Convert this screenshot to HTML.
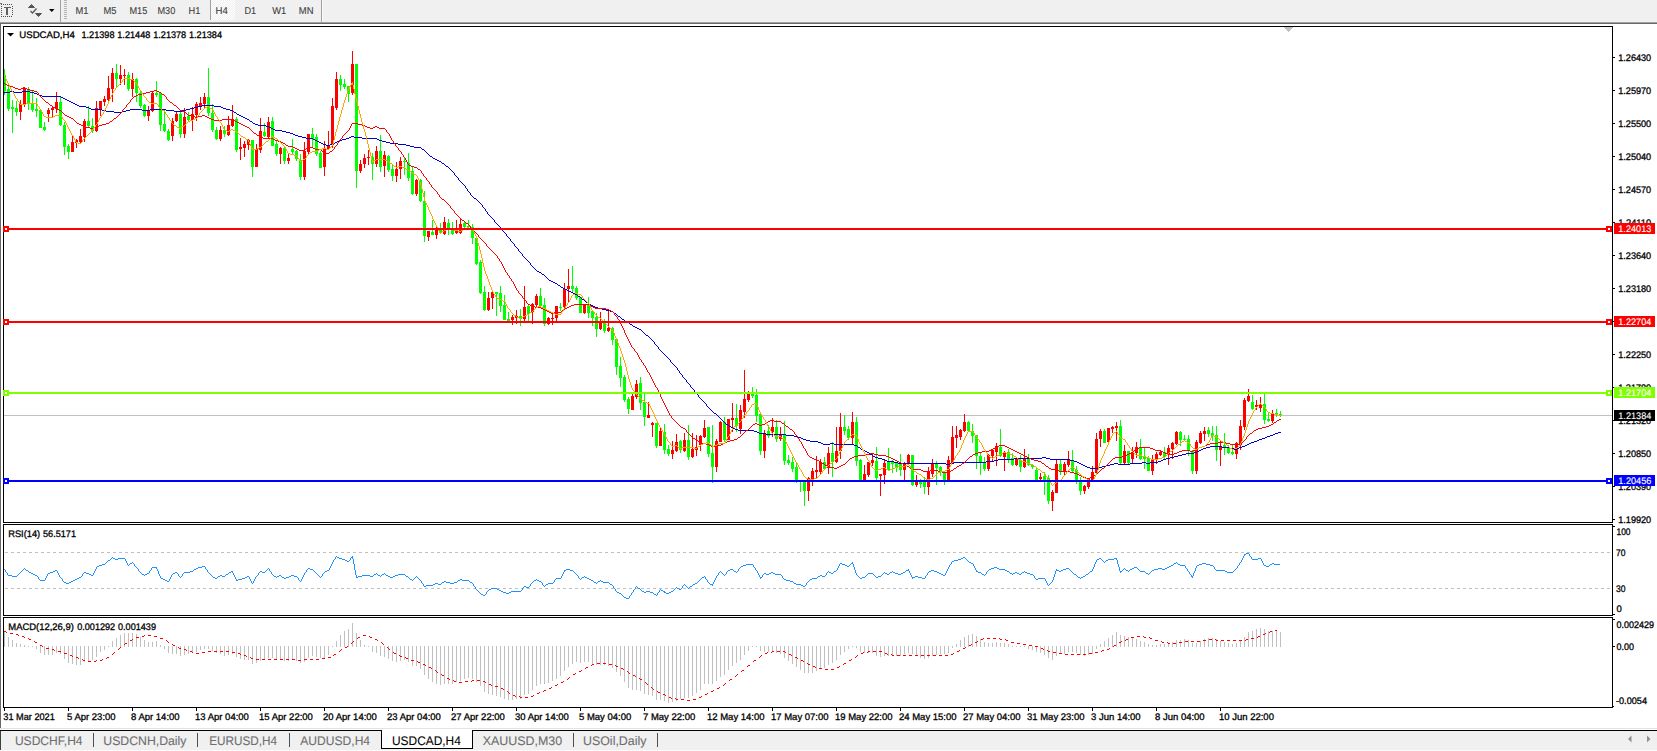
<!DOCTYPE html>
<html><head><meta charset="utf-8"><title>USDCAD,H4</title>
<style>
html,body{margin:0;padding:0;background:#fff;overflow:hidden}
svg{display:block;font-family:"Liberation Sans",sans-serif}
text{text-rendering:geometricPrecision}
</style></head><body>
<svg width="1657" height="751" viewBox="0 0 1657 751">
<rect x="0" y="0" width="1657" height="751" fill="#ffffff"/>
<rect x="0" y="0" width="1657" height="22" fill="#f0f0f0"/>
<rect x="0" y="22" width="1657" height="1" fill="#a0a0a0"/>
<rect x="0" y="23" width="1657" height="1" fill="#696969"/>
<rect x="0" y="24" width="1" height="704" fill="#696969"/>
<rect x="1" y="4" width="1" height="1" fill="#505050"/>
<rect x="1" y="16" width="1" height="1" fill="#505050"/>
<rect x="3" y="4" width="1" height="1" fill="#505050"/>
<rect x="3" y="16" width="1" height="1" fill="#505050"/>
<rect x="5" y="4" width="1" height="1" fill="#505050"/>
<rect x="5" y="16" width="1" height="1" fill="#505050"/>
<rect x="7" y="4" width="1" height="1" fill="#505050"/>
<rect x="7" y="16" width="1" height="1" fill="#505050"/>
<rect x="9" y="4" width="1" height="1" fill="#505050"/>
<rect x="9" y="16" width="1" height="1" fill="#505050"/>
<rect x="11" y="4" width="1" height="1" fill="#505050"/>
<rect x="11" y="16" width="1" height="1" fill="#505050"/>
<rect x="1" y="6" width="1" height="1" fill="#505050"/>
<rect x="12" y="6" width="1" height="1" fill="#505050"/>
<rect x="1" y="8" width="1" height="1" fill="#505050"/>
<rect x="12" y="8" width="1" height="1" fill="#505050"/>
<rect x="1" y="10" width="1" height="1" fill="#505050"/>
<rect x="12" y="10" width="1" height="1" fill="#505050"/>
<rect x="1" y="12" width="1" height="1" fill="#505050"/>
<rect x="12" y="12" width="1" height="1" fill="#505050"/>
<rect x="1" y="14" width="1" height="1" fill="#505050"/>
<rect x="12" y="14" width="1" height="1" fill="#505050"/>
<rect x="0" y="3" width="2" height="1" fill="#707070"/>
<rect x="4" y="7" width="7" height="1" fill="#606060"/>
<rect x="6" y="7" width="2" height="8" fill="#606060"/>
<path d="M28.5 7.5 L31.5 4.5 L34.5 7.5 Z M35.5 13.5 L38.5 16.5 L41.5 13.5 Z" fill="#555" stroke="#555" stroke-width="1" shape-rendering="auto"/>
<path d="M30.5 11 L32.5 13 L36.5 8.5" fill="none" stroke="#555" stroke-width="1.3" shape-rendering="auto"/>
<path d="M49 9 L54.5 9 L51.75 12 Z" fill="#000" shape-rendering="auto"/>
<rect x="60" y="0" width="1" height="22" fill="#a0a0a0"/>
<rect x="64" y="0" width="3" height="1" fill="#b4b4b4"/>
<rect x="64" y="2" width="3" height="1" fill="#b4b4b4"/>
<rect x="64" y="4" width="3" height="1" fill="#b4b4b4"/>
<rect x="64" y="6" width="3" height="1" fill="#b4b4b4"/>
<rect x="64" y="8" width="3" height="1" fill="#b4b4b4"/>
<rect x="64" y="10" width="3" height="1" fill="#b4b4b4"/>
<rect x="64" y="12" width="3" height="1" fill="#b4b4b4"/>
<rect x="64" y="14" width="3" height="1" fill="#b4b4b4"/>
<rect x="64" y="16" width="3" height="1" fill="#b4b4b4"/>
<rect x="64" y="18" width="3" height="1" fill="#b4b4b4"/>
<rect x="210" y="0" width="1" height="20" fill="#a0a0a0"/>
<defs><pattern id="dith" width="2" height="2" patternUnits="userSpaceOnUse"><rect width="2" height="2" fill="#f0f0f0"/><rect width="1" height="1" fill="#fff"/><rect x="1" y="1" width="1" height="1" fill="#fff"/></pattern></defs>
<rect x="211" y="0" width="24" height="20" fill="url(#dith)" shape-rendering="crispEdges"/>
<rect x="321" y="0" width="1" height="22" fill="#a0a0a0"/>
<rect x="322" y="0" width="1" height="22" fill="#fafafa"/>
<text x="75.5" y="14" font-size="10" fill="#3c3c3c" stroke="#3c3c3c" stroke-width="0.1" textLength="13" lengthAdjust="spacingAndGlyphs">M1</text>
<text x="103.5" y="14" font-size="10" fill="#3c3c3c" stroke="#3c3c3c" stroke-width="0.1" textLength="13" lengthAdjust="spacingAndGlyphs">M5</text>
<text x="129.5" y="14" font-size="10" fill="#3c3c3c" stroke="#3c3c3c" stroke-width="0.1" textLength="17.8" lengthAdjust="spacingAndGlyphs">M15</text>
<text x="157.5" y="14" font-size="10" fill="#3c3c3c" stroke="#3c3c3c" stroke-width="0.1" textLength="17.8" lengthAdjust="spacingAndGlyphs">M30</text>
<text x="188.5" y="14" font-size="10" fill="#3c3c3c" stroke="#3c3c3c" stroke-width="0.1" textLength="11.8" lengthAdjust="spacingAndGlyphs">H1</text>
<text x="215.5" y="14" font-size="10" fill="#3c3c3c" stroke="#3c3c3c" stroke-width="0.1" textLength="12.3" lengthAdjust="spacingAndGlyphs">H4</text>
<text x="244.5" y="14" font-size="10" fill="#3c3c3c" stroke="#3c3c3c" stroke-width="0.1" textLength="11.7" lengthAdjust="spacingAndGlyphs">D1</text>
<text x="272.2" y="14" font-size="10" fill="#3c3c3c" stroke="#3c3c3c" stroke-width="0.1" textLength="14" lengthAdjust="spacingAndGlyphs">W1</text>
<text x="298.8" y="14" font-size="10" fill="#3c3c3c" stroke="#3c3c3c" stroke-width="0.1" textLength="14.7" lengthAdjust="spacingAndGlyphs">MN</text>
<g shape-rendering="crispEdges">
<rect x="4" y="415" width="1608" height="1" fill="#c0c0c0"/>
<rect x="4" y="69" width="1" height="26" fill="#00ff00"/>
<rect x="3" y="75" width="3" height="16" fill="#00ff00"/>
<rect x="8" y="86" width="1" height="25" fill="#00ff00"/>
<rect x="7" y="89" width="3" height="20" fill="#00ff00"/>
<rect x="12" y="100" width="1" height="33" fill="#00ff00"/>
<rect x="11" y="107" width="3" height="2" fill="#00ff00"/>
<rect x="16" y="101" width="1" height="15" fill="#00ff00"/>
<rect x="15" y="108" width="3" height="4" fill="#00ff00"/>
<rect x="20" y="100" width="1" height="20" fill="#ff0000"/>
<rect x="19" y="104" width="3" height="8" fill="#ff0000"/>
<rect x="24" y="87" width="1" height="20" fill="#ff0000"/>
<rect x="23" y="88" width="3" height="16" fill="#ff0000"/>
<rect x="28" y="87" width="1" height="23" fill="#00ff00"/>
<rect x="27" y="89" width="3" height="15" fill="#00ff00"/>
<rect x="32" y="91" width="1" height="21" fill="#00ff00"/>
<rect x="31" y="103" width="3" height="7" fill="#00ff00"/>
<rect x="36" y="98" width="1" height="19" fill="#00ff00"/>
<rect x="35" y="109" width="3" height="2" fill="#00ff00"/>
<rect x="40" y="110" width="1" height="18" fill="#00ff00"/>
<rect x="39" y="110" width="3" height="18" fill="#00ff00"/>
<rect x="44" y="122" width="1" height="9" fill="#00ff00"/>
<rect x="43" y="127" width="3" height="3" fill="#00ff00"/>
<rect x="48" y="108" width="1" height="14" fill="#ff0000"/>
<rect x="47" y="110" width="3" height="4" fill="#ff0000"/>
<rect x="52" y="106" width="1" height="11" fill="#ff0000"/>
<rect x="51" y="108" width="3" height="2" fill="#ff0000"/>
<rect x="56" y="92" width="1" height="21" fill="#ff0000"/>
<rect x="55" y="102" width="3" height="7" fill="#ff0000"/>
<rect x="60" y="97" width="1" height="29" fill="#00ff00"/>
<rect x="59" y="102" width="3" height="23" fill="#00ff00"/>
<rect x="64" y="122" width="1" height="33" fill="#00ff00"/>
<rect x="63" y="125" width="3" height="22" fill="#00ff00"/>
<rect x="68" y="144" width="1" height="15" fill="#00ff00"/>
<rect x="67" y="146" width="3" height="6" fill="#00ff00"/>
<rect x="72" y="135" width="1" height="17" fill="#ff0000"/>
<rect x="71" y="142" width="3" height="10" fill="#ff0000"/>
<rect x="76" y="139" width="1" height="9" fill="#ff0000"/>
<rect x="75" y="140" width="3" height="3" fill="#ff0000"/>
<rect x="80" y="129" width="1" height="14" fill="#ff0000"/>
<rect x="79" y="136" width="3" height="6" fill="#ff0000"/>
<rect x="84" y="119" width="1" height="23" fill="#ff0000"/>
<rect x="83" y="121" width="3" height="16" fill="#ff0000"/>
<rect x="88" y="106" width="1" height="21" fill="#00ff00"/>
<rect x="87" y="121" width="3" height="5" fill="#00ff00"/>
<rect x="92" y="118" width="1" height="15" fill="#00ff00"/>
<rect x="91" y="126" width="3" height="5" fill="#00ff00"/>
<rect x="96" y="101" width="1" height="31" fill="#ff0000"/>
<rect x="95" y="108" width="3" height="23" fill="#ff0000"/>
<rect x="100" y="101" width="1" height="15" fill="#ff0000"/>
<rect x="99" y="101" width="3" height="8" fill="#ff0000"/>
<rect x="104" y="96" width="1" height="10" fill="#ff0000"/>
<rect x="103" y="99" width="3" height="3" fill="#ff0000"/>
<rect x="108" y="76" width="1" height="26" fill="#ff0000"/>
<rect x="107" y="88" width="3" height="12" fill="#ff0000"/>
<rect x="112" y="68" width="1" height="34" fill="#ff0000"/>
<rect x="111" y="73" width="3" height="16" fill="#ff0000"/>
<rect x="116" y="64" width="1" height="24" fill="#00ff00"/>
<rect x="115" y="73" width="3" height="6" fill="#00ff00"/>
<rect x="120" y="65" width="1" height="20" fill="#ff0000"/>
<rect x="119" y="75" width="3" height="4" fill="#ff0000"/>
<rect x="124" y="69" width="1" height="16" fill="#ff0000"/>
<rect x="123" y="75" width="3" height="1" fill="#ff0000"/>
<rect x="128" y="72" width="1" height="19" fill="#00ff00"/>
<rect x="127" y="75" width="3" height="14" fill="#00ff00"/>
<rect x="132" y="73" width="1" height="24" fill="#ff0000"/>
<rect x="131" y="79" width="3" height="10" fill="#ff0000"/>
<rect x="136" y="78" width="1" height="24" fill="#00ff00"/>
<rect x="135" y="79" width="3" height="14" fill="#00ff00"/>
<rect x="140" y="90" width="1" height="18" fill="#00ff00"/>
<rect x="139" y="93" width="3" height="13" fill="#00ff00"/>
<rect x="144" y="104" width="1" height="13" fill="#00ff00"/>
<rect x="143" y="105" width="3" height="11" fill="#00ff00"/>
<rect x="148" y="106" width="1" height="15" fill="#ff0000"/>
<rect x="147" y="110" width="3" height="6" fill="#ff0000"/>
<rect x="152" y="91" width="1" height="21" fill="#ff0000"/>
<rect x="151" y="93" width="3" height="18" fill="#ff0000"/>
<rect x="156" y="81" width="1" height="16" fill="#00ff00"/>
<rect x="155" y="93" width="3" height="2" fill="#00ff00"/>
<rect x="160" y="93" width="1" height="38" fill="#00ff00"/>
<rect x="159" y="93" width="3" height="32" fill="#00ff00"/>
<rect x="164" y="109" width="1" height="23" fill="#00ff00"/>
<rect x="163" y="124" width="3" height="7" fill="#00ff00"/>
<rect x="168" y="129" width="1" height="12" fill="#00ff00"/>
<rect x="167" y="131" width="3" height="9" fill="#00ff00"/>
<rect x="172" y="118" width="1" height="23" fill="#ff0000"/>
<rect x="171" y="121" width="3" height="15" fill="#ff0000"/>
<rect x="176" y="112" width="1" height="10" fill="#ff0000"/>
<rect x="175" y="114" width="3" height="7" fill="#ff0000"/>
<rect x="180" y="111" width="1" height="27" fill="#00ff00"/>
<rect x="179" y="114" width="3" height="20" fill="#00ff00"/>
<rect x="184" y="108" width="1" height="30" fill="#ff0000"/>
<rect x="183" y="117" width="3" height="17" fill="#ff0000"/>
<rect x="188" y="112" width="1" height="9" fill="#00ff00"/>
<rect x="187" y="116" width="3" height="4" fill="#00ff00"/>
<rect x="192" y="107" width="1" height="24" fill="#ff0000"/>
<rect x="191" y="114" width="3" height="6" fill="#ff0000"/>
<rect x="196" y="102" width="1" height="19" fill="#ff0000"/>
<rect x="195" y="104" width="3" height="11" fill="#ff0000"/>
<rect x="200" y="97" width="1" height="13" fill="#ff0000"/>
<rect x="199" y="103" width="3" height="4" fill="#ff0000"/>
<rect x="204" y="93" width="1" height="15" fill="#ff0000"/>
<rect x="203" y="97" width="3" height="7" fill="#ff0000"/>
<rect x="208" y="68" width="1" height="48" fill="#00ff00"/>
<rect x="207" y="97" width="3" height="16" fill="#00ff00"/>
<rect x="212" y="104" width="1" height="28" fill="#00ff00"/>
<rect x="211" y="113" width="3" height="17" fill="#00ff00"/>
<rect x="216" y="127" width="1" height="13" fill="#00ff00"/>
<rect x="215" y="130" width="3" height="9" fill="#00ff00"/>
<rect x="220" y="126" width="1" height="15" fill="#ff0000"/>
<rect x="219" y="130" width="3" height="9" fill="#ff0000"/>
<rect x="224" y="126" width="1" height="11" fill="#00ff00"/>
<rect x="223" y="130" width="3" height="4" fill="#00ff00"/>
<rect x="228" y="116" width="1" height="20" fill="#ff0000"/>
<rect x="227" y="125" width="3" height="10" fill="#ff0000"/>
<rect x="232" y="105" width="1" height="22" fill="#ff0000"/>
<rect x="231" y="119" width="3" height="7" fill="#ff0000"/>
<rect x="236" y="117" width="1" height="35" fill="#00ff00"/>
<rect x="235" y="119" width="3" height="31" fill="#00ff00"/>
<rect x="240" y="138" width="1" height="22" fill="#ff0000"/>
<rect x="239" y="147" width="3" height="2" fill="#ff0000"/>
<rect x="244" y="141" width="1" height="16" fill="#ff0000"/>
<rect x="243" y="144" width="3" height="4" fill="#ff0000"/>
<rect x="248" y="139" width="1" height="11" fill="#ff0000"/>
<rect x="247" y="140" width="3" height="5" fill="#ff0000"/>
<rect x="252" y="140" width="1" height="37" fill="#00ff00"/>
<rect x="251" y="140" width="3" height="27" fill="#00ff00"/>
<rect x="256" y="144" width="1" height="23" fill="#ff0000"/>
<rect x="255" y="149" width="3" height="18" fill="#ff0000"/>
<rect x="260" y="118" width="1" height="35" fill="#ff0000"/>
<rect x="259" y="131" width="3" height="19" fill="#ff0000"/>
<rect x="264" y="123" width="1" height="14" fill="#00ff00"/>
<rect x="263" y="132" width="3" height="4" fill="#00ff00"/>
<rect x="268" y="117" width="1" height="21" fill="#ff0000"/>
<rect x="267" y="122" width="3" height="15" fill="#ff0000"/>
<rect x="272" y="117" width="1" height="29" fill="#00ff00"/>
<rect x="271" y="121" width="3" height="25" fill="#00ff00"/>
<rect x="276" y="141" width="1" height="15" fill="#00ff00"/>
<rect x="275" y="144" width="3" height="10" fill="#00ff00"/>
<rect x="280" y="147" width="1" height="17" fill="#ff0000"/>
<rect x="279" y="148" width="3" height="6" fill="#ff0000"/>
<rect x="284" y="147" width="1" height="17" fill="#00ff00"/>
<rect x="283" y="148" width="3" height="13" fill="#00ff00"/>
<rect x="288" y="154" width="1" height="10" fill="#ff0000"/>
<rect x="287" y="158" width="3" height="3" fill="#ff0000"/>
<rect x="292" y="139" width="1" height="15" fill="#00ff00"/>
<rect x="291" y="149" width="3" height="3" fill="#00ff00"/>
<rect x="296" y="150" width="1" height="11" fill="#00ff00"/>
<rect x="295" y="151" width="3" height="8" fill="#00ff00"/>
<rect x="300" y="154" width="1" height="26" fill="#00ff00"/>
<rect x="299" y="160" width="3" height="17" fill="#00ff00"/>
<rect x="304" y="142" width="1" height="38" fill="#ff0000"/>
<rect x="303" y="151" width="3" height="26" fill="#ff0000"/>
<rect x="308" y="134" width="1" height="20" fill="#ff0000"/>
<rect x="307" y="134" width="3" height="18" fill="#ff0000"/>
<rect x="312" y="128" width="1" height="19" fill="#00ff00"/>
<rect x="311" y="134" width="3" height="5" fill="#00ff00"/>
<rect x="316" y="134" width="1" height="22" fill="#00ff00"/>
<rect x="315" y="137" width="3" height="17" fill="#00ff00"/>
<rect x="320" y="151" width="1" height="17" fill="#00ff00"/>
<rect x="319" y="153" width="3" height="15" fill="#00ff00"/>
<rect x="324" y="141" width="1" height="35" fill="#ff0000"/>
<rect x="323" y="148" width="3" height="19" fill="#ff0000"/>
<rect x="328" y="131" width="1" height="19" fill="#ff0000"/>
<rect x="327" y="146" width="3" height="3" fill="#ff0000"/>
<rect x="332" y="98" width="1" height="50" fill="#ff0000"/>
<rect x="331" y="106" width="3" height="39" fill="#ff0000"/>
<rect x="336" y="72" width="1" height="38" fill="#ff0000"/>
<rect x="335" y="79" width="3" height="29" fill="#ff0000"/>
<rect x="340" y="75" width="1" height="16" fill="#00ff00"/>
<rect x="339" y="79" width="3" height="6" fill="#00ff00"/>
<rect x="344" y="79" width="1" height="10" fill="#00ff00"/>
<rect x="343" y="84" width="3" height="3" fill="#00ff00"/>
<rect x="348" y="86" width="1" height="16" fill="#00ff00"/>
<rect x="347" y="86" width="3" height="8" fill="#00ff00"/>
<rect x="352" y="51" width="1" height="44" fill="#ff0000"/>
<rect x="351" y="64" width="3" height="29" fill="#ff0000"/>
<rect x="356" y="64" width="1" height="124" fill="#00ff00"/>
<rect x="355" y="64" width="3" height="107" fill="#00ff00"/>
<rect x="360" y="160" width="1" height="13" fill="#ff0000"/>
<rect x="359" y="164" width="3" height="7" fill="#ff0000"/>
<rect x="364" y="154" width="1" height="14" fill="#ff0000"/>
<rect x="363" y="158" width="3" height="6" fill="#ff0000"/>
<rect x="368" y="150" width="1" height="15" fill="#ff0000"/>
<rect x="367" y="157" width="3" height="1" fill="#ff0000"/>
<rect x="372" y="153" width="1" height="27" fill="#00ff00"/>
<rect x="371" y="157" width="3" height="7" fill="#00ff00"/>
<rect x="376" y="146" width="1" height="21" fill="#ff0000"/>
<rect x="375" y="151" width="3" height="13" fill="#ff0000"/>
<rect x="380" y="135" width="1" height="37" fill="#00ff00"/>
<rect x="379" y="151" width="3" height="16" fill="#00ff00"/>
<rect x="384" y="151" width="1" height="26" fill="#ff0000"/>
<rect x="383" y="155" width="3" height="11" fill="#ff0000"/>
<rect x="388" y="155" width="1" height="17" fill="#00ff00"/>
<rect x="387" y="156" width="3" height="14" fill="#00ff00"/>
<rect x="392" y="165" width="1" height="16" fill="#00ff00"/>
<rect x="391" y="169" width="3" height="7" fill="#00ff00"/>
<rect x="396" y="162" width="1" height="20" fill="#ff0000"/>
<rect x="395" y="169" width="3" height="7" fill="#ff0000"/>
<rect x="400" y="157" width="1" height="22" fill="#ff0000"/>
<rect x="399" y="161" width="3" height="8" fill="#ff0000"/>
<rect x="404" y="157" width="1" height="18" fill="#00ff00"/>
<rect x="403" y="161" width="3" height="1" fill="#00ff00"/>
<rect x="408" y="153" width="1" height="28" fill="#00ff00"/>
<rect x="407" y="163" width="3" height="15" fill="#00ff00"/>
<rect x="412" y="167" width="1" height="28" fill="#00ff00"/>
<rect x="411" y="171" width="3" height="23" fill="#00ff00"/>
<rect x="416" y="179" width="1" height="17" fill="#ff0000"/>
<rect x="415" y="180" width="3" height="14" fill="#ff0000"/>
<rect x="420" y="179" width="1" height="23" fill="#00ff00"/>
<rect x="419" y="180" width="3" height="21" fill="#00ff00"/>
<rect x="424" y="191" width="1" height="51" fill="#00ff00"/>
<rect x="423" y="201" width="3" height="35" fill="#00ff00"/>
<rect x="428" y="231" width="1" height="10" fill="#ff0000"/>
<rect x="427" y="231" width="3" height="6" fill="#ff0000"/>
<rect x="432" y="220" width="1" height="15" fill="#00ff00"/>
<rect x="431" y="232" width="3" height="3" fill="#00ff00"/>
<rect x="436" y="227" width="1" height="12" fill="#ff0000"/>
<rect x="435" y="228" width="3" height="7" fill="#ff0000"/>
<rect x="440" y="223" width="1" height="11" fill="#00ff00"/>
<rect x="439" y="229" width="3" height="4" fill="#00ff00"/>
<rect x="444" y="217" width="1" height="18" fill="#ff0000"/>
<rect x="443" y="222" width="3" height="12" fill="#ff0000"/>
<rect x="448" y="219" width="1" height="16" fill="#00ff00"/>
<rect x="447" y="223" width="3" height="5" fill="#00ff00"/>
<rect x="452" y="222" width="1" height="13" fill="#00ff00"/>
<rect x="451" y="230" width="3" height="4" fill="#00ff00"/>
<rect x="456" y="220" width="1" height="14" fill="#ff0000"/>
<rect x="455" y="231" width="3" height="2" fill="#ff0000"/>
<rect x="460" y="218" width="1" height="16" fill="#ff0000"/>
<rect x="459" y="224" width="3" height="9" fill="#ff0000"/>
<rect x="464" y="221" width="1" height="9" fill="#00ff00"/>
<rect x="463" y="223" width="3" height="4" fill="#00ff00"/>
<rect x="468" y="220" width="1" height="10" fill="#00ff00"/>
<rect x="467" y="226" width="3" height="1" fill="#00ff00"/>
<rect x="472" y="224" width="1" height="20" fill="#00ff00"/>
<rect x="471" y="227" width="3" height="11" fill="#00ff00"/>
<rect x="476" y="238" width="1" height="27" fill="#00ff00"/>
<rect x="475" y="238" width="3" height="26" fill="#00ff00"/>
<rect x="480" y="260" width="1" height="34" fill="#00ff00"/>
<rect x="479" y="262" width="3" height="31" fill="#00ff00"/>
<rect x="484" y="286" width="1" height="25" fill="#00ff00"/>
<rect x="483" y="292" width="3" height="18" fill="#00ff00"/>
<rect x="488" y="292" width="1" height="19" fill="#ff0000"/>
<rect x="487" y="298" width="3" height="12" fill="#ff0000"/>
<rect x="492" y="292" width="1" height="17" fill="#ff0000"/>
<rect x="491" y="292" width="3" height="6" fill="#ff0000"/>
<rect x="496" y="292" width="1" height="24" fill="#00ff00"/>
<rect x="495" y="292" width="3" height="2" fill="#00ff00"/>
<rect x="500" y="286" width="1" height="26" fill="#00ff00"/>
<rect x="499" y="293" width="3" height="13" fill="#00ff00"/>
<rect x="504" y="295" width="1" height="25" fill="#00ff00"/>
<rect x="503" y="305" width="3" height="15" fill="#00ff00"/>
<rect x="508" y="312" width="1" height="9" fill="#00ff00"/>
<rect x="507" y="319" width="3" height="2" fill="#00ff00"/>
<rect x="512" y="315" width="1" height="10" fill="#ff0000"/>
<rect x="511" y="317" width="3" height="3" fill="#ff0000"/>
<rect x="516" y="310" width="1" height="14" fill="#ff0000"/>
<rect x="515" y="316" width="3" height="2" fill="#ff0000"/>
<rect x="520" y="309" width="1" height="17" fill="#00ff00"/>
<rect x="519" y="316" width="3" height="3" fill="#00ff00"/>
<rect x="524" y="286" width="1" height="35" fill="#ff0000"/>
<rect x="523" y="307" width="3" height="12" fill="#ff0000"/>
<rect x="528" y="305" width="1" height="16" fill="#00ff00"/>
<rect x="527" y="306" width="3" height="8" fill="#00ff00"/>
<rect x="532" y="303" width="1" height="21" fill="#ff0000"/>
<rect x="531" y="304" width="3" height="8" fill="#ff0000"/>
<rect x="536" y="294" width="1" height="14" fill="#ff0000"/>
<rect x="535" y="296" width="3" height="9" fill="#ff0000"/>
<rect x="540" y="288" width="1" height="19" fill="#00ff00"/>
<rect x="539" y="296" width="3" height="10" fill="#00ff00"/>
<rect x="544" y="298" width="1" height="28" fill="#00ff00"/>
<rect x="543" y="305" width="3" height="19" fill="#00ff00"/>
<rect x="548" y="317" width="1" height="8" fill="#ff0000"/>
<rect x="547" y="318" width="3" height="6" fill="#ff0000"/>
<rect x="552" y="313" width="1" height="12" fill="#ff0000"/>
<rect x="551" y="318" width="3" height="1" fill="#ff0000"/>
<rect x="556" y="306" width="1" height="15" fill="#ff0000"/>
<rect x="555" y="306" width="3" height="12" fill="#ff0000"/>
<rect x="560" y="303" width="1" height="8" fill="#00ff00"/>
<rect x="559" y="307" width="3" height="1" fill="#00ff00"/>
<rect x="564" y="283" width="1" height="25" fill="#ff0000"/>
<rect x="563" y="289" width="3" height="18" fill="#ff0000"/>
<rect x="568" y="269" width="1" height="33" fill="#ff0000"/>
<rect x="567" y="286" width="3" height="3" fill="#ff0000"/>
<rect x="572" y="266" width="1" height="27" fill="#00ff00"/>
<rect x="571" y="286" width="3" height="3" fill="#00ff00"/>
<rect x="576" y="286" width="1" height="14" fill="#00ff00"/>
<rect x="575" y="288" width="3" height="10" fill="#00ff00"/>
<rect x="580" y="297" width="1" height="16" fill="#00ff00"/>
<rect x="579" y="297" width="3" height="16" fill="#00ff00"/>
<rect x="584" y="304" width="1" height="10" fill="#ff0000"/>
<rect x="583" y="304" width="3" height="9" fill="#ff0000"/>
<rect x="588" y="297" width="1" height="21" fill="#00ff00"/>
<rect x="587" y="304" width="3" height="9" fill="#00ff00"/>
<rect x="592" y="311" width="1" height="15" fill="#00ff00"/>
<rect x="591" y="311" width="3" height="7" fill="#00ff00"/>
<rect x="596" y="313" width="1" height="24" fill="#00ff00"/>
<rect x="595" y="317" width="3" height="12" fill="#00ff00"/>
<rect x="600" y="312" width="1" height="18" fill="#ff0000"/>
<rect x="599" y="322" width="3" height="7" fill="#ff0000"/>
<rect x="604" y="319" width="1" height="14" fill="#00ff00"/>
<rect x="603" y="323" width="3" height="8" fill="#00ff00"/>
<rect x="608" y="310" width="1" height="22" fill="#ff0000"/>
<rect x="607" y="328" width="3" height="3" fill="#ff0000"/>
<rect x="612" y="327" width="1" height="18" fill="#00ff00"/>
<rect x="611" y="328" width="3" height="12" fill="#00ff00"/>
<rect x="616" y="339" width="1" height="36" fill="#00ff00"/>
<rect x="615" y="339" width="3" height="28" fill="#00ff00"/>
<rect x="620" y="357" width="1" height="30" fill="#00ff00"/>
<rect x="619" y="366" width="3" height="12" fill="#00ff00"/>
<rect x="624" y="375" width="1" height="27" fill="#00ff00"/>
<rect x="623" y="377" width="3" height="23" fill="#00ff00"/>
<rect x="628" y="397" width="1" height="17" fill="#00ff00"/>
<rect x="627" y="399" width="3" height="10" fill="#00ff00"/>
<rect x="632" y="394" width="1" height="16" fill="#ff0000"/>
<rect x="631" y="396" width="3" height="14" fill="#ff0000"/>
<rect x="636" y="380" width="1" height="19" fill="#ff0000"/>
<rect x="635" y="384" width="3" height="13" fill="#ff0000"/>
<rect x="640" y="377" width="1" height="33" fill="#00ff00"/>
<rect x="639" y="383" width="3" height="20" fill="#00ff00"/>
<rect x="644" y="394" width="1" height="32" fill="#00ff00"/>
<rect x="643" y="402" width="3" height="15" fill="#00ff00"/>
<rect x="648" y="402" width="1" height="16" fill="#ff0000"/>
<rect x="647" y="415" width="3" height="3" fill="#ff0000"/>
<rect x="652" y="422" width="1" height="15" fill="#ff0000"/>
<rect x="651" y="423" width="3" height="2" fill="#ff0000"/>
<rect x="656" y="423" width="1" height="25" fill="#00ff00"/>
<rect x="655" y="423" width="3" height="23" fill="#00ff00"/>
<rect x="660" y="427" width="1" height="19" fill="#ff0000"/>
<rect x="659" y="431" width="3" height="15" fill="#ff0000"/>
<rect x="664" y="424" width="1" height="30" fill="#00ff00"/>
<rect x="663" y="432" width="3" height="18" fill="#00ff00"/>
<rect x="668" y="445" width="1" height="11" fill="#00ff00"/>
<rect x="667" y="449" width="3" height="5" fill="#00ff00"/>
<rect x="672" y="441" width="1" height="18" fill="#ff0000"/>
<rect x="671" y="450" width="3" height="4" fill="#ff0000"/>
<rect x="676" y="434" width="1" height="18" fill="#ff0000"/>
<rect x="675" y="442" width="3" height="9" fill="#ff0000"/>
<rect x="680" y="440" width="1" height="13" fill="#00ff00"/>
<rect x="679" y="441" width="3" height="9" fill="#00ff00"/>
<rect x="684" y="433" width="1" height="19" fill="#ff0000"/>
<rect x="683" y="440" width="3" height="11" fill="#ff0000"/>
<rect x="688" y="425" width="1" height="35" fill="#00ff00"/>
<rect x="687" y="440" width="3" height="17" fill="#00ff00"/>
<rect x="692" y="433" width="1" height="25" fill="#ff0000"/>
<rect x="691" y="449" width="3" height="8" fill="#ff0000"/>
<rect x="696" y="435" width="1" height="21" fill="#ff0000"/>
<rect x="695" y="447" width="3" height="3" fill="#ff0000"/>
<rect x="700" y="435" width="1" height="16" fill="#ff0000"/>
<rect x="699" y="436" width="3" height="9" fill="#ff0000"/>
<rect x="704" y="420" width="1" height="18" fill="#ff0000"/>
<rect x="703" y="428" width="3" height="9" fill="#ff0000"/>
<rect x="708" y="427" width="1" height="30" fill="#00ff00"/>
<rect x="707" y="427" width="3" height="27" fill="#00ff00"/>
<rect x="712" y="425" width="1" height="58" fill="#00ff00"/>
<rect x="711" y="453" width="3" height="14" fill="#00ff00"/>
<rect x="716" y="439" width="1" height="33" fill="#ff0000"/>
<rect x="715" y="441" width="3" height="26" fill="#ff0000"/>
<rect x="720" y="421" width="1" height="21" fill="#ff0000"/>
<rect x="719" y="422" width="3" height="20" fill="#ff0000"/>
<rect x="724" y="417" width="1" height="25" fill="#00ff00"/>
<rect x="723" y="422" width="3" height="18" fill="#00ff00"/>
<rect x="728" y="419" width="1" height="21" fill="#ff0000"/>
<rect x="727" y="419" width="3" height="21" fill="#ff0000"/>
<rect x="732" y="403" width="1" height="29" fill="#ff0000"/>
<rect x="731" y="418" width="3" height="2" fill="#ff0000"/>
<rect x="736" y="404" width="1" height="28" fill="#00ff00"/>
<rect x="735" y="418" width="3" height="8" fill="#00ff00"/>
<rect x="740" y="405" width="1" height="29" fill="#ff0000"/>
<rect x="739" y="410" width="3" height="19" fill="#ff0000"/>
<rect x="744" y="370" width="1" height="48" fill="#ff0000"/>
<rect x="743" y="399" width="3" height="13" fill="#ff0000"/>
<rect x="748" y="391" width="1" height="11" fill="#ff0000"/>
<rect x="747" y="394" width="3" height="6" fill="#ff0000"/>
<rect x="752" y="387" width="1" height="11" fill="#00ff00"/>
<rect x="751" y="394" width="3" height="2" fill="#00ff00"/>
<rect x="756" y="389" width="1" height="33" fill="#00ff00"/>
<rect x="755" y="395" width="3" height="21" fill="#00ff00"/>
<rect x="760" y="414" width="1" height="41" fill="#00ff00"/>
<rect x="759" y="414" width="3" height="37" fill="#00ff00"/>
<rect x="764" y="430" width="1" height="28" fill="#ff0000"/>
<rect x="763" y="433" width="3" height="18" fill="#ff0000"/>
<rect x="768" y="425" width="1" height="13" fill="#00ff00"/>
<rect x="767" y="431" width="3" height="5" fill="#00ff00"/>
<rect x="772" y="418" width="1" height="19" fill="#ff0000"/>
<rect x="771" y="427" width="3" height="5" fill="#ff0000"/>
<rect x="776" y="420" width="1" height="22" fill="#00ff00"/>
<rect x="775" y="427" width="3" height="12" fill="#00ff00"/>
<rect x="780" y="427" width="1" height="14" fill="#ff0000"/>
<rect x="779" y="435" width="3" height="4" fill="#ff0000"/>
<rect x="784" y="421" width="1" height="44" fill="#00ff00"/>
<rect x="783" y="435" width="3" height="26" fill="#00ff00"/>
<rect x="788" y="455" width="1" height="10" fill="#00ff00"/>
<rect x="787" y="460" width="3" height="3" fill="#00ff00"/>
<rect x="792" y="457" width="1" height="15" fill="#00ff00"/>
<rect x="791" y="462" width="3" height="7" fill="#00ff00"/>
<rect x="796" y="462" width="1" height="21" fill="#00ff00"/>
<rect x="795" y="467" width="3" height="14" fill="#00ff00"/>
<rect x="800" y="480" width="1" height="12" fill="#00ff00"/>
<rect x="799" y="480" width="3" height="2" fill="#00ff00"/>
<rect x="804" y="480" width="1" height="26" fill="#00ff00"/>
<rect x="803" y="481" width="3" height="10" fill="#00ff00"/>
<rect x="808" y="477" width="1" height="24" fill="#ff0000"/>
<rect x="807" y="478" width="3" height="13" fill="#ff0000"/>
<rect x="812" y="468" width="1" height="18" fill="#ff0000"/>
<rect x="811" y="471" width="3" height="8" fill="#ff0000"/>
<rect x="816" y="456" width="1" height="23" fill="#ff0000"/>
<rect x="815" y="470" width="3" height="2" fill="#ff0000"/>
<rect x="820" y="459" width="1" height="15" fill="#ff0000"/>
<rect x="819" y="462" width="3" height="10" fill="#ff0000"/>
<rect x="824" y="457" width="1" height="12" fill="#00ff00"/>
<rect x="823" y="462" width="3" height="7" fill="#00ff00"/>
<rect x="828" y="447" width="1" height="27" fill="#ff0000"/>
<rect x="827" y="453" width="3" height="15" fill="#ff0000"/>
<rect x="832" y="442" width="1" height="35" fill="#00ff00"/>
<rect x="831" y="453" width="3" height="9" fill="#00ff00"/>
<rect x="836" y="427" width="1" height="36" fill="#ff0000"/>
<rect x="835" y="451" width="3" height="11" fill="#ff0000"/>
<rect x="840" y="413" width="1" height="46" fill="#ff0000"/>
<rect x="839" y="427" width="3" height="24" fill="#ff0000"/>
<rect x="844" y="415" width="1" height="20" fill="#00ff00"/>
<rect x="843" y="427" width="3" height="4" fill="#00ff00"/>
<rect x="848" y="426" width="1" height="14" fill="#00ff00"/>
<rect x="847" y="429" width="3" height="9" fill="#00ff00"/>
<rect x="852" y="412" width="1" height="32" fill="#ff0000"/>
<rect x="851" y="422" width="3" height="16" fill="#ff0000"/>
<rect x="856" y="417" width="1" height="49" fill="#00ff00"/>
<rect x="855" y="422" width="3" height="39" fill="#00ff00"/>
<rect x="860" y="459" width="1" height="21" fill="#00ff00"/>
<rect x="859" y="460" width="3" height="20" fill="#00ff00"/>
<rect x="864" y="465" width="1" height="15" fill="#ff0000"/>
<rect x="863" y="474" width="3" height="6" fill="#ff0000"/>
<rect x="868" y="462" width="1" height="15" fill="#ff0000"/>
<rect x="867" y="462" width="3" height="13" fill="#ff0000"/>
<rect x="872" y="453" width="1" height="13" fill="#ff0000"/>
<rect x="871" y="460" width="3" height="3" fill="#ff0000"/>
<rect x="876" y="447" width="1" height="33" fill="#00ff00"/>
<rect x="875" y="461" width="3" height="17" fill="#00ff00"/>
<rect x="880" y="474" width="1" height="22" fill="#ff0000"/>
<rect x="879" y="474" width="3" height="2" fill="#ff0000"/>
<rect x="884" y="460" width="1" height="24" fill="#ff0000"/>
<rect x="883" y="463" width="3" height="12" fill="#ff0000"/>
<rect x="888" y="448" width="1" height="23" fill="#00ff00"/>
<rect x="887" y="461" width="3" height="9" fill="#00ff00"/>
<rect x="892" y="460" width="1" height="13" fill="#00ff00"/>
<rect x="891" y="462" width="3" height="2" fill="#00ff00"/>
<rect x="896" y="463" width="1" height="9" fill="#00ff00"/>
<rect x="895" y="463" width="3" height="4" fill="#00ff00"/>
<rect x="900" y="454" width="1" height="22" fill="#00ff00"/>
<rect x="899" y="464" width="3" height="6" fill="#00ff00"/>
<rect x="904" y="462" width="1" height="18" fill="#ff0000"/>
<rect x="903" y="463" width="3" height="7" fill="#ff0000"/>
<rect x="908" y="454" width="1" height="10" fill="#ff0000"/>
<rect x="907" y="455" width="3" height="9" fill="#ff0000"/>
<rect x="912" y="455" width="1" height="31" fill="#00ff00"/>
<rect x="911" y="455" width="3" height="30" fill="#00ff00"/>
<rect x="916" y="475" width="1" height="12" fill="#ff0000"/>
<rect x="915" y="481" width="3" height="4" fill="#ff0000"/>
<rect x="920" y="479" width="1" height="9" fill="#00ff00"/>
<rect x="919" y="481" width="3" height="3" fill="#00ff00"/>
<rect x="924" y="477" width="1" height="17" fill="#00ff00"/>
<rect x="923" y="481" width="3" height="6" fill="#00ff00"/>
<rect x="928" y="467" width="1" height="28" fill="#ff0000"/>
<rect x="927" y="472" width="3" height="15" fill="#ff0000"/>
<rect x="932" y="459" width="1" height="18" fill="#ff0000"/>
<rect x="931" y="463" width="3" height="11" fill="#ff0000"/>
<rect x="936" y="461" width="1" height="24" fill="#00ff00"/>
<rect x="935" y="464" width="3" height="4" fill="#00ff00"/>
<rect x="940" y="466" width="1" height="10" fill="#00ff00"/>
<rect x="939" y="467" width="3" height="5" fill="#00ff00"/>
<rect x="944" y="472" width="1" height="13" fill="#00ff00"/>
<rect x="943" y="472" width="3" height="8" fill="#00ff00"/>
<rect x="948" y="456" width="1" height="24" fill="#ff0000"/>
<rect x="947" y="460" width="3" height="20" fill="#ff0000"/>
<rect x="952" y="426" width="1" height="38" fill="#ff0000"/>
<rect x="951" y="437" width="3" height="26" fill="#ff0000"/>
<rect x="956" y="426" width="1" height="22" fill="#ff0000"/>
<rect x="955" y="435" width="3" height="3" fill="#ff0000"/>
<rect x="960" y="429" width="1" height="11" fill="#ff0000"/>
<rect x="959" y="430" width="3" height="7" fill="#ff0000"/>
<rect x="964" y="414" width="1" height="18" fill="#ff0000"/>
<rect x="963" y="422" width="3" height="9" fill="#ff0000"/>
<rect x="968" y="421" width="1" height="11" fill="#00ff00"/>
<rect x="967" y="422" width="3" height="9" fill="#00ff00"/>
<rect x="972" y="424" width="1" height="19" fill="#00ff00"/>
<rect x="971" y="431" width="3" height="5" fill="#00ff00"/>
<rect x="976" y="435" width="1" height="34" fill="#00ff00"/>
<rect x="975" y="435" width="3" height="21" fill="#00ff00"/>
<rect x="980" y="453" width="1" height="22" fill="#00ff00"/>
<rect x="979" y="456" width="3" height="7" fill="#00ff00"/>
<rect x="984" y="457" width="1" height="14" fill="#00ff00"/>
<rect x="983" y="462" width="3" height="7" fill="#00ff00"/>
<rect x="988" y="454" width="1" height="17" fill="#ff0000"/>
<rect x="987" y="455" width="3" height="14" fill="#ff0000"/>
<rect x="992" y="450" width="1" height="11" fill="#ff0000"/>
<rect x="991" y="450" width="3" height="6" fill="#ff0000"/>
<rect x="996" y="443" width="1" height="23" fill="#ff0000"/>
<rect x="995" y="446" width="3" height="6" fill="#ff0000"/>
<rect x="1000" y="429" width="1" height="28" fill="#00ff00"/>
<rect x="999" y="447" width="3" height="9" fill="#00ff00"/>
<rect x="1004" y="451" width="1" height="20" fill="#ff0000"/>
<rect x="1003" y="453" width="3" height="4" fill="#ff0000"/>
<rect x="1008" y="449" width="1" height="14" fill="#00ff00"/>
<rect x="1007" y="452" width="3" height="8" fill="#00ff00"/>
<rect x="1012" y="453" width="1" height="13" fill="#00ff00"/>
<rect x="1011" y="458" width="3" height="7" fill="#00ff00"/>
<rect x="1016" y="457" width="1" height="9" fill="#ff0000"/>
<rect x="1015" y="458" width="3" height="7" fill="#ff0000"/>
<rect x="1020" y="455" width="1" height="17" fill="#00ff00"/>
<rect x="1019" y="460" width="3" height="7" fill="#00ff00"/>
<rect x="1024" y="449" width="1" height="19" fill="#ff0000"/>
<rect x="1023" y="458" width="3" height="9" fill="#ff0000"/>
<rect x="1028" y="454" width="1" height="12" fill="#00ff00"/>
<rect x="1027" y="458" width="3" height="7" fill="#00ff00"/>
<rect x="1032" y="464" width="1" height="5" fill="#00ff00"/>
<rect x="1031" y="465" width="3" height="2" fill="#00ff00"/>
<rect x="1036" y="468" width="1" height="12" fill="#00ff00"/>
<rect x="1035" y="470" width="3" height="10" fill="#00ff00"/>
<rect x="1040" y="473" width="1" height="7" fill="#ff0000"/>
<rect x="1039" y="477" width="3" height="2" fill="#ff0000"/>
<rect x="1044" y="472" width="1" height="23" fill="#00ff00"/>
<rect x="1043" y="476" width="3" height="4" fill="#00ff00"/>
<rect x="1048" y="475" width="1" height="29" fill="#00ff00"/>
<rect x="1047" y="478" width="3" height="23" fill="#00ff00"/>
<rect x="1052" y="490" width="1" height="21" fill="#ff0000"/>
<rect x="1051" y="492" width="3" height="9" fill="#ff0000"/>
<rect x="1056" y="460" width="1" height="33" fill="#ff0000"/>
<rect x="1055" y="464" width="3" height="29" fill="#ff0000"/>
<rect x="1060" y="460" width="1" height="15" fill="#00ff00"/>
<rect x="1059" y="464" width="3" height="7" fill="#00ff00"/>
<rect x="1064" y="462" width="1" height="13" fill="#ff0000"/>
<rect x="1063" y="464" width="3" height="8" fill="#ff0000"/>
<rect x="1068" y="451" width="1" height="16" fill="#ff0000"/>
<rect x="1067" y="459" width="3" height="6" fill="#ff0000"/>
<rect x="1072" y="450" width="1" height="22" fill="#00ff00"/>
<rect x="1071" y="461" width="3" height="10" fill="#00ff00"/>
<rect x="1076" y="466" width="1" height="18" fill="#00ff00"/>
<rect x="1075" y="470" width="3" height="10" fill="#00ff00"/>
<rect x="1080" y="477" width="1" height="18" fill="#00ff00"/>
<rect x="1079" y="481" width="3" height="10" fill="#00ff00"/>
<rect x="1084" y="485" width="1" height="9" fill="#ff0000"/>
<rect x="1083" y="486" width="3" height="5" fill="#ff0000"/>
<rect x="1088" y="478" width="1" height="11" fill="#ff0000"/>
<rect x="1087" y="478" width="3" height="9" fill="#ff0000"/>
<rect x="1092" y="466" width="1" height="14" fill="#ff0000"/>
<rect x="1091" y="472" width="3" height="8" fill="#ff0000"/>
<rect x="1096" y="433" width="1" height="42" fill="#ff0000"/>
<rect x="1095" y="439" width="3" height="34" fill="#ff0000"/>
<rect x="1100" y="429" width="1" height="18" fill="#ff0000"/>
<rect x="1099" y="431" width="3" height="8" fill="#ff0000"/>
<rect x="1104" y="429" width="1" height="14" fill="#00ff00"/>
<rect x="1103" y="431" width="3" height="12" fill="#00ff00"/>
<rect x="1108" y="428" width="1" height="14" fill="#ff0000"/>
<rect x="1107" y="428" width="3" height="14" fill="#ff0000"/>
<rect x="1112" y="426" width="1" height="7" fill="#ff0000"/>
<rect x="1111" y="427" width="3" height="2" fill="#ff0000"/>
<rect x="1116" y="422" width="1" height="19" fill="#ff0000"/>
<rect x="1115" y="426" width="3" height="2" fill="#ff0000"/>
<rect x="1120" y="420" width="1" height="44" fill="#00ff00"/>
<rect x="1119" y="426" width="3" height="37" fill="#00ff00"/>
<rect x="1124" y="445" width="1" height="19" fill="#ff0000"/>
<rect x="1123" y="451" width="3" height="12" fill="#ff0000"/>
<rect x="1128" y="451" width="1" height="13" fill="#00ff00"/>
<rect x="1127" y="451" width="3" height="12" fill="#00ff00"/>
<rect x="1132" y="447" width="1" height="16" fill="#ff0000"/>
<rect x="1131" y="452" width="3" height="7" fill="#ff0000"/>
<rect x="1136" y="442" width="1" height="16" fill="#ff0000"/>
<rect x="1135" y="447" width="3" height="6" fill="#ff0000"/>
<rect x="1140" y="439" width="1" height="21" fill="#00ff00"/>
<rect x="1139" y="447" width="3" height="12" fill="#00ff00"/>
<rect x="1144" y="448" width="1" height="21" fill="#00ff00"/>
<rect x="1143" y="457" width="3" height="2" fill="#00ff00"/>
<rect x="1148" y="456" width="1" height="15" fill="#00ff00"/>
<rect x="1147" y="458" width="3" height="13" fill="#00ff00"/>
<rect x="1152" y="455" width="1" height="20" fill="#ff0000"/>
<rect x="1151" y="459" width="3" height="12" fill="#ff0000"/>
<rect x="1156" y="452" width="1" height="12" fill="#ff0000"/>
<rect x="1155" y="454" width="3" height="5" fill="#ff0000"/>
<rect x="1160" y="450" width="1" height="6" fill="#ff0000"/>
<rect x="1159" y="452" width="3" height="3" fill="#ff0000"/>
<rect x="1164" y="447" width="1" height="13" fill="#00ff00"/>
<rect x="1163" y="452" width="3" height="5" fill="#00ff00"/>
<rect x="1168" y="445" width="1" height="20" fill="#ff0000"/>
<rect x="1167" y="448" width="3" height="7" fill="#ff0000"/>
<rect x="1172" y="442" width="1" height="17" fill="#ff0000"/>
<rect x="1171" y="443" width="3" height="6" fill="#ff0000"/>
<rect x="1176" y="431" width="1" height="14" fill="#ff0000"/>
<rect x="1175" y="432" width="3" height="12" fill="#ff0000"/>
<rect x="1180" y="431" width="1" height="15" fill="#00ff00"/>
<rect x="1179" y="432" width="3" height="8" fill="#00ff00"/>
<rect x="1184" y="435" width="1" height="6" fill="#00ff00"/>
<rect x="1183" y="439" width="3" height="1" fill="#00ff00"/>
<rect x="1188" y="435" width="1" height="21" fill="#00ff00"/>
<rect x="1187" y="439" width="3" height="12" fill="#00ff00"/>
<rect x="1192" y="450" width="1" height="24" fill="#00ff00"/>
<rect x="1191" y="451" width="3" height="20" fill="#00ff00"/>
<rect x="1196" y="440" width="1" height="34" fill="#ff0000"/>
<rect x="1195" y="442" width="3" height="29" fill="#ff0000"/>
<rect x="1200" y="431" width="1" height="13" fill="#ff0000"/>
<rect x="1199" y="433" width="3" height="10" fill="#ff0000"/>
<rect x="1204" y="427" width="1" height="14" fill="#ff0000"/>
<rect x="1203" y="431" width="3" height="3" fill="#ff0000"/>
<rect x="1208" y="427" width="1" height="10" fill="#00ff00"/>
<rect x="1207" y="430" width="3" height="4" fill="#00ff00"/>
<rect x="1212" y="426" width="1" height="15" fill="#00ff00"/>
<rect x="1211" y="433" width="3" height="3" fill="#00ff00"/>
<rect x="1216" y="426" width="1" height="35" fill="#00ff00"/>
<rect x="1215" y="435" width="3" height="15" fill="#00ff00"/>
<rect x="1220" y="440" width="1" height="26" fill="#ff0000"/>
<rect x="1219" y="447" width="3" height="3" fill="#ff0000"/>
<rect x="1224" y="433" width="1" height="22" fill="#00ff00"/>
<rect x="1223" y="445" width="3" height="2" fill="#00ff00"/>
<rect x="1228" y="445" width="1" height="9" fill="#00ff00"/>
<rect x="1227" y="447" width="3" height="6" fill="#00ff00"/>
<rect x="1232" y="445" width="1" height="10" fill="#00ff00"/>
<rect x="1231" y="452" width="3" height="2" fill="#00ff00"/>
<rect x="1236" y="442" width="1" height="17" fill="#ff0000"/>
<rect x="1235" y="443" width="3" height="11" fill="#ff0000"/>
<rect x="1240" y="420" width="1" height="30" fill="#ff0000"/>
<rect x="1239" y="426" width="3" height="19" fill="#ff0000"/>
<rect x="1244" y="398" width="1" height="32" fill="#ff0000"/>
<rect x="1243" y="400" width="3" height="27" fill="#ff0000"/>
<rect x="1248" y="389" width="1" height="13" fill="#ff0000"/>
<rect x="1247" y="396" width="3" height="5" fill="#ff0000"/>
<rect x="1252" y="395" width="1" height="15" fill="#00ff00"/>
<rect x="1251" y="402" width="3" height="7" fill="#00ff00"/>
<rect x="1256" y="400" width="1" height="10" fill="#ff0000"/>
<rect x="1255" y="405" width="3" height="2" fill="#ff0000"/>
<rect x="1260" y="397" width="1" height="15" fill="#ff0000"/>
<rect x="1259" y="404" width="3" height="4" fill="#ff0000"/>
<rect x="1264" y="394" width="1" height="30" fill="#00ff00"/>
<rect x="1263" y="404" width="3" height="16" fill="#00ff00"/>
<rect x="1268" y="413" width="1" height="9" fill="#00ff00"/>
<rect x="1267" y="419" width="3" height="2" fill="#00ff00"/>
<rect x="1272" y="410" width="1" height="13" fill="#ff0000"/>
<rect x="1271" y="414" width="3" height="7" fill="#ff0000"/>
<rect x="1276" y="409" width="1" height="8" fill="#00ff00"/>
<rect x="1275" y="413" width="3" height="2" fill="#00ff00"/>
<rect x="1280" y="411" width="1" height="6" fill="#00ff00"/>
<rect x="1279" y="414" width="3" height="1" fill="#00ff00"/>
<path d="M639 329h2v1h-2zM614 313h2v1h-2zM633 326h2v1h-2zM894 462h4v1h-4zM954 462h32v1h-32zM1077 462h2v1h-2zM1142 462h4v1h-4zM1150 462h8v1h-8zM326 145h4v1h-4zM406 145h4v1h-4zM863 450h2v1h-2zM1199 450h2v1h-2zM306 138h7v1h-7zM346 138h3v1h-3zM362 138h15v1h-15zM91 109h11v1h-11zM130 109h12v1h-12zM150 109h16v1h-16zM186 109h4v1h-4zM226 109h4v1h-4zM714 413h2v1h-2zM79 106h7v1h-7zM198 106h4v1h-4zM214 106h7v1h-7zM86 107h3v1h-3zM194 107h4v1h-4zM221 107h2v1h-2zM885 460h2v1h-2zM994 460h4v1h-4zM1070 460h4v1h-4zM1161 460h2v1h-2zM1083 465h2v1h-2zM1106 465h4v1h-4zM887 461h7v1h-7zM986 461h8v1h-8zM1074 461h3v1h-3zM1158 461h3v1h-3zM317 141h2v1h-2zM337 141h2v1h-2zM382 141h4v1h-4zM106 111h8v1h-8zM122 111h4v1h-4zM174 111h8v1h-8zM757 432h2v1h-2zM1278 432h3v1h-3zM766 434h20v1h-20zM1273 434h2v1h-2zM627 322h2v1h-2zM873 456h2v1h-2zM1174 456h4v1h-4zM882 459h3v1h-3zM998 459h16v1h-16zM1050 459h20v1h-20zM1163 459h3v1h-3zM803 439h3v1h-3zM1259 439h3v1h-3zM875 457h3v1h-3zM1042 457h4v1h-4zM1170 457h4v1h-4zM794 436h4v1h-4zM1267 436h3v1h-3zM410 146h4v1h-4zM313 139h2v1h-2zM342 139h4v1h-4zM377 139h2v1h-2zM898 463h48v1h-48zM950 463h4v1h-4zM1079 463h2v1h-2zM1114 463h4v1h-4zM1130 463h12v1h-12zM1146 463h4v1h-4zM1186 453h8v1h-8zM102 110h4v1h-4zM126 110h4v1h-4zM142 110h8v1h-8zM166 110h8v1h-8zM182 110h4v1h-4zM230 110h3v1h-3zM946 464h4v1h-4zM1081 464h2v1h-2zM1110 464h4v1h-4zM1118 464h12v1h-12zM298 136h4v1h-4zM351 136h3v1h-3zM4 92h6v1h-6zM14 92h8v1h-8zM30 92h4v1h-4zM553 282h2v1h-2zM290 133h3v1h-3zM821 443h2v1h-2zM830 443h4v1h-4zM1249 443h2v1h-2zM806 440h4v1h-4zM1257 440h2v1h-2zM266 126h3v1h-3zM823 444h7v1h-7zM834 444h20v1h-20zM1247 444h2v1h-2zM598 308h4v1h-4zM302 137h4v1h-4zM349 137h2v1h-2zM354 137h8v1h-8zM323 144h3v1h-3zM330 144h3v1h-3zM398 144h8v1h-8zM733 428h2v1h-2zM798 437h3v1h-3zM1265 437h2v1h-2zM735 429h3v1h-3zM858 447h2v1h-2zM1206 447h4v1h-4zM1222 447h8v1h-8zM1239 447h3v1h-3zM319 142h2v1h-2zM335 142h2v1h-2zM386 142h4v1h-4zM315 140h2v1h-2zM339 140h3v1h-3zM379 140h3v1h-3zM610 311h3v1h-3zM474 198h2v1h-2zM602 309h4v1h-4zM258 125h8v1h-8zM42 96h19v1h-19zM34 93h3v1h-3zM878 458h4v1h-4zM1014 458h28v1h-28zM1046 458h4v1h-4zM1166 458h4v1h-4zM1210 446h12v1h-12zM1242 446h3v1h-3zM754 431h3v1h-3zM286 132h4v1h-4zM861 449h2v1h-2zM1201 449h2v1h-2zM1234 449h3v1h-3zM854 445h3v1h-3zM1245 445h2v1h-2zM786 435h8v1h-8zM1270 435h3v1h-3zM818 442h3v1h-3zM1251 442h3v1h-3zM870 454h2v1h-2zM1182 454h4v1h-4zM1085 466h2v1h-2zM1102 466h4v1h-4zM273 129h2v1h-2zM759 433h7v1h-7zM1275 433h3v1h-3zM77 105h2v1h-2zM202 105h12v1h-12zM1090 468h8v1h-8zM321 143h2v1h-2zM333 143h2v1h-2zM390 143h8v1h-8zM865 451h2v1h-2zM1197 451h2v1h-2zM89 108h2v1h-2zM190 108h4v1h-4zM223 108h3v1h-3zM731 427h2v1h-2zM10 91h4v1h-4zM22 91h8v1h-8zM738 430h16v1h-16zM726 424h2v1h-2zM250 121h2v1h-2zM801 438h2v1h-2zM1262 438h3v1h-3zM810 441h8v1h-8zM1254 441h3v1h-3zM867 452h2v1h-2zM1194 452h3v1h-3zM595 307h3v1h-3zM729 426h2v1h-2zM1203 448h3v1h-3zM1230 448h4v1h-4zM1237 448h2v1h-2zM69 101h2v1h-2zM606 310h4v1h-4zM255 124h3v1h-3zM39 95h3v1h-3zM1178 455h4v1h-4zM275 130h7v1h-7zM635 327h2v1h-2zM282 131h4v1h-4zM1087 467h3v1h-3zM1098 467h4v1h-4zM75 104h2v1h-2zM114 112h8v1h-8zM234 112h2v1h-2zM253 123h2v1h-2zM247 119h2v1h-2zM241 116h2v1h-2zM569 291h2v1h-2zM591 305h2v1h-2zM73 103h2v1h-2zM575 294h2v1h-2zM589 304h2v1h-2zM65 99h2v1h-2zM243 117h2v1h-2zM573 293h2v1h-2zM565 289h2v1h-2zM245 118h2v1h-2zM593 306h2v1h-2zM567 290h2v1h-2zM442 163h2v1h-2zM422 149h2v1h-2zM435 159h2v1h-2zM582 299h2v1h-2zM555 283h2v1h-2zM71 102h2v1h-2zM63 98h2v1h-2zM271 128h2v1h-2zM437 160h2v1h-2zM430 156h2v1h-2zM414 147h7v1h-7zM578 296h2v1h-2zM37 94h2v1h-2zM237 114h2v1h-2zM539 272h2v1h-2zM558 285h2v1h-2zM446 166h2v1h-2zM622 319h2v1h-2zM586 302h2v1h-2zM67 100h2v1h-2zM61 97h2v1h-2zM571 292h2v1h-2zM563 288h2v1h-2zM537 271h2v1h-2zM646 335h2v1h-2zM551 281h2v1h-2zM439 161h2v1h-2zM433 158h2v1h-2zM637 328h2v1h-2zM239 115h2v1h-2zM542 274h2v1h-2zM561 287h2v1h-2zM625 321h2v1h-2zM295 135h3v1h-3zM549 280h2v1h-2zM630 324h2v1h-2zM293 134h2v1h-2zM269 127h2v1h-2zM618 316h2v1h-2zM632 325h1v1h-1zM652 340h1v1h-1zM451 170h1v1h-1zM677 368h1v2h-1zM476 199h1v1h-1zM688 383h1v1h-1zM713 412h1v1h-1zM233 111h1v1h-1zM669 359h1v1h-1zM472 196h1v1h-1zM698 395h1v2h-1zM719 417h1v1h-1zM720 418h1v1h-1zM869 453h1v1h-1zM498 225h1v1h-1zM653 341h1v1h-1zM654 342h1v2h-1zM453 172h1v1h-1zM679 371h1v2h-1zM478 201h1v1h-1zM479 202h1v1h-1zM690 385h1v2h-1zM694 390h1v2h-1zM519 251h1v1h-1zM671 362h1v1h-1zM857 446h1v1h-1zM656 345h1v1h-1zM455 175h1v1h-1zM692 388h1v1h-1zM481 204h1v1h-1zM517 248h1v1h-1zM621 318h1v1h-1zM673 364h1v1h-1zM502 229h1v2h-1zM643 332h1v1h-1zM658 347h1v2h-1zM457 177h1v1h-1zM617 315h1v1h-1zM458 178h1v2h-1zM483 207h1v1h-1zM716 414h1v1h-1zM523 256h1v1h-1zM650 338h1v1h-1zM500 227h1v1h-1zM723 421h1v1h-1zM501 228h1v1h-1zM530 263h1v2h-1zM645 334h1v1h-1zM660 350h1v1h-1zM459 180h1v1h-1zM460 181h1v1h-1zM485 209h1v2h-1zM696 393h1v1h-1zM697 394h1v1h-1zM860 448h1v1h-1zM521 253h1v1h-1zM522 254h1v2h-1zM678 370h1v1h-1zM477 200h1v1h-1zM725 423h1v1h-1zM506 234h1v2h-1zM872 455h1v1h-1zM461 182h1v1h-1zM462 183h1v1h-1zM487 212h1v2h-1zM624 320h1v1h-1zM676 367h1v1h-1zM655 344h1v1h-1zM680 373h1v1h-1zM505 233h1v1h-1zM701 399h1v1h-1zM526 259h1v1h-1zM456 176h1v1h-1zM682 375h1v2h-1zM482 205h1v2h-1zM466 188h1v1h-1zM721 419h1v1h-1zM492 218h1v1h-1zM703 401h1v1h-1zM528 261h1v1h-1zM659 349h1v1h-1zM421 148h1v1h-1zM684 378h1v1h-1zM695 392h1v1h-1zM509 238h1v1h-1zM728 425h1v1h-1zM510 239h1v2h-1zM464 185h1v1h-1zM468 191h1v1h-1zM531 265h1v1h-1zM661 351h1v1h-1zM686 380h1v2h-1zM486 211h1v1h-1zM667 357h1v1h-1zM584 300h1v1h-1zM585 301h1v1h-1zM503 231h1v1h-1zM532 266h1v1h-1zM484 208h1v1h-1zM488 214h1v1h-1zM580 297h1v1h-1zM699 397h1v1h-1zM581 298h1v1h-1zM513 243h1v1h-1zM700 398h1v1h-1zM514 244h1v2h-1zM524 257h1v1h-1zM705 403h1v1h-1zM706 404h1v2h-1zM424 150h1v1h-1zM465 186h1v2h-1zM490 216h1v1h-1zM527 260h1v1h-1zM683 377h1v1h-1zM577 295h1v1h-1zM507 236h1v1h-1zM508 237h1v1h-1zM544 275h1v1h-1zM663 353h1v1h-1zM664 354h1v1h-1zM463 184h1v1h-1zM467 189h1v2h-1zM236 113h1v1h-1zM518 249h1v2h-1zM681 374h1v1h-1zM710 409h1v1h-1zM588 303h1v1h-1zM535 269h1v1h-1zM665 355h1v1h-1zM666 356h1v1h-1zM469 192h1v1h-1zM702 400h1v1h-1zM494 220h1v2h-1zM717 415h1v1h-1zM449 168h1v1h-1zM657 346h1v1h-1zM450 169h1v1h-1zM613 312h1v1h-1zM249 120h1v1h-1zM687 382h1v1h-1zM712 411h1v1h-1zM511 241h1v1h-1zM512 242h1v1h-1zM426 152h1v1h-1zM445 165h1v1h-1zM471 195h1v1h-1zM493 219h1v1h-1zM704 402h1v1h-1zM529 262h1v1h-1zM560 286h1v1h-1zM441 162h1v1h-1zM452 171h1v1h-1zM685 379h1v1h-1zM547 278h1v1h-1zM428 154h1v1h-1zM670 360h1v2h-1zM429 155h1v1h-1zM473 197h1v1h-1zM454 173h1v2h-1zM662 352h1v1h-1zM691 387h1v1h-1zM516 247h1v1h-1zM557 284h1v1h-1zM668 358h1v1h-1zM620 317h1v1h-1zM497 224h1v1h-1zM708 407h1v1h-1zM709 408h1v1h-1zM533 267h1v1h-1zM534 268h1v1h-1zM641 330h1v1h-1zM642 331h1v1h-1zM616 314h1v1h-1zM689 384h1v1h-1zM489 215h1v1h-1zM252 122h1v1h-1zM629 323h1v1h-1zM648 336h1v1h-1zM649 337h1v1h-1zM448 167h1v1h-1zM499 226h1v1h-1zM722 420h1v1h-1zM711 410h1v1h-1zM536 270h1v1h-1zM644 333h1v1h-1zM425 151h1v1h-1zM444 164h1v1h-1zM480 203h1v1h-1zM491 217h1v1h-1zM470 193h1v2h-1zM520 252h1v1h-1zM672 363h1v1h-1zM432 157h1v1h-1zM724 422h1v1h-1zM545 276h1v1h-1zM546 277h1v1h-1zM427 153h1v1h-1zM693 389h1v1h-1zM541 273h1v1h-1zM674 365h1v1h-1zM675 366h1v1h-1zM504 232h1v1h-1zM515 246h1v1h-1zM548 279h1v1h-1zM495 222h1v1h-1zM718 416h1v1h-1zM496 223h1v1h-1zM707 406h1v1h-1zM525 258h1v1h-1zM651 339h1v1h-1z" fill="#0000cd"/>
<path d="M551 313h3v1h-3zM543 309h2v1h-2zM606 309h3v1h-3zM5 84h2v1h-2zM90 128h4v1h-4zM370 128h3v1h-3zM379 128h6v1h-6zM136 95h2v1h-2zM67 116h2v1h-2zM193 116h2v1h-2zM198 116h4v1h-4zM205 116h2v1h-2zM830 467h4v1h-4zM837 467h2v1h-2zM822 463h2v1h-2zM901 463h2v1h-2zM962 463h2v1h-2zM1042 463h2v1h-2zM814 459h3v1h-3zM893 459h2v1h-2zM1031 459h3v1h-3zM533 306h2v1h-2zM569 306h2v1h-2zM591 306h2v1h-2zM834 468h3v1h-3zM910 468h2v1h-2zM954 468h2v1h-2zM1049 468h2v1h-2zM1102 468h2v1h-2zM69 117h2v1h-2zM195 117h3v1h-3zM207 117h2v1h-2zM768 421h2v1h-2zM774 421h7v1h-7zM746 430h2v1h-2zM1254 430h2v1h-2zM30 90h4v1h-4zM154 90h3v1h-3zM535 307h6v1h-6zM567 307h2v1h-2zM593 307h2v1h-2zM13 87h2v1h-2zM23 87h2v1h-2zM81 125h2v1h-2zM99 125h3v1h-3zM243 125h2v1h-2zM362 125h3v1h-3zM295 148h2v1h-2zM306 148h2v1h-2zM313 148h2v1h-2zM827 466h3v1h-3zM839 466h2v1h-2zM907 466h2v1h-2zM957 466h2v1h-2zM1046 466h2v1h-2zM870 453h4v1h-4zM975 453h3v1h-3zM1019 453h2v1h-2zM1129 453h2v1h-2zM1165 453h2v1h-2zM1174 453h3v1h-3zM858 455h8v1h-8zM878 455h8v1h-8zM1023 455h2v1h-2zM1125 455h2v1h-2zM817 460h2v1h-2zM895 460h2v1h-2zM1034 460h4v1h-4zM812 458h2v1h-2zM850 458h2v1h-2zM891 458h2v1h-2zM1029 458h2v1h-2zM1113 458h2v1h-2zM34 91h3v1h-3zM150 91h4v1h-4zM157 91h2v1h-2zM706 444h3v1h-3zM721 444h2v1h-2zM1207 444h3v1h-3zM1230 444h11v1h-11zM819 461h2v1h-2zM897 461h2v1h-2zM1038 461h3v1h-3zM810 457h2v1h-2zM852 457h2v1h-2zM889 457h2v1h-2zM1027 457h2v1h-2zM1115 457h7v1h-7zM528 304h2v1h-2zM574 304h15v1h-15zM923 471h7v1h-7zM938 471h4v1h-4zM949 471h2v1h-2zM1059 471h11v1h-11zM83 126h3v1h-3zM97 126h2v1h-2zM245 126h2v1h-2zM365 126h2v1h-2zM375 126h2v1h-2zM547 311h2v1h-2zM611 311h2v1h-2zM995 447h2v1h-2zM1007 447h2v1h-2zM1139 447h11v1h-11zM1199 447h3v1h-3zM681 427h2v1h-2zM1262 427h4v1h-4zM695 439h2v1h-2zM734 439h3v1h-3zM541 308h2v1h-2zM565 308h2v1h-2zM595 308h11v1h-11zM110 121h2v1h-2zM235 121h2v1h-2zM79 124h2v1h-2zM102 124h4v1h-4zM241 124h2v1h-2zM358 124h4v1h-4zM921 470h2v1h-2zM930 470h8v1h-8zM951 470h2v1h-2zM1057 470h2v1h-2zM866 454h4v1h-4zM874 454h4v1h-4zM973 454h2v1h-2zM1021 454h2v1h-2zM1127 454h2v1h-2zM1167 454h7v1h-7zM211 119h3v1h-3zM222 119h11v1h-11zM709 445h2v1h-2zM718 445h3v1h-3zM999 445h6v1h-6zM1205 445h2v1h-2zM297 149h2v1h-2zM315 149h6v1h-6zM288 146h5v1h-5zM770 420h4v1h-4zM1277 420h2v1h-2zM86 127h4v1h-4zM94 127h3v1h-3zM247 127h2v1h-2zM367 127h3v1h-3zM373 127h2v1h-2zM377 127h2v1h-2zM59 110h2v1h-2zM180 110h2v1h-2zM77 123h2v1h-2zM106 123h3v1h-3zM239 123h2v1h-2zM352 123h6v1h-6zM549 312h2v1h-2zM554 312h7v1h-7zM854 456h4v1h-4zM886 456h3v1h-3zM970 456h2v1h-2zM1025 456h2v1h-2zM1122 456h3v1h-3zM978 452h4v1h-4zM1017 452h2v1h-2zM1131 452h2v1h-2zM1163 452h2v1h-2zM1177 452h2v1h-2zM1083 477h3v1h-3zM1090 477h3v1h-3zM693 438h2v1h-2zM991 449h2v1h-2zM1011 449h2v1h-2zM1153 449h2v1h-2zM1195 449h2v1h-2zM982 451h7v1h-7zM1015 451h2v1h-2zM1161 451h2v1h-2zM1179 451h3v1h-3zM1190 451h3v1h-3zM322 151h2v1h-2zM330 151h2v1h-2zM275 140h3v1h-3zM753 424h2v1h-2zM757 424h2v1h-2zM762 424h3v1h-3zM1271 424h2v1h-2zM299 150h6v1h-6zM10 86h3v1h-3zM55 108h2v1h-2zM700 442h2v1h-2zM725 442h2v1h-2zM1218 442h8v1h-8zM1250 433h2v1h-2zM912 469h9v1h-9zM1051 469h6v1h-6zM214 120h8v1h-8zM233 120h2v1h-2zM899 462h2v1h-2zM46 102h2v1h-2zM170 102h2v1h-2zM759 425h3v1h-3zM1269 425h2v1h-2zM993 448h2v1h-2zM1009 448h2v1h-2zM1137 448h2v1h-2zM1150 448h3v1h-3zM1197 448h2v1h-2zM702 443h4v1h-4zM723 443h2v1h-2zM1210 443h8v1h-8zM1226 443h4v1h-4zM790 429h2v1h-2zM1256 429h2v1h-2zM65 115h2v1h-2zM188 115h5v1h-5zM202 115h3v1h-3zM825 465h2v1h-2zM841 465h2v1h-2zM905 465h2v1h-2zM959 465h2v1h-2zM698 441h2v1h-2zM727 441h3v1h-3zM263 138h10v1h-10zM57 109h2v1h-2zM237 122h2v1h-2zM257 135h2v1h-2zM730 440h4v1h-4zM989 450h2v1h-2zM1013 450h2v1h-2zM1134 450h2v1h-2zM1155 450h6v1h-6zM1182 450h8v1h-8zM1193 450h2v1h-2zM683 428h2v1h-2zM1258 428h4v1h-4zM138 94h4v1h-4zM162 94h2v1h-2zM259 136h2v1h-2zM15 88h3v1h-3zM21 88h2v1h-2zM25 88h2v1h-2zM530 305h3v1h-3zM571 305h3v1h-3zM589 305h2v1h-2zM1086 478h4v1h-4zM18 89h3v1h-3zM27 89h3v1h-3zM786 426h2v1h-2zM1266 426h3v1h-3zM142 93h4v1h-4zM711 446h7v1h-7zM997 446h2v1h-2zM1005 446h2v1h-2zM1202 446h3v1h-3zM1279 419h2v1h-2zM293 147h2v1h-2zM308 147h5v1h-5zM71 118h2v1h-2zM114 118h2v1h-2zM209 118h2v1h-2zM134 96h2v1h-2zM254 133h2v1h-2zM942 472h7v1h-7zM1070 472h4v1h-4zM755 423h2v1h-2zM782 423h2v1h-2zM1077 474h2v1h-2zM50 105h2v1h-2zM174 105h2v1h-2zM146 92h4v1h-4zM159 92h2v1h-2zM261 137h2v1h-2zM326 153h3v1h-3zM766 422h2v1h-2zM1274 422h2v1h-2zM843 464h2v1h-2zM903 464h2v1h-2zM738 437h2v1h-2zM281 142h2v1h-2zM283 143h2v1h-2zM53 107h2v1h-2zM324 152h2v1h-2zM1079 475h2v1h-2zM1094 475h2v1h-2zM414 167h3v1h-3zM1081 476h2v1h-2zM273 139h2v1h-2zM286 145h2v1h-2zM1074 473h3v1h-3zM545 310h2v1h-2zM562 310h2v1h-2zM609 310h2v1h-2zM182 111h3v1h-3zM278 141h3v1h-3zM466 223h2v1h-2zM7 85h3v1h-3zM418 169h2v1h-2zM409 165h2v1h-2zM462 220h2v1h-2zM442 199h2v1h-2zM411 166h3v1h-3zM439 195h1v2h-1zM614 313h1v2h-1zM564 309h1v1h-1zM472 229h1v1h-1zM249 128h1v1h-1zM349 128h1v2h-1zM39 95h1v1h-1zM164 95h1v1h-1zM618 319h1v1h-1zM117 116h1v1h-1zM909 467h1v1h-1zM956 467h1v1h-1zM1048 467h1v1h-1zM1104 467h1v1h-1zM845 463h1v1h-1zM1108 463h1v1h-1zM849 459h1v1h-1zM967 459h1v1h-1zM1112 459h1v1h-1zM498 258h1v1h-1zM250 129h1v1h-1zM385 129h1v1h-1zM116 117h1v1h-1zM675 421h1v1h-1zM1276 421h1v1h-1zM686 430h1v2h-1zM792 430h1v1h-1zM63 113h1v1h-1zM120 113h1v1h-1zM186 113h1v1h-1zM251 130h1v1h-1zM348 130h1v1h-1zM386 130h1v2h-1zM351 124h1v2h-1zM334 147h1v2h-1zM398 148h1v2h-1zM1105 466h1v1h-1zM807 453h1v2h-1zM445 201h1v1h-1zM446 202h1v1h-1zM808 455h1v1h-1zM972 455h1v1h-1zM663 401h1v2h-1zM848 460h1v1h-1zM966 460h1v1h-1zM1111 460h1v1h-1zM968 458h1v1h-1zM802 444h1v2h-1zM507 273h1v2h-1zM847 461h1v1h-1zM965 461h1v1h-1zM1110 461h1v1h-1zM631 345h1v2h-1zM969 457h1v1h-1zM1099 471h1v1h-1zM508 275h1v1h-1zM350 126h1v2h-1zM561 311h1v1h-1zM803 446h1v2h-1zM511 279h1v2h-1zM750 427h1v1h-1zM788 427h1v1h-1zM799 439h1v2h-1zM1245 439h1v1h-1zM426 178h1v2h-1zM525 300h1v1h-1zM75 121h1v1h-1zM526 301h1v2h-1zM430 184h1v1h-1zM1100 470h1v1h-1zM73 119h1v1h-1zM113 119h1v1h-1zM441 198h1v1h-1zM305 149h1v1h-1zM333 149h1v1h-1zM474 231h1v1h-1zM335 146h1v1h-1zM396 146h1v1h-1zM496 255h1v1h-1zM499 259h1v2h-1zM674 420h1v1h-1zM122 110h1v2h-1zM500 261h1v1h-1zM613 312h1v1h-1zM809 456h1v1h-1zM806 451h1v2h-1zM627 337h1v2h-1zM737 438h1v1h-1zM798 438h1v1h-1zM1246 437h1v2h-1zM41 97h1v1h-1zM133 97h1v1h-1zM166 97h1v2h-1zM805 449h1v2h-1zM1136 449h1v1h-1zM52 106h1v1h-1zM126 105h1v2h-1zM176 106h1v1h-1zM252 131h1v1h-1zM347 131h1v1h-1zM1133 451h1v1h-1zM256 134h1v1h-1zM344 134h1v1h-1zM389 134h1v2h-1zM400 151h1v1h-1zM339 140h1v2h-1zM392 140h1v1h-1zM678 424h1v1h-1zM784 424h1v1h-1zM321 150h1v1h-1zM332 150h1v1h-1zM399 150h1v1h-1zM124 108h1v1h-1zM178 108h1v1h-1zM801 442h1v2h-1zM1242 442h1v1h-1zM688 433h1v1h-1zM743 433h1v1h-1zM794 432h1v2h-1zM448 204h1v1h-1zM953 469h1v1h-1zM1101 469h1v1h-1zM74 120h1v1h-1zM112 120h1v1h-1zM821 462h1v1h-1zM846 462h1v1h-1zM964 462h1v1h-1zM1041 462h1v1h-1zM1109 462h1v1h-1zM129 102h1v1h-1zM510 278h1v1h-1zM669 413h1v2h-1zM513 282h1v2h-1zM633 348h1v1h-1zM48 103h1v1h-1zM128 103h1v1h-1zM172 103h1v1h-1zM679 425h1v1h-1zM752 425h1v1h-1zM785 425h1v1h-1zM637 353h1v2h-1zM804 448h1v1h-1zM406 160h1v2h-1zM1241 443h1v1h-1zM654 383h1v2h-1zM655 385h1v2h-1zM658 390h1v2h-1zM685 429h1v1h-1zM748 429h1v1h-1zM477 234h1v1h-1zM118 115h1v1h-1zM625 333h1v2h-1zM665 405h1v2h-1zM626 335h1v2h-1zM43 99h1v1h-1zM131 99h1v1h-1zM167 99h1v1h-1zM647 370h1v2h-1zM1045 465h1v1h-1zM1106 465h1v1h-1zM450 206h1v2h-1zM690 435h1v1h-1zM741 435h1v1h-1zM796 435h1v1h-1zM1248 435h1v1h-1zM691 436h1v1h-1zM740 436h1v1h-1zM797 436h1v2h-1zM1247 436h1v1h-1zM800 441h1v1h-1zM1243 441h1v1h-1zM341 138h1v1h-1zM391 138h1v2h-1zM123 109h1v1h-1zM179 109h1v1h-1zM76 122h1v1h-1zM109 122h1v1h-1zM671 416h1v2h-1zM635 351h1v1h-1zM343 135h1v1h-1zM639 357h1v2h-1zM697 440h1v1h-1zM1244 440h1v1h-1zM656 387h1v1h-1zM478 235h1v2h-1zM479 237h1v1h-1zM749 428h1v1h-1zM789 428h1v1h-1zM664 403h1v2h-1zM624 330h1v3h-1zM667 409h1v2h-1zM38 93h1v2h-1zM342 136h1v2h-1zM390 136h1v2h-1zM522 296h1v2h-1zM645 366h1v2h-1zM648 372h1v1h-1zM649 373h1v2h-1zM427 180h1v1h-1zM680 426h1v1h-1zM751 426h1v1h-1zM161 93h1v1h-1zM452 209h1v1h-1zM485 243h1v1h-1zM689 434h1v1h-1zM742 434h1v1h-1zM795 434h1v1h-1zM1249 434h1v1h-1zM673 419h1v1h-1zM444 200h1v1h-1zM397 147h1v1h-1zM481 239h1v1h-1zM662 399h1v2h-1zM62 112h1v1h-1zM121 112h1v1h-1zM185 112h1v1h-1zM40 96h1v1h-1zM165 96h1v1h-1zM345 133h1v1h-1zM388 133h1v1h-1zM1098 472h1v1h-1zM425 177h1v1h-1zM524 299h1v1h-1zM677 423h1v1h-1zM765 423h1v1h-1zM1273 423h1v1h-1zM429 182h1v2h-1zM454 211h1v2h-1zM622 326h1v2h-1zM1096 474h1v1h-1zM502 264h1v2h-1zM745 431h1v1h-1zM793 431h1v1h-1zM1253 431h1v1h-1zM37 92h1v1h-1zM687 432h1v1h-1zM744 432h1v1h-1zM1252 432h1v1h-1zM64 114h1v1h-1zM119 114h1v1h-1zM187 114h1v1h-1zM431 185h1v2h-1zM617 317h1v2h-1zM660 394h1v3h-1zM620 322h1v2h-1zM657 388h1v2h-1zM501 262h1v2h-1zM504 268h1v2h-1zM401 152h1v2h-1zM42 98h1v1h-1zM132 98h1v1h-1zM514 284h1v2h-1zM49 104h1v1h-1zM127 104h1v1h-1zM173 104h1v1h-1zM641 360h1v2h-1zM433 188h1v1h-1zM659 392h1v2h-1zM629 341h1v2h-1zM676 422h1v1h-1zM781 422h1v1h-1zM824 464h1v1h-1zM961 464h1v1h-1zM1044 464h1v1h-1zM1107 464h1v1h-1zM666 407h1v2h-1zM402 154h1v1h-1zM403 155h1v2h-1zM651 377h1v2h-1zM483 241h1v1h-1zM692 437h1v1h-1zM484 242h1v1h-1zM338 142h1v1h-1zM393 141h1v2h-1zM512 281h1v1h-1zM636 352h1v1h-1zM435 190h1v1h-1zM468 224h1v1h-1zM337 143h1v2h-1zM394 143h1v1h-1zM668 411h1v2h-1zM125 107h1v1h-1zM177 107h1v1h-1zM253 132h1v1h-1zM346 132h1v1h-1zM387 132h1v1h-1zM329 152h1v1h-1zM404 157h1v1h-1zM405 158h1v2h-1zM285 144h1v1h-1zM395 144h1v2h-1zM650 375h1v2h-1zM464 221h1v1h-1zM486 244h1v2h-1zM1093 476h1v1h-1zM638 355h1v2h-1zM340 139h1v1h-1zM459 217h1v1h-1zM336 145h1v1h-1zM1097 473h1v1h-1zM61 111h1v1h-1zM451 208h1v1h-1zM487 246h1v1h-1zM488 247h1v1h-1zM619 320h1v2h-1zM503 266h1v2h-1zM506 272h1v1h-1zM461 219h1v1h-1zM516 288h1v2h-1zM44 100h1v1h-1zM130 100h1v2h-1zM168 100h1v1h-1zM527 303h1v1h-1zM453 210h1v1h-1zM621 324h1v2h-1zM490 249h1v1h-1zM505 270h1v2h-1zM628 339h1v2h-1zM482 240h1v1h-1zM497 256h1v2h-1zM518 291h1v2h-1zM515 286h1v2h-1zM455 213h1v1h-1zM630 343h1v2h-1zM407 162h1v2h-1zM652 379h1v2h-1zM421 171h1v2h-1zM520 294h1v1h-1zM640 359h1v1h-1zM457 215h1v1h-1zM458 216h1v1h-1zM469 225h1v1h-1zM672 418h1v1h-1zM653 381h1v2h-1zM642 362h1v1h-1zM423 174h1v2h-1zM434 189h1v1h-1zM4 83h1v1h-1zM492 251h1v1h-1zM471 228h1v1h-1zM493 252h1v1h-1zM623 328h1v2h-1zM436 191h1v1h-1zM437 192h1v2h-1zM440 197h1v1h-1zM494 253h1v1h-1zM473 230h1v1h-1zM495 254h1v1h-1zM417 168h1v1h-1zM661 397h1v2h-1zM45 101h1v1h-1zM169 101h1v1h-1zM509 276h1v2h-1zM632 347h1v1h-1zM438 194h1v1h-1zM460 218h1v1h-1zM519 293h1v1h-1zM456 214h1v1h-1zM489 248h1v1h-1zM634 349h1v2h-1zM408 164h1v1h-1zM517 290h1v1h-1zM432 187h1v1h-1zM447 203h1v1h-1zM491 250h1v1h-1zM470 226h1v2h-1zM475 232h1v1h-1zM476 233h1v1h-1zM420 170h1v1h-1zM643 363h1v2h-1zM646 368h1v2h-1zM424 176h1v1h-1zM523 298h1v1h-1zM449 205h1v1h-1zM670 415h1v1h-1zM422 173h1v1h-1zM521 295h1v1h-1zM644 365h1v1h-1zM615 315h1v1h-1zM616 316h1v1h-1zM465 222h1v1h-1zM480 238h1v1h-1zM428 181h1v1h-1z" fill="#ff0000"/>
<path d="M1001 453h2v1h-2zM1006 453h4v1h-4zM1020 460h2v1h-2zM351 83h2v1h-2zM774 435h2v1h-2zM854 435h3v1h-3zM1212 435h2v1h-2zM130 79h3v1h-3zM446 229h8v1h-8zM463 229h2v1h-2zM471 229h2v1h-2zM182 126h2v1h-2zM678 447h2v1h-2zM682 447h12v1h-12zM1199 447h3v1h-3zM26 103h11v1h-11zM151 103h6v1h-6zM806 478h2v1h-2zM814 478h3v1h-3zM924 478h2v1h-2zM930 478h3v1h-3zM1085 478h2v1h-2zM674 445h3v1h-3zM714 445h3v1h-3zM20 104h6v1h-6zM205 107h2v1h-2zM290 154h4v1h-4zM188 121h2v1h-2zM517 317h2v1h-2zM521 317h2v1h-2zM598 317h2v1h-2zM1149 458h2v1h-2zM1158 458h4v1h-4zM752 404h2v1h-2zM536 307h2v1h-2zM541 307h2v1h-2zM1123 439h2v1h-2zM543 308h2v1h-2zM703 443h3v1h-3zM719 443h6v1h-6zM999 454h2v1h-2zM1010 454h3v1h-3zM898 466h7v1h-7zM1034 466h2v1h-2zM1278 415h3v1h-3zM883 467h2v1h-2zM895 467h3v1h-3zM647 403h2v1h-2zM754 403h3v1h-3zM852 434h2v1h-2zM1003 452h3v1h-3zM680 448h2v1h-2zM694 448h3v1h-3zM1193 448h2v1h-2zM1197 448h2v1h-2zM1230 448h2v1h-2zM1234 448h3v1h-3zM701 444h2v1h-2zM717 444h2v1h-2zM1178 444h2v1h-2zM351 84h2v1h-2zM1022 461h3v1h-3zM808 479h6v1h-6zM926 479h4v1h-4zM1087 479h2v1h-2zM874 469h2v1h-2zM878 469h3v1h-3zM886 469h2v1h-2zM890 469h3v1h-3zM947 469h2v1h-2zM1038 469h2v1h-2zM734 426h2v1h-2zM301 160h2v1h-2zM374 160h2v1h-2zM385 160h2v1h-2zM227 131h2v1h-2zM235 131h2v1h-2zM706 442h3v1h-3zM1187 442h2v1h-2zM1223 442h2v1h-2zM782 438h2v1h-2zM1121 438h2v1h-2zM317 150h2v1h-2zM179 128h2v1h-2zM1268 412h2v1h-2zM78 143h3v1h-3zM545 309h2v1h-2zM44 116h2v1h-2zM53 116h2v1h-2zM776 436h5v1h-5zM1214 436h3v1h-3zM1270 413h4v1h-4zM193 119h2v1h-2zM881 468h2v1h-2zM893 468h2v1h-2zM465 228h2v1h-2zM469 228h2v1h-2zM55 115h6v1h-6zM124 78h6v1h-6zM396 167h2v1h-2zM402 167h3v1h-3zM968 431h5v1h-5zM995 456h2v1h-2zM1014 456h2v1h-2zM1142 456h4v1h-4zM266 141h2v1h-2zM919 474h2v1h-2zM907 464h2v1h-2zM1030 464h3v1h-3zM549 311h2v1h-2zM444 230h2v1h-2zM454 230h4v1h-4zM461 230h2v1h-2zM1274 414h4v1h-4zM372 161h2v1h-2zM387 161h2v1h-2zM225 130h2v1h-2zM229 130h2v1h-2zM233 130h2v1h-2zM997 455h2v1h-2zM1136 455h6v1h-6zM1170 451h2v1h-2zM174 125h2v1h-2zM207 106h2v1h-2zM162 110h2v1h-2zM149 102h2v1h-2zM876 470h2v1h-2zM888 470h2v1h-2zM945 470h2v1h-2zM252 149h5v1h-5zM319 149h3v1h-3zM326 149h3v1h-3zM1195 449h2v1h-2zM1232 449h2v1h-2zM830 463h2v1h-2zM1027 463h3v1h-3zM914 471h2v1h-2zM940 471h5v1h-5zM210 108h2v1h-2zM523 316h2v1h-2zM442 231h2v1h-2zM458 231h3v1h-3zM294 155h3v1h-3zM195 118h2v1h-2zM76 142h2v1h-2zM938 472h2v1h-2zM1042 472h2v1h-2zM414 174h2v1h-2zM538 306h3v1h-3zM46 117h7v1h-7zM275 138h2v1h-2zM553 313h2v1h-2zM190 120h3v1h-3zM530 312h2v1h-2zM551 312h2v1h-2zM1057 481h2v1h-2zM1091 481h2v1h-2zM575 293h3v1h-3zM642 400h2v1h-2zM231 129h2v1h-2zM243 137h2v1h-2zM273 137h2v1h-2zM905 465h2v1h-2zM259 147h2v1h-2zM303 159h2v1h-2zM376 159h9v1h-9zM573 294h2v1h-2zM578 294h3v1h-3zM917 473h2v1h-2zM527 314h2v1h-2zM555 314h6v1h-6zM246 139h2v1h-2zM312 151h5v1h-5zM467 227h2v1h-2zM672 446h2v1h-2zM698 446h2v1h-2zM712 446h2v1h-2zM1202 446h3v1h-3zM310 152h2v1h-2zM257 148h2v1h-2zM322 148h4v1h-4zM514 315h2v1h-2zM525 315h2v1h-2zM1182 441h2v1h-2zM1185 441h2v1h-2zM1221 441h2v1h-2zM288 153h2v1h-2zM1018 459h2v1h-2zM1151 459h7v1h-7zM1114 432h2v1h-2zM499 299h2v1h-2zM177 127h2v1h-2zM406 169h2v1h-2zM1082 476h2v1h-2zM990 457h2v1h-2zM993 457h2v1h-2zM1146 457h3v1h-3zM1162 457h3v1h-3zM519 318h2v1h-2zM1025 462h2v1h-2zM503 301h2v1h-2zM645 402h2v1h-2zM411 172h2v1h-2zM241 136h2v1h-2zM1059 480h2v1h-2zM1089 480h2v1h-2zM610 328h2v1h-2zM409 171h2v1h-2zM497 298h2v1h-2zM547 310h2v1h-2zM501 300h2v1h-2zM394 166h2v1h-2zM398 166h4v1h-4zM1054 483h2v1h-2zM390 163h2v1h-2zM791 452h1v2h-1zM839 452h1v2h-1zM864 452h1v2h-1zM957 453h1v2h-1zM987 453h1v2h-1zM1104 451h1v3h-1zM1134 453h1v1h-1zM1168 453h1v1h-1zM795 460h1v2h-1zM834 460h1v1h-1zM868 460h1v1h-1zM953 460h1v2h-1zM1100 460h1v3h-1zM8 83h1v2h-1zM120 83h1v1h-1zM136 83h1v1h-1zM621 351h1v3h-1zM665 435h1v2h-1zM729 434h1v2h-1zM851 435h1v1h-1zM966 434h1v2h-1zM975 435h1v1h-1zM1112 434h1v2h-1zM1119 435h1v2h-1zM1244 433h1v3h-1zM420 182h1v3h-1zM6 79h1v2h-1zM123 79h1v1h-1zM438 229h1v2h-1zM67 125h1v2h-1zM95 125h1v2h-1zM176 126h1v1h-1zM222 125h1v2h-1zM337 125h1v4h-1zM363 125h1v4h-1zM475 234h1v2h-1zM697 447h1v1h-1zM788 446h1v2h-1zM842 446h1v2h-1zM861 446h1v2h-1zM961 445h1v3h-1zM983 447h1v2h-1zM1106 447h1v2h-1zM1129 446h1v2h-1zM1175 447h1v1h-1zM1192 447h1v1h-1zM1229 447h1v1h-1zM1237 447h1v1h-1zM42 112h1v2h-1zM103 112h1v2h-1zM165 112h1v2h-1zM199 113h1v2h-1zM214 112h1v2h-1zM341 110h1v4h-1zM359 110h1v4h-1zM19 102h1v2h-1zM108 101h1v3h-1zM343 103h1v4h-1zM357 102h1v4h-1zM1047 477h1v2h-1zM1062 477h1v2h-1zM1094 477h1v2h-1zM13 92h1v2h-1zM112 93h1v2h-1zM142 93h1v1h-1zM347 91h1v3h-1zM354 89h1v5h-1zM624 360h1v3h-1zM671 445h1v1h-1zM700 445h1v1h-1zM711 445h1v1h-1zM787 444h1v2h-1zM843 444h1v2h-1zM860 444h1v2h-1zM982 445h1v2h-1zM1107 445h1v2h-1zM1128 445h1v1h-1zM1177 445h1v1h-1zM1190 444h1v2h-1zM1205 445h1v1h-1zM1227 445h1v1h-1zM1239 445h1v1h-1zM37 104h1v2h-1zM107 104h1v2h-1zM157 104h1v1h-1zM39 107h1v2h-1zM106 106h1v2h-1zM159 107h1v1h-1zM209 107h1v1h-1zM342 107h1v3h-1zM358 106h1v4h-1zM667 439h1v2h-1zM726 439h1v2h-1zM785 440h1v2h-1zM846 440h1v1h-1zM858 439h1v3h-1zM963 440h1v3h-1zM979 440h1v2h-1zM1109 440h1v2h-1zM1125 440h1v2h-1zM1184 440h1v1h-1zM1209 440h1v2h-1zM1220 440h1v1h-1zM1242 438h1v3h-1zM308 154h1v1h-1zM370 152h1v4h-1zM65 121h1v2h-1zM98 120h1v2h-1zM171 121h1v2h-1zM219 120h1v2h-1zM338 121h1v4h-1zM361 118h1v4h-1zM794 458h1v2h-1zM836 458h1v1h-1zM867 458h1v2h-1zM954 458h1v2h-1zM992 458h1v1h-1zM1017 458h1v1h-1zM1101 458h1v2h-1zM649 404h1v2h-1zM756 404h1v1h-1zM1259 404h1v1h-1zM1261 404h1v1h-1zM507 306h1v2h-1zM565 306h1v2h-1zM590 306h1v2h-1zM784 439h1v1h-1zM847 439h1v1h-1zM964 438h1v2h-1zM978 439h1v1h-1zM1110 438h1v2h-1zM1210 438h1v2h-1zM1219 439h1v1h-1zM508 308h1v1h-1zM535 308h1v1h-1zM564 308h1v1h-1zM591 308h1v2h-1zM670 443h1v2h-1zM709 443h1v1h-1zM786 442h1v2h-1zM844 442h1v2h-1zM859 442h1v2h-1zM962 443h1v2h-1zM981 443h1v2h-1zM1108 442h1v3h-1zM1127 443h1v2h-1zM1180 443h1v1h-1zM1189 443h1v1h-1zM1207 443h1v1h-1zM1225 443h1v1h-1zM1240 443h1v2h-1zM792 454h1v2h-1zM838 454h1v2h-1zM865 454h1v2h-1zM1103 454h1v2h-1zM1135 454h1v1h-1zM1167 454h1v1h-1zM658 423h1v2h-1zM738 423h1v1h-1zM766 422h1v2h-1zM1248 421h1v3h-1zM43 114h1v2h-1zM102 114h1v1h-1zM166 114h1v1h-1zM215 114h1v2h-1zM340 114h1v3h-1zM360 114h1v4h-1zM798 465h1v2h-1zM827 466h1v1h-1zM871 465h1v2h-1zM910 466h1v2h-1zM950 465h1v2h-1zM1072 466h1v1h-1zM1098 466h1v4h-1zM654 414h1v3h-1zM744 415h1v1h-1zM761 414h1v2h-1zM1251 415h1v2h-1zM650 406h1v2h-1zM750 407h1v1h-1zM758 407h1v3h-1zM1256 407h1v1h-1zM1264 407h1v1h-1zM799 467h1v2h-1zM826 467h1v1h-1zM872 467h1v1h-1zM949 467h1v2h-1zM1036 467h1v1h-1zM1071 467h1v1h-1zM1073 467h1v1h-1zM661 428h1v2h-1zM732 428h1v2h-1zM770 429h1v2h-1zM1246 427h1v3h-1zM1260 403h1v1h-1zM662 430h1v2h-1zM731 430h1v2h-1zM1245 430h1v3h-1zM651 408h1v2h-1zM749 408h1v2h-1zM1255 408h1v2h-1zM1265 408h1v1h-1zM666 437h1v2h-1zM727 437h1v2h-1zM781 437h1v1h-1zM849 437h1v1h-1zM857 437h1v2h-1zM965 436h1v2h-1zM977 437h1v2h-1zM1111 436h1v2h-1zM1120 437h1v1h-1zM1211 436h1v2h-1zM1217 437h1v1h-1zM1243 436h1v2h-1zM664 434h1v1h-1zM773 434h1v1h-1zM974 433h1v2h-1zM1118 434h1v1h-1zM958 452h1v1h-1zM986 452h1v1h-1zM1133 452h1v1h-1zM1169 452h1v1h-1zM789 448h1v2h-1zM841 448h1v2h-1zM862 448h1v2h-1zM960 448h1v2h-1zM1130 448h1v1h-1zM1174 448h1v1h-1zM710 444h1v1h-1zM1206 444h1v1h-1zM1226 444h1v1h-1zM119 84h1v1h-1zM137 84h1v2h-1zM40 109h1v1h-1zM105 108h1v2h-1zM161 109h1v1h-1zM203 109h1v1h-1zM212 109h1v1h-1zM75 140h1v2h-1zM82 140h1v2h-1zM248 140h1v2h-1zM268 140h1v1h-1zM278 140h1v1h-1zM333 140h1v4h-1zM367 140h1v4h-1zM11 89h1v2h-1zM115 88h1v2h-1zM139 88h1v2h-1zM348 89h1v2h-1zM9 85h1v2h-1zM118 85h1v1h-1zM350 85h1v2h-1zM353 85h1v4h-1zM833 461h1v1h-1zM869 461h1v2h-1zM1048 479h1v1h-1zM1061 479h1v1h-1zM1093 479h1v2h-1zM652 410h1v2h-1zM747 411h1v1h-1zM759 410h1v2h-1zM1253 411h1v2h-1zM1267 411h1v1h-1zM117 86h1v1h-1zM138 86h1v2h-1zM800 469h1v1h-1zM824 469h1v1h-1zM912 469h1v1h-1zM1069 469h1v1h-1zM1075 469h1v1h-1zM805 477h1v1h-1zM817 477h1v1h-1zM923 477h1v1h-1zM933 477h1v1h-1zM1084 477h1v1h-1zM659 425h1v2h-1zM768 426h1v1h-1zM1247 424h1v3h-1zM492 290h1v2h-1zM1266 409h1v2h-1zM627 371h1v4h-1zM299 159h1v2h-1zM372 160h1v1h-1zM372 162h1v1h-1zM70 131h1v2h-1zM91 131h1v1h-1zM336 129h1v3h-1zM364 129h1v3h-1zM748 410h1v1h-1zM1254 410h1v1h-1zM669 442h1v1h-1zM725 441h1v2h-1zM980 442h1v1h-1zM1126 442h1v1h-1zM1181 442h1v1h-1zM1208 442h1v1h-1zM1241 441h1v2h-1zM751 405h1v2h-1zM757 405h1v2h-1zM1257 406h1v1h-1zM1263 406h1v1h-1zM629 379h1v3h-1zM848 438h1v1h-1zM1218 438h1v1h-1zM286 149h1v2h-1zM369 148h1v4h-1zM68 127h1v2h-1zM93 128h1v2h-1zM223 127h1v2h-1zM429 210h1v2h-1zM653 412h1v2h-1zM746 412h1v2h-1zM760 412h1v2h-1zM249 142h1v2h-1zM264 143h1v1h-1zM281 143h1v1h-1zM509 309h1v1h-1zM534 309h1v1h-1zM563 309h1v2h-1zM61 116h1v1h-1zM101 115h1v2h-1zM167 115h1v2h-1zM197 116h1v2h-1zM216 116h1v1h-1zM728 436h1v1h-1zM850 436h1v1h-1zM856 436h1v1h-1zM976 436h1v1h-1zM615 336h1v2h-1zM1252 413h1v2h-1zM481 254h1v4h-1zM63 119h1v1h-1zM99 118h1v2h-1zM169 118h1v2h-1zM218 119h1v1h-1zM339 117h1v4h-1zM616 338h1v3h-1zM482 258h1v5h-1zM4 75h1v2h-1zM825 468h1v1h-1zM873 468h1v1h-1zM885 468h1v1h-1zM911 468h1v1h-1zM1037 468h1v1h-1zM1070 468h1v1h-1zM1074 468h1v1h-1zM251 146h1v2h-1zM261 146h1v1h-1zM284 146h1v1h-1zM331 146h1v1h-1zM368 144h1v4h-1zM622 354h1v3h-1zM66 123h1v2h-1zM97 122h1v2h-1zM172 123h1v1h-1zM186 123h1v1h-1zM221 123h1v2h-1zM362 122h1v3h-1zM437 227h1v2h-1zM198 115h1v1h-1zM41 110h1v2h-1zM104 110h1v2h-1zM164 111h1v1h-1zM201 111h1v1h-1zM213 110h1v2h-1zM440 233h1v1h-1zM474 232h1v2h-1zM5 77h1v2h-1zM16 98h1v1h-1zM110 97h1v2h-1zM146 98h1v2h-1zM345 97h1v3h-1zM356 98h1v4h-1zM771 431h1v2h-1zM1116 431h1v1h-1zM793 456h1v2h-1zM837 456h1v2h-1zM866 456h1v2h-1zM955 456h1v2h-1zM989 456h1v1h-1zM1102 456h1v2h-1zM1165 456h1v1h-1zM657 421h1v2h-1zM739 422h1v1h-1zM279 141h1v1h-1zM803 474h1v2h-1zM820 474h1v1h-1zM936 474h1v1h-1zM1045 474h1v2h-1zM1065 474h1v1h-1zM1080 474h1v1h-1zM1096 473h1v2h-1zM797 463h1v2h-1zM829 464h1v1h-1zM870 463h1v2h-1zM951 463h1v2h-1zM1099 463h1v3h-1zM510 310h1v2h-1zM532 311h1v1h-1zM562 311h1v1h-1zM593 311h1v1h-1zM737 424h1v1h-1zM767 424h1v2h-1zM473 230h1v2h-1zM745 414h1v1h-1zM300 161h1v1h-1zM69 129h1v2h-1zM92 130h1v1h-1zM956 455h1v1h-1zM988 455h1v1h-1zM1013 455h1v1h-1zM1166 455h1v1h-1zM790 450h1v2h-1zM840 450h1v2h-1zM863 450h1v2h-1zM959 450h1v2h-1zM985 450h1v2h-1zM1132 451h1v1h-1zM96 124h1v1h-1zM173 124h1v1h-1zM185 124h1v1h-1zM90 132h1v1h-1zM237 132h1v1h-1zM335 132h1v4h-1zM365 132h1v4h-1zM184 125h1v1h-1zM38 106h1v1h-1zM158 105h1v2h-1zM202 110h1v1h-1zM487 276h1v3h-1zM655 417h1v2h-1zM742 418h1v1h-1zM763 417h1v2h-1zM1250 417h1v2h-1zM344 100h1v3h-1zM421 185h1v4h-1zM801 470h1v2h-1zM823 470h1v1h-1zM913 470h1v1h-1zM1040 470h1v1h-1zM1068 470h1v1h-1zM1076 470h1v1h-1zM1097 470h1v3h-1zM490 285h1v2h-1zM297 156h1v2h-1zM306 156h1v2h-1zM371 156h1v4h-1zM984 449h1v1h-1zM1105 449h1v2h-1zM1131 449h1v2h-1zM1173 449h1v1h-1zM491 287h1v3h-1zM822 471h1v2h-1zM1041 471h1v1h-1zM1067 471h1v1h-1zM1077 471h1v1h-1zM160 108h1v1h-1zM204 108h1v1h-1zM516 316h1v1h-1zM597 316h1v1h-1zM628 375h1v4h-1zM480 250h1v4h-1zM439 231h1v2h-1zM614 333h1v3h-1zM819 475h1v1h-1zM921 475h1v1h-1zM935 475h1v1h-1zM1064 475h1v1h-1zM1081 475h1v1h-1zM1095 475h1v2h-1zM18 101h1v1h-1zM148 101h1v1h-1zM663 432h1v2h-1zM730 432h1v2h-1zM772 433h1v1h-1zM967 432h1v2h-1zM1113 433h1v1h-1zM1117 432h1v2h-1zM636 394h1v1h-1zM307 155h1v1h-1zM62 117h1v2h-1zM217 117h1v2h-1zM81 142h1v1h-1zM265 142h1v1h-1zM280 142h1v1h-1zM802 472h1v2h-1zM916 472h1v1h-1zM1066 472h1v2h-1zM1078 472h1v1h-1zM200 112h1v1h-1zM100 117h1v1h-1zM168 117h1v1h-1zM74 138h1v2h-1zM84 138h1v1h-1zM245 138h1v1h-1zM270 138h1v1h-1zM334 136h1v4h-1zM366 136h1v4h-1zM512 313h1v1h-1zM529 313h1v1h-1zM561 312h1v2h-1zM594 312h1v2h-1zM64 120h1v1h-1zM170 120h1v1h-1zM511 312h1v1h-1zM1049 480h1v2h-1zM493 292h1v2h-1zM424 197h1v4h-1zM1050 482h1v1h-1zM1056 482h1v1h-1zM224 129h1v1h-1zM483 263h1v4h-1zM656 419h1v2h-1zM741 419h1v2h-1zM765 420h1v2h-1zM1249 419h1v2h-1zM73 136h1v2h-1zM85 137h1v1h-1zM271 137h1v1h-1zM828 465h1v1h-1zM909 465h1v1h-1zM1033 465h1v1h-1zM285 147h1v2h-1zM330 147h1v1h-1zM476 236h1v3h-1zM1258 405h1v1h-1zM1262 405h1v1h-1zM494 294h1v1h-1zM113 91h1v2h-1zM141 91h1v2h-1zM821 473h1v1h-1zM937 473h1v1h-1zM1044 473h1v1h-1zM1079 473h1v1h-1zM479 246h1v4h-1zM495 295h1v2h-1zM572 295h1v1h-1zM581 295h1v1h-1zM606 324h1v1h-1zM114 90h1v1h-1zM140 90h1v1h-1zM513 314h1v1h-1zM595 314h1v1h-1zM83 139h1v1h-1zM269 139h1v1h-1zM277 139h1v1h-1zM287 151h1v2h-1zM15 96h1v2h-1zM145 97h1v1h-1zM355 94h1v4h-1zM677 446h1v1h-1zM1176 446h1v1h-1zM1191 446h1v1h-1zM1228 446h1v1h-1zM1238 446h1v1h-1zM426 203h1v2h-1zM14 94h1v2h-1zM143 94h1v2h-1zM346 94h1v3h-1zM1052 485h1v1h-1zM496 297h1v1h-1zM571 296h1v2h-1zM582 296h1v2h-1zM630 382h1v3h-1zM433 219h1v2h-1zM743 416h1v2h-1zM506 304h1v2h-1zM567 303h1v2h-1zM589 304h1v2h-1zM17 99h1v2h-1zM109 99h1v2h-1zM147 100h1v1h-1zM252 148h1v1h-1zM329 148h1v1h-1zM10 87h1v2h-1zM116 87h1v1h-1zM349 87h1v2h-1zM596 315h1v1h-1zM626 367h1v4h-1zM668 441h1v1h-1zM845 441h1v1h-1zM309 153h1v1h-1zM835 459h1v1h-1zM608 326h1v1h-1zM973 432h1v1h-1zM570 298h1v2h-1zM584 299h1v1h-1zM94 127h1v1h-1zM181 127h1v1h-1zM298 158h1v1h-1zM305 158h1v1h-1zM422 189h1v4h-1zM804 476h1v1h-1zM818 476h1v1h-1zM922 476h1v1h-1zM934 476h1v1h-1zM1046 476h1v1h-1zM1063 476h1v1h-1zM769 427h1v2h-1zM431 214h1v2h-1zM432 216h1v3h-1zM618 343h1v3h-1zM1016 457h1v1h-1zM187 122h1v1h-1zM220 122h1v1h-1zM600 318h1v1h-1zM660 427h1v1h-1zM733 427h1v1h-1zM638 396h1v1h-1zM441 232h1v1h-1zM1172 450h1v1h-1zM796 462h1v1h-1zM832 462h1v1h-1zM952 462h1v1h-1zM416 175h1v1h-1zM12 91h1v1h-1zM417 176h1v2h-1zM486 274h1v2h-1zM764 419h1v1h-1zM569 300h1v2h-1zM586 301h1v1h-1zM762 416h1v1h-1zM602 320h1v1h-1zM71 133h1v2h-1zM89 133h1v1h-1zM238 133h1v1h-1zM740 421h1v1h-1zM111 95h1v2h-1zM144 96h1v1h-1zM640 398h1v1h-1zM88 134h1v1h-1zM239 134h1v1h-1zM86 136h1v1h-1zM272 136h1v1h-1zM736 425h1v1h-1zM603 321h1v1h-1zM604 322h1v1h-1zM566 305h1v1h-1zM425 201h1v2h-1zM428 207h1v3h-1zM435 223h1v2h-1zM250 144h1v2h-1zM262 145h1v1h-1zM283 145h1v1h-1zM332 144h1v2h-1zM405 168h1v1h-1zM423 193h1v4h-1zM613 331h1v2h-1zM631 385h1v3h-1zM434 221h1v2h-1zM617 341h1v2h-1zM623 357h1v3h-1zM583 298h1v1h-1zM533 310h1v1h-1zM592 310h1v1h-1zM488 279h1v3h-1zM7 81h1v2h-1zM121 82h1v1h-1zM135 82h1v1h-1zM352 82h1v1h-1zM263 144h1v1h-1zM282 144h1v1h-1zM72 135h1v1h-1zM87 135h1v1h-1zM240 135h1v1h-1zM418 178h1v2h-1zM505 302h1v2h-1zM588 303h1v1h-1zM585 300h1v1h-1zM1051 483h1v2h-1zM1053 484h1v1h-1zM609 327h1v1h-1zM430 212h1v2h-1zM427 205h1v2h-1zM408 170h1v1h-1zM122 80h1v2h-1zM134 81h1v1h-1zM632 388h1v2h-1zM568 302h1v1h-1zM587 302h1v1h-1zM477 239h1v4h-1zM413 173h1v1h-1zM634 391h1v2h-1zM620 348h1v3h-1zM605 323h1v1h-1zM485 271h1v3h-1zM419 180h1v2h-1zM489 282h1v3h-1zM393 165h1v1h-1zM478 243h1v3h-1zM612 329h1v2h-1zM389 162h1v1h-1zM607 325h1v1h-1zM484 267h1v4h-1zM625 363h1v4h-1zM639 397h1v1h-1zM133 80h1v1h-1zM641 399h1v1h-1zM633 390h1v1h-1zM436 225h1v2h-1zM619 346h1v2h-1zM392 164h1v1h-1zM635 393h1v1h-1zM637 395h1v1h-1zM601 319h1v1h-1zM644 401h1v1h-1z" fill="#ffa500"/>
<rect x="4" y="228" width="1608" height="2" fill="#ff0000"/>
<rect x="4" y="321" width="1608" height="2" fill="#ff0000"/>
<rect x="4" y="392" width="1608" height="2" fill="#7fff00"/>
<rect x="4" y="480" width="1608" height="2" fill="#0000ff"/>
<rect x="1606" y="226" width="6" height="6" fill="#ff0000"/>
<rect x="1608" y="228" width="2" height="2" fill="#fff"/>
<rect x="1606" y="319" width="6" height="6" fill="#ff0000"/>
<rect x="1608" y="321" width="2" height="2" fill="#fff"/>
<rect x="1606" y="390" width="6" height="6" fill="#7fff00"/>
<rect x="1608" y="392" width="2" height="2" fill="#fff"/>
<rect x="1606" y="478" width="6" height="6" fill="#0000ff"/>
<rect x="1608" y="480" width="2" height="2" fill="#fff"/>
<path d="M1283 27 L1293 27 L1288 32 Z" fill="#c0c0c0"/>
<path d="M5 552h3v1h-3zM11 552h3v1h-3zM17 552h3v1h-3zM23 552h3v1h-3zM29 552h3v1h-3zM35 552h3v1h-3zM41 552h3v1h-3zM47 552h3v1h-3zM53 552h3v1h-3zM59 552h3v1h-3zM65 552h3v1h-3zM71 552h3v1h-3zM77 552h3v1h-3zM83 552h3v1h-3zM89 552h3v1h-3zM95 552h3v1h-3zM101 552h3v1h-3zM107 552h3v1h-3zM113 552h3v1h-3zM119 552h3v1h-3zM125 552h3v1h-3zM131 552h3v1h-3zM137 552h3v1h-3zM143 552h3v1h-3zM149 552h3v1h-3zM155 552h3v1h-3zM161 552h3v1h-3zM167 552h3v1h-3zM173 552h3v1h-3zM179 552h3v1h-3zM185 552h3v1h-3zM191 552h3v1h-3zM197 552h3v1h-3zM203 552h3v1h-3zM209 552h3v1h-3zM215 552h3v1h-3zM221 552h3v1h-3zM227 552h3v1h-3zM233 552h3v1h-3zM239 552h3v1h-3zM245 552h3v1h-3zM251 552h3v1h-3zM257 552h3v1h-3zM263 552h3v1h-3zM269 552h3v1h-3zM275 552h3v1h-3zM281 552h3v1h-3zM287 552h3v1h-3zM293 552h3v1h-3zM299 552h3v1h-3zM305 552h3v1h-3zM311 552h3v1h-3zM317 552h3v1h-3zM323 552h3v1h-3zM329 552h3v1h-3zM335 552h3v1h-3zM341 552h3v1h-3zM347 552h3v1h-3zM353 552h3v1h-3zM359 552h3v1h-3zM365 552h3v1h-3zM371 552h3v1h-3zM377 552h3v1h-3zM383 552h3v1h-3zM389 552h3v1h-3zM395 552h3v1h-3zM401 552h3v1h-3zM407 552h3v1h-3zM413 552h3v1h-3zM419 552h3v1h-3zM425 552h3v1h-3zM431 552h3v1h-3zM437 552h3v1h-3zM443 552h3v1h-3zM449 552h3v1h-3zM455 552h3v1h-3zM461 552h3v1h-3zM467 552h3v1h-3zM473 552h3v1h-3zM479 552h3v1h-3zM485 552h3v1h-3zM491 552h3v1h-3zM497 552h3v1h-3zM503 552h3v1h-3zM509 552h3v1h-3zM515 552h3v1h-3zM521 552h3v1h-3zM527 552h3v1h-3zM533 552h3v1h-3zM539 552h3v1h-3zM545 552h3v1h-3zM551 552h3v1h-3zM557 552h3v1h-3zM563 552h3v1h-3zM569 552h3v1h-3zM575 552h3v1h-3zM581 552h3v1h-3zM587 552h3v1h-3zM593 552h3v1h-3zM599 552h3v1h-3zM605 552h3v1h-3zM611 552h3v1h-3zM617 552h3v1h-3zM623 552h3v1h-3zM629 552h3v1h-3zM635 552h3v1h-3zM641 552h3v1h-3zM647 552h3v1h-3zM653 552h3v1h-3zM659 552h3v1h-3zM665 552h3v1h-3zM671 552h3v1h-3zM677 552h3v1h-3zM683 552h3v1h-3zM689 552h3v1h-3zM695 552h3v1h-3zM701 552h3v1h-3zM707 552h3v1h-3zM713 552h3v1h-3zM719 552h3v1h-3zM725 552h3v1h-3zM731 552h3v1h-3zM737 552h3v1h-3zM743 552h3v1h-3zM749 552h3v1h-3zM755 552h3v1h-3zM761 552h3v1h-3zM767 552h3v1h-3zM773 552h3v1h-3zM779 552h3v1h-3zM785 552h3v1h-3zM791 552h3v1h-3zM797 552h3v1h-3zM803 552h3v1h-3zM809 552h3v1h-3zM815 552h3v1h-3zM821 552h3v1h-3zM827 552h3v1h-3zM833 552h3v1h-3zM839 552h3v1h-3zM845 552h3v1h-3zM851 552h3v1h-3zM857 552h3v1h-3zM863 552h3v1h-3zM869 552h3v1h-3zM875 552h3v1h-3zM881 552h3v1h-3zM887 552h3v1h-3zM893 552h3v1h-3zM899 552h3v1h-3zM905 552h3v1h-3zM911 552h3v1h-3zM917 552h3v1h-3zM923 552h3v1h-3zM929 552h3v1h-3zM935 552h3v1h-3zM941 552h3v1h-3zM947 552h3v1h-3zM953 552h3v1h-3zM959 552h3v1h-3zM965 552h3v1h-3zM971 552h3v1h-3zM977 552h3v1h-3zM983 552h3v1h-3zM989 552h3v1h-3zM995 552h3v1h-3zM1001 552h3v1h-3zM1007 552h3v1h-3zM1013 552h3v1h-3zM1019 552h3v1h-3zM1025 552h3v1h-3zM1031 552h3v1h-3zM1037 552h3v1h-3zM1043 552h3v1h-3zM1049 552h3v1h-3zM1055 552h3v1h-3zM1061 552h3v1h-3zM1067 552h3v1h-3zM1073 552h3v1h-3zM1079 552h3v1h-3zM1085 552h3v1h-3zM1091 552h3v1h-3zM1097 552h3v1h-3zM1103 552h3v1h-3zM1109 552h3v1h-3zM1115 552h3v1h-3zM1121 552h3v1h-3zM1127 552h3v1h-3zM1133 552h3v1h-3zM1139 552h3v1h-3zM1145 552h3v1h-3zM1151 552h3v1h-3zM1157 552h3v1h-3zM1163 552h3v1h-3zM1169 552h3v1h-3zM1175 552h3v1h-3zM1181 552h3v1h-3zM1187 552h3v1h-3zM1193 552h3v1h-3zM1199 552h3v1h-3zM1205 552h3v1h-3zM1211 552h3v1h-3zM1217 552h3v1h-3zM1223 552h3v1h-3zM1229 552h3v1h-3zM1235 552h3v1h-3zM1241 552h3v1h-3zM1247 552h3v1h-3zM1253 552h3v1h-3zM1259 552h3v1h-3zM1265 552h3v1h-3zM1271 552h3v1h-3zM1277 552h3v1h-3zM1283 552h3v1h-3zM1289 552h3v1h-3zM1295 552h3v1h-3zM1301 552h3v1h-3zM1307 552h3v1h-3zM1313 552h3v1h-3zM1319 552h3v1h-3zM1325 552h3v1h-3zM1331 552h3v1h-3zM1337 552h3v1h-3zM1343 552h3v1h-3zM1349 552h3v1h-3zM1355 552h3v1h-3zM1361 552h3v1h-3zM1367 552h3v1h-3zM1373 552h3v1h-3zM1379 552h3v1h-3zM1385 552h3v1h-3zM1391 552h3v1h-3zM1397 552h3v1h-3zM1403 552h3v1h-3zM1409 552h3v1h-3zM1415 552h3v1h-3zM1421 552h3v1h-3zM1427 552h3v1h-3zM1433 552h3v1h-3zM1439 552h3v1h-3zM1445 552h3v1h-3zM1451 552h3v1h-3zM1457 552h3v1h-3zM1463 552h3v1h-3zM1469 552h3v1h-3zM1475 552h3v1h-3zM1481 552h3v1h-3zM1487 552h3v1h-3zM1493 552h3v1h-3zM1499 552h3v1h-3zM1505 552h3v1h-3zM1511 552h3v1h-3zM1517 552h3v1h-3zM1523 552h3v1h-3zM1529 552h3v1h-3zM1535 552h3v1h-3zM1541 552h3v1h-3zM1547 552h3v1h-3zM1553 552h3v1h-3zM1559 552h3v1h-3zM1565 552h3v1h-3zM1571 552h3v1h-3zM1577 552h3v1h-3zM1583 552h3v1h-3zM1589 552h3v1h-3zM1595 552h3v1h-3zM1601 552h3v1h-3zM1607 552h3v1h-3z" fill="#c0c0c0"/>
<path d="M5 588h3v1h-3zM11 588h3v1h-3zM17 588h3v1h-3zM23 588h3v1h-3zM29 588h3v1h-3zM35 588h3v1h-3zM41 588h3v1h-3zM47 588h3v1h-3zM53 588h3v1h-3zM59 588h3v1h-3zM65 588h3v1h-3zM71 588h3v1h-3zM77 588h3v1h-3zM83 588h3v1h-3zM89 588h3v1h-3zM95 588h3v1h-3zM101 588h3v1h-3zM107 588h3v1h-3zM113 588h3v1h-3zM119 588h3v1h-3zM125 588h3v1h-3zM131 588h3v1h-3zM137 588h3v1h-3zM143 588h3v1h-3zM149 588h3v1h-3zM155 588h3v1h-3zM161 588h3v1h-3zM167 588h3v1h-3zM173 588h3v1h-3zM179 588h3v1h-3zM185 588h3v1h-3zM191 588h3v1h-3zM197 588h3v1h-3zM203 588h3v1h-3zM209 588h3v1h-3zM215 588h3v1h-3zM221 588h3v1h-3zM227 588h3v1h-3zM233 588h3v1h-3zM239 588h3v1h-3zM245 588h3v1h-3zM251 588h3v1h-3zM257 588h3v1h-3zM263 588h3v1h-3zM269 588h3v1h-3zM275 588h3v1h-3zM281 588h3v1h-3zM287 588h3v1h-3zM293 588h3v1h-3zM299 588h3v1h-3zM305 588h3v1h-3zM311 588h3v1h-3zM317 588h3v1h-3zM323 588h3v1h-3zM329 588h3v1h-3zM335 588h3v1h-3zM341 588h3v1h-3zM347 588h3v1h-3zM353 588h3v1h-3zM359 588h3v1h-3zM365 588h3v1h-3zM371 588h3v1h-3zM377 588h3v1h-3zM383 588h3v1h-3zM389 588h3v1h-3zM395 588h3v1h-3zM401 588h3v1h-3zM407 588h3v1h-3zM413 588h3v1h-3zM419 588h3v1h-3zM425 588h3v1h-3zM431 588h3v1h-3zM437 588h3v1h-3zM443 588h3v1h-3zM449 588h3v1h-3zM455 588h3v1h-3zM461 588h3v1h-3zM467 588h3v1h-3zM473 588h3v1h-3zM479 588h3v1h-3zM485 588h3v1h-3zM491 588h3v1h-3zM497 588h3v1h-3zM503 588h3v1h-3zM509 588h3v1h-3zM515 588h3v1h-3zM521 588h3v1h-3zM527 588h3v1h-3zM533 588h3v1h-3zM539 588h3v1h-3zM545 588h3v1h-3zM551 588h3v1h-3zM557 588h3v1h-3zM563 588h3v1h-3zM569 588h3v1h-3zM575 588h3v1h-3zM581 588h3v1h-3zM587 588h3v1h-3zM593 588h3v1h-3zM599 588h3v1h-3zM605 588h3v1h-3zM611 588h3v1h-3zM617 588h3v1h-3zM623 588h3v1h-3zM629 588h3v1h-3zM635 588h3v1h-3zM641 588h3v1h-3zM647 588h3v1h-3zM653 588h3v1h-3zM659 588h3v1h-3zM665 588h3v1h-3zM671 588h3v1h-3zM677 588h3v1h-3zM683 588h3v1h-3zM689 588h3v1h-3zM695 588h3v1h-3zM701 588h3v1h-3zM707 588h3v1h-3zM713 588h3v1h-3zM719 588h3v1h-3zM725 588h3v1h-3zM731 588h3v1h-3zM737 588h3v1h-3zM743 588h3v1h-3zM749 588h3v1h-3zM755 588h3v1h-3zM761 588h3v1h-3zM767 588h3v1h-3zM773 588h3v1h-3zM779 588h3v1h-3zM785 588h3v1h-3zM791 588h3v1h-3zM797 588h3v1h-3zM803 588h3v1h-3zM809 588h3v1h-3zM815 588h3v1h-3zM821 588h3v1h-3zM827 588h3v1h-3zM833 588h3v1h-3zM839 588h3v1h-3zM845 588h3v1h-3zM851 588h3v1h-3zM857 588h3v1h-3zM863 588h3v1h-3zM869 588h3v1h-3zM875 588h3v1h-3zM881 588h3v1h-3zM887 588h3v1h-3zM893 588h3v1h-3zM899 588h3v1h-3zM905 588h3v1h-3zM911 588h3v1h-3zM917 588h3v1h-3zM923 588h3v1h-3zM929 588h3v1h-3zM935 588h3v1h-3zM941 588h3v1h-3zM947 588h3v1h-3zM953 588h3v1h-3zM959 588h3v1h-3zM965 588h3v1h-3zM971 588h3v1h-3zM977 588h3v1h-3zM983 588h3v1h-3zM989 588h3v1h-3zM995 588h3v1h-3zM1001 588h3v1h-3zM1007 588h3v1h-3zM1013 588h3v1h-3zM1019 588h3v1h-3zM1025 588h3v1h-3zM1031 588h3v1h-3zM1037 588h3v1h-3zM1043 588h3v1h-3zM1049 588h3v1h-3zM1055 588h3v1h-3zM1061 588h3v1h-3zM1067 588h3v1h-3zM1073 588h3v1h-3zM1079 588h3v1h-3zM1085 588h3v1h-3zM1091 588h3v1h-3zM1097 588h3v1h-3zM1103 588h3v1h-3zM1109 588h3v1h-3zM1115 588h3v1h-3zM1121 588h3v1h-3zM1127 588h3v1h-3zM1133 588h3v1h-3zM1139 588h3v1h-3zM1145 588h3v1h-3zM1151 588h3v1h-3zM1157 588h3v1h-3zM1163 588h3v1h-3zM1169 588h3v1h-3zM1175 588h3v1h-3zM1181 588h3v1h-3zM1187 588h3v1h-3zM1193 588h3v1h-3zM1199 588h3v1h-3zM1205 588h3v1h-3zM1211 588h3v1h-3zM1217 588h3v1h-3zM1223 588h3v1h-3zM1229 588h3v1h-3zM1235 588h3v1h-3zM1241 588h3v1h-3zM1247 588h3v1h-3zM1253 588h3v1h-3zM1259 588h3v1h-3zM1265 588h3v1h-3zM1271 588h3v1h-3zM1277 588h3v1h-3zM1283 588h3v1h-3zM1289 588h3v1h-3zM1295 588h3v1h-3zM1301 588h3v1h-3zM1307 588h3v1h-3zM1313 588h3v1h-3zM1319 588h3v1h-3zM1325 588h3v1h-3zM1331 588h3v1h-3zM1337 588h3v1h-3zM1343 588h3v1h-3zM1349 588h3v1h-3zM1355 588h3v1h-3zM1361 588h3v1h-3zM1367 588h3v1h-3zM1373 588h3v1h-3zM1379 588h3v1h-3zM1385 588h3v1h-3zM1391 588h3v1h-3zM1397 588h3v1h-3zM1403 588h3v1h-3zM1409 588h3v1h-3zM1415 588h3v1h-3zM1421 588h3v1h-3zM1427 588h3v1h-3zM1433 588h3v1h-3zM1439 588h3v1h-3zM1445 588h3v1h-3zM1451 588h3v1h-3zM1457 588h3v1h-3zM1463 588h3v1h-3zM1469 588h3v1h-3zM1475 588h3v1h-3zM1481 588h3v1h-3zM1487 588h3v1h-3zM1493 588h3v1h-3zM1499 588h3v1h-3zM1505 588h3v1h-3zM1511 588h3v1h-3zM1517 588h3v1h-3zM1523 588h3v1h-3zM1529 588h3v1h-3zM1535 588h3v1h-3zM1541 588h3v1h-3zM1547 588h3v1h-3zM1553 588h3v1h-3zM1559 588h3v1h-3zM1565 588h3v1h-3zM1571 588h3v1h-3zM1577 588h3v1h-3zM1583 588h3v1h-3zM1589 588h3v1h-3zM1595 588h3v1h-3zM1601 588h3v1h-3zM1607 588h3v1h-3z" fill="#c0c0c0"/>
<path d="M152 567h5v1h-5zM198 567h4v1h-4zM994 567h3v1h-3zM1134 567h3v1h-3zM1167 567h2v1h-2zM337 557h2v1h-2zM351 557h2v1h-2zM963 557h2v1h-2zM12 576h5v1h-5zM218 576h2v1h-2zM222 576h3v1h-3zM247 576h2v1h-2zM274 576h2v1h-2zM277 576h2v1h-2zM289 576h2v1h-2zM294 576h3v1h-3zM358 576h4v1h-4zM370 576h3v1h-3zM388 576h2v1h-2zM393 576h2v1h-2zM406 576h2v1h-2zM818 576h2v1h-2zM822 576h3v1h-3zM878 576h3v1h-3zM915 576h3v1h-3zM1083 576h2v1h-2zM1191 576h2v1h-2zM196 568h2v1h-2zM308 568h2v1h-2zM991 568h3v1h-3zM997 568h2v1h-2zM1066 568h3v1h-3zM1132 568h2v1h-2zM1158 568h4v1h-4zM1165 568h2v1h-2zM97 566h2v1h-2zM202 566h3v1h-3zM741 566h2v1h-2zM847 566h2v1h-2zM1169 566h2v1h-2zM1266 566h3v1h-3zM102 564h3v1h-3zM746 564h7v1h-7zM842 564h3v1h-3zM1178 564h2v1h-2zM1199 564h3v1h-3zM1206 564h4v1h-4zM1270 564h2v1h-2zM1274 564h6v1h-6zM33 574h2v1h-2zM89 574h2v1h-2zM142 574h2v1h-2zM145 574h2v1h-2zM226 574h2v1h-2zM374 574h2v1h-2zM382 574h2v1h-2zM398 574h7v1h-7zM766 574h3v1h-3zM775 574h6v1h-6zM887 574h2v1h-2zM898 574h3v1h-3zM941 574h2v1h-2zM982 574h2v1h-2zM1019 574h2v1h-2zM1030 574h3v1h-3zM1074 574h2v1h-2zM1086 574h2v1h-2zM194 569h2v1h-2zM310 569h3v1h-3zM566 569h4v1h-4zM730 569h3v1h-3zM989 569h2v1h-2zM999 569h6v1h-6zM1063 569h3v1h-3zM1130 569h2v1h-2zM1154 569h4v1h-4zM1162 569h3v1h-3zM491 588h6v1h-6zM638 588h2v1h-2zM677 588h2v1h-2zM501 591h2v1h-2zM511 591h10v1h-10zM642 591h2v1h-2zM646 591h4v1h-4zM663 591h2v1h-2zM671 591h2v1h-2zM115 559h3v1h-3zM342 559h3v1h-3zM958 559h3v1h-3zM1097 559h2v1h-2zM1108 559h6v1h-6zM1252 559h6v1h-6zM26 570h2v1h-2zM55 570h2v1h-2zM327 570h2v1h-2zM564 570h2v1h-2zM570 570h3v1h-3zM728 570h2v1h-2zM906 570h3v1h-3zM931 570h3v1h-3zM1005 570h2v1h-2zM1056 570h3v1h-3zM1061 570h2v1h-2zM1126 570h2v1h-2zM1152 570h2v1h-2zM1216 570h9v1h-9zM31 573h2v1h-2zM48 573h2v1h-2zM86 573h3v1h-3zM147 573h2v1h-2zM173 573h2v1h-2zM764 573h2v1h-2zM769 573h2v1h-2zM773 573h2v1h-2zM831 573h2v1h-2zM868 573h5v1h-5zM885 573h2v1h-2zM895 573h3v1h-3zM901 573h2v1h-2zM939 573h2v1h-2zM1010 573h2v1h-2zM1013 573h2v1h-2zM1017 573h2v1h-2zM1027 573h3v1h-3zM1146 573h2v1h-2zM506 593h3v1h-3zM619 593h2v1h-2zM666 593h3v1h-3zM71 581h2v1h-2zM167 581h2v1h-2zM444 581h2v1h-2zM539 581h2v1h-2zM598 581h2v1h-2zM601 581h2v1h-2zM790 581h3v1h-3zM29 572h2v1h-2zM50 572h3v1h-3zM84 572h2v1h-2zM175 572h2v1h-2zM184 572h6v1h-6zM229 572h2v1h-2zM262 572h3v1h-3zM771 572h2v1h-2zM829 572h2v1h-2zM890 572h2v1h-2zM893 572h2v1h-2zM903 572h2v1h-2zM937 572h2v1h-2zM978 572h3v1h-3zM1015 572h2v1h-2zM1022 572h2v1h-2zM1025 572h2v1h-2zM1227 572h6v1h-6zM481 594h2v1h-2zM654 594h2v1h-2zM77 578h2v1h-2zM161 578h2v1h-2zM215 578h2v1h-2zM242 578h3v1h-3zM284 578h2v1h-2zM556 578h5v1h-5zM587 578h2v1h-2zM812 578h5v1h-5zM860 578h2v1h-2zM922 578h3v1h-3zM1038 578h7v1h-7zM969 562h2v1h-2zM66 583h3v1h-3zM435 583h3v1h-3zM450 583h4v1h-4zM548 583h5v1h-5zM695 583h2v1h-2zM794 583h2v1h-2zM130 563h2v1h-2zM840 563h2v1h-2zM851 563h2v1h-2zM971 563h2v1h-2zM1174 563h2v1h-2zM1202 563h4v1h-4zM1272 563h2v1h-2zM8 575h4v1h-4zM35 575h2v1h-2zM91 575h2v1h-2zM220 575h2v1h-2zM279 575h2v1h-2zM291 575h3v1h-3zM362 575h8v1h-8zM378 575h2v1h-2zM386 575h2v1h-2zM395 575h3v1h-3zM820 575h2v1h-2zM943 575h2v1h-2zM53 571h2v1h-2zM190 571h3v1h-3zM231 571h2v1h-2zM260 571h2v1h-2zM325 571h2v1h-2zM734 571h2v1h-2zM834 571h2v1h-2zM929 571h2v1h-2zM934 571h3v1h-3zM976 571h2v1h-2zM1007 571h2v1h-2zM1059 571h2v1h-2zM1090 571h2v1h-2zM1120 571h2v1h-2zM1140 571h5v1h-5zM1225 571h2v1h-2zM113 558h2v1h-2zM118 558h7v1h-7zM339 558h3v1h-3zM961 558h2v1h-2zM1099 558h2v1h-2zM1114 558h3v1h-3zM1258 558h3v1h-3zM79 577h2v1h-2zM213 577h2v1h-2zM245 577h2v1h-2zM282 577h2v1h-2zM286 577h3v1h-3zM356 577h2v1h-2zM390 577h3v1h-3zM582 577h2v1h-2zM585 577h2v1h-2zM702 577h2v1h-2zM760 577h2v1h-2zM862 577h3v1h-3zM876 577h2v1h-2zM912 577h3v1h-3zM918 577h4v1h-4zM1078 577h2v1h-2zM1081 577h2v1h-2zM40 580h5v1h-5zM73 580h2v1h-2zM165 580h2v1h-2zM236 580h2v1h-2zM458 580h2v1h-2zM462 580h7v1h-7zM534 580h2v1h-2zM537 580h2v1h-2zM591 580h2v1h-2zM786 580h4v1h-4zM503 592h3v1h-3zM509 592h2v1h-2zM617 592h2v1h-2zM644 592h2v1h-2zM650 592h3v1h-3zM664 592h2v1h-2zM669 592h2v1h-2zM75 579h2v1h-2zM163 579h2v1h-2zM238 579h4v1h-4zM410 579h2v1h-2zM460 579h2v1h-2zM589 579h2v1h-2zM784 579h2v1h-2zM810 579h2v1h-2zM1036 579h2v1h-2zM424 586h2v1h-2zM524 586h2v1h-2zM690 586h2v1h-2zM803 586h2v1h-2zM433 584h2v1h-2zM438 584h3v1h-3zM546 584h2v1h-2zM610 584h2v1h-2zM693 584h2v1h-2zM710 584h3v1h-3zM796 584h5v1h-5zM426 585h7v1h-7zM801 585h2v1h-2zM526 587h3v1h-3zM108 560h2v1h-2zM345 560h2v1h-2zM954 560h4v1h-4zM1106 560h2v1h-2zM347 561h2v1h-2zM952 561h2v1h-2zM99 565h3v1h-3zM743 565h3v1h-3zM845 565h2v1h-2zM1171 565h2v1h-2zM1180 565h5v1h-5zM1197 565h2v1h-2zM1210 565h3v1h-3zM1264 565h2v1h-2zM499 590h2v1h-2zM661 590h2v1h-2zM489 589h2v1h-2zM497 589h2v1h-2zM679 589h2v1h-2zM64 582h2v1h-2zM69 582h2v1h-2zM442 582h2v1h-2zM446 582h4v1h-4zM454 582h3v1h-3zM470 582h2v1h-2zM594 582h2v1h-2zM603 582h6v1h-6zM1246 553h3v1h-3zM483 595h2v1h-2zM1244 554h2v1h-2zM624 597h2v1h-2zM626 598h3v1h-3zM96 567h1v2h-1zM136 567h1v1h-1zM205 567h1v2h-1zM330 566h1v2h-1zM354 564h1v6h-1zM740 567h1v1h-1zM754 567h1v1h-1zM838 566h1v2h-1zM854 567h1v3h-1zM948 567h1v2h-1zM974 566h1v2h-1zM1093 567h1v2h-1zM1119 567h1v4h-1zM1185 566h1v2h-1zM1196 566h1v2h-1zM1214 567h1v2h-1zM1237 566h1v2h-1zM112 557h1v1h-1zM335 557h1v2h-1zM1243 556h1v2h-1zM1251 557h1v2h-1zM37 576h1v1h-1zM46 576h1v2h-1zM59 575h1v2h-1zM81 576h1v1h-1zM160 576h1v2h-1zM171 575h1v2h-1zM179 576h1v1h-1zM181 576h1v1h-1zM212 576h1v1h-1zM234 575h1v2h-1zM256 576h1v1h-1zM281 576h1v1h-1zM303 575h1v2h-1zM319 576h1v1h-1zM321 576h1v1h-1zM356 575h1v2h-1zM380 576h1v1h-1zM416 576h1v1h-1zM561 576h1v2h-1zM578 576h1v2h-1zM584 576h1v1h-1zM704 576h1v1h-1zM716 576h1v2h-1zM759 575h1v2h-1zM762 575h1v2h-1zM782 576h1v2h-1zM858 576h1v1h-1zM865 576h1v1h-1zM875 576h1v1h-1zM911 575h1v2h-1zM925 576h1v2h-1zM1034 576h1v2h-1zM1054 574h1v3h-1zM1077 576h1v1h-1zM24 568h1v1h-1zM137 568h1v1h-1zM151 568h1v2h-1zM156 568h1v1h-1zM268 568h1v1h-1zM329 568h1v2h-1zM739 568h1v1h-1zM755 568h1v2h-1zM837 568h1v2h-1zM975 568h1v2h-1zM1124 568h1v1h-1zM1137 568h1v1h-1zM1186 568h1v1h-1zM1195 568h1v3h-1zM1236 568h1v1h-1zM135 566h1v1h-1zM753 565h1v2h-1zM853 564h1v3h-1zM949 565h1v2h-1zM1094 564h1v3h-1zM1118 564h1v3h-1zM1213 566h1v1h-1zM127 563h1v2h-1zM129 564h1v1h-1zM134 564h1v2h-1zM331 564h1v2h-1zM839 564h1v2h-1zM850 564h1v1h-1zM950 564h1v1h-1zM973 564h1v2h-1zM1173 564h1v1h-1zM1239 563h1v2h-1zM1263 563h1v2h-1zM7 573h1v2h-1zM18 574h1v1h-1zM47 574h1v2h-1zM58 573h1v2h-1zM82 574h1v2h-1zM93 573h1v2h-1zM159 574h1v2h-1zM172 574h1v1h-1zM178 574h1v2h-1zM182 574h1v2h-1zM210 574h1v1h-1zM233 573h1v2h-1zM258 573h1v2h-1zM272 574h1v1h-1zM304 573h1v2h-1zM317 574h1v1h-1zM322 574h1v2h-1zM355 570h1v5h-1zM377 574h1v1h-1zM385 574h1v1h-1zM562 574h1v2h-1zM576 574h1v1h-1zM718 573h1v2h-1zM723 574h1v1h-1zM725 574h1v1h-1zM758 573h1v2h-1zM763 574h1v1h-1zM826 573h1v2h-1zM856 573h1v2h-1zM867 574h1v1h-1zM873 574h1v1h-1zM882 574h1v1h-1zM910 573h1v2h-1zM927 573h1v2h-1zM945 573h1v2h-1zM985 574h1v1h-1zM1012 574h1v1h-1zM1148 574h1v1h-1zM1190 574h1v1h-1zM1193 573h1v3h-1zM4 569h1v1h-1zM23 569h1v1h-1zM25 569h1v1h-1zM95 569h1v2h-1zM138 569h1v2h-1zM157 569h1v2h-1zM206 569h1v1h-1zM267 569h1v1h-1zM269 569h1v2h-1zM307 569h1v1h-1zM738 569h1v2h-1zM908 569h1v1h-1zM947 569h1v2h-1zM1056 569h1v1h-1zM1069 569h1v1h-1zM1092 569h1v2h-1zM1123 569h1v1h-1zM1125 569h1v1h-1zM1138 569h1v1h-1zM1187 569h1v2h-1zM1215 569h1v1h-1zM1235 569h1v1h-1zM475 587h1v2h-1zM522 588h1v2h-1zM614 588h1v1h-1zM635 587h1v2h-1zM675 588h1v1h-1zM681 588h1v1h-1zM688 588h1v1h-1zM478 591h1v1h-1zM487 591h1v1h-1zM616 591h1v1h-1zM633 590h1v2h-1zM659 590h1v2h-1zM110 559h1v1h-1zM125 559h1v2h-1zM334 559h1v1h-1zM350 558h1v2h-1zM353 559h1v5h-1zM966 559h1v1h-1zM1101 559h1v1h-1zM1116 559h1v1h-1zM1242 558h1v2h-1zM1261 559h1v2h-1zM5 570h1v2h-1zM22 570h1v1h-1zM150 570h1v1h-1zM193 570h1v1h-1zM207 570h1v2h-1zM266 570h1v1h-1zM306 570h1v2h-1zM313 570h1v1h-1zM733 570h1v1h-1zM756 570h1v1h-1zM836 570h1v1h-1zM855 570h1v3h-1zM976 570h1v1h-1zM988 570h1v1h-1zM1070 570h1v1h-1zM1122 570h1v1h-1zM1129 570h1v1h-1zM1139 570h1v1h-1zM1234 570h1v1h-1zM19 573h1v1h-1zM83 573h1v1h-1zM141 573h1v1h-1zM158 571h1v3h-1zM177 573h1v1h-1zM183 573h1v1h-1zM209 573h1v1h-1zM228 573h1v1h-1zM271 572h1v2h-1zM316 573h1v1h-1zM323 573h1v1h-1zM376 573h1v1h-1zM384 573h1v1h-1zM563 572h1v2h-1zM575 573h1v1h-1zM722 573h1v1h-1zM726 572h1v2h-1zM883 573h1v1h-1zM889 573h1v1h-1zM981 573h1v1h-1zM986 572h1v2h-1zM1021 573h1v1h-1zM1055 571h1v3h-1zM1073 573h1v1h-1zM1088 573h1v1h-1zM1149 573h1v1h-1zM1189 572h1v2h-1zM480 593h1v1h-1zM486 592h1v2h-1zM631 593h1v2h-1zM653 593h1v1h-1zM657 593h1v2h-1zM63 581h1v1h-1zM251 581h1v2h-1zM253 581h1v2h-1zM300 581h1v1h-1zM421 581h1v2h-1zM457 581h1v1h-1zM469 581h1v1h-1zM533 581h1v1h-1zM554 580h1v2h-1zM593 581h1v1h-1zM698 581h1v1h-1zM707 580h1v2h-1zM714 580h1v2h-1zM808 581h1v1h-1zM1046 581h1v2h-1zM1052 580h1v2h-1zM6 572h1v1h-1zM20 572h1v1h-1zM57 571h1v2h-1zM94 571h1v2h-1zM140 572h1v1h-1zM149 571h1v2h-1zM208 572h1v1h-1zM232 572h1v1h-1zM259 572h1v1h-1zM305 572h1v1h-1zM315 572h1v1h-1zM324 572h1v1h-1zM574 572h1v1h-1zM719 572h1v1h-1zM721 572h1v1h-1zM736 572h1v1h-1zM757 571h1v2h-1zM827 572h1v1h-1zM833 572h1v1h-1zM884 572h1v1h-1zM909 571h1v2h-1zM928 572h1v1h-1zM946 571h1v2h-1zM1009 572h1v1h-1zM1072 572h1v1h-1zM1089 572h1v1h-1zM1120 572h1v1h-1zM1145 572h1v1h-1zM1150 572h1v1h-1zM1194 571h1v2h-1zM485 594h1v1h-1zM621 594h1v1h-1zM38 577h1v2h-1zM45 578h1v2h-1zM61 578h1v1h-1zM170 577h1v2h-1zM235 577h1v2h-1zM249 577h1v2h-1zM255 577h1v2h-1zM298 578h1v2h-1zM302 577h1v2h-1zM409 578h1v1h-1zM414 578h1v1h-1zM418 578h1v1h-1zM579 578h1v1h-1zM581 578h1v1h-1zM701 578h1v1h-1zM705 577h1v2h-1zM715 578h1v2h-1zM760 578h1v1h-1zM783 578h1v1h-1zM912 578h1v1h-1zM1035 578h1v1h-1zM1053 577h1v3h-1zM1080 578h1v1h-1zM106 562h1v1h-1zM126 561h1v2h-1zM132 562h1v1h-1zM332 562h1v2h-1zM852 562h1v1h-1zM951 562h1v2h-1zM1095 562h1v2h-1zM1104 562h1v1h-1zM1117 560h1v4h-1zM1176 562h1v1h-1zM1240 562h1v1h-1zM1262 561h1v2h-1zM252 583h1v1h-1zM422 583h1v1h-1zM441 583h1v1h-1zM472 583h1v1h-1zM531 583h1v1h-1zM542 583h1v2h-1zM596 583h1v1h-1zM609 583h1v1h-1zM709 583h1v1h-1zM713 582h1v2h-1zM806 583h1v2h-1zM1047 583h1v2h-1zM1050 583h1v1h-1zM105 563h1v1h-1zM133 563h1v1h-1zM1177 563h1v1h-1zM17 575h1v1h-1zM144 575h1v1h-1zM211 575h1v1h-1zM225 575h1v1h-1zM257 575h1v1h-1zM273 575h1v1h-1zM318 575h1v1h-1zM373 575h1v1h-1zM381 575h1v1h-1zM405 575h1v1h-1zM577 575h1v1h-1zM717 575h1v1h-1zM724 575h1v1h-1zM781 575h1v1h-1zM825 575h1v1h-1zM857 575h1v1h-1zM866 575h1v1h-1zM874 575h1v1h-1zM881 575h1v1h-1zM926 575h1v1h-1zM984 575h1v1h-1zM1033 575h1v1h-1zM1076 575h1v1h-1zM1085 575h1v1h-1zM1191 575h1v1h-1zM21 571h1v1h-1zM28 571h1v1h-1zM139 571h1v1h-1zM265 571h1v1h-1zM270 571h1v1h-1zM314 571h1v1h-1zM564 571h1v1h-1zM573 571h1v1h-1zM720 571h1v1h-1zM727 571h1v1h-1zM737 571h1v1h-1zM828 571h1v1h-1zM892 571h1v1h-1zM905 571h1v1h-1zM987 571h1v1h-1zM1024 571h1v1h-1zM1071 571h1v1h-1zM1128 571h1v1h-1zM1151 571h1v1h-1zM1188 571h1v1h-1zM1233 571h1v1h-1zM111 558h1v1h-1zM352 556h1v1h-1zM352 558h1v1h-1zM965 558h1v1h-1zM60 577h1v1h-1zM180 577h1v1h-1zM217 577h1v1h-1zM276 577h1v1h-1zM297 577h1v1h-1zM320 577h1v1h-1zM408 577h1v1h-1zM415 577h1v1h-1zM417 577h1v1h-1zM817 577h1v1h-1zM859 577h1v1h-1zM1192 577h1v1h-1zM62 579h1v2h-1zM169 579h1v2h-1zM250 579h1v2h-1zM254 579h1v2h-1zM299 580h1v1h-1zM301 579h1v2h-1zM412 580h1v1h-1zM420 580h1v1h-1zM600 580h1v1h-1zM699 580h1v1h-1zM809 580h1v1h-1zM1045 579h1v2h-1zM479 592h1v1h-1zM632 592h1v1h-1zM658 592h1v1h-1zM39 579h1v1h-1zM236 579h1v1h-1zM413 579h1v1h-1zM419 579h1v1h-1zM536 579h1v1h-1zM555 579h1v1h-1zM580 579h1v1h-1zM700 579h1v1h-1zM706 579h1v1h-1zM474 586h1v1h-1zM529 586h1v1h-1zM544 586h1v1h-1zM613 586h1v2h-1zM636 586h1v1h-1zM682 586h1v2h-1zM686 586h1v1h-1zM423 584h1v2h-1zM473 584h1v2h-1zM530 584h1v2h-1zM684 584h1v1h-1zM1049 584h1v1h-1zM543 585h1v1h-1zM545 585h1v1h-1zM612 585h1v1h-1zM683 585h1v1h-1zM685 585h1v1h-1zM692 585h1v1h-1zM712 585h1v1h-1zM805 585h1v1h-1zM1048 585h1v1h-1zM523 587h1v1h-1zM637 587h1v1h-1zM676 587h1v1h-1zM687 587h1v1h-1zM689 587h1v1h-1zM333 560h1v2h-1zM349 560h1v1h-1zM967 560h1v1h-1zM1096 560h1v2h-1zM1102 560h1v1h-1zM1241 560h1v2h-1zM107 561h1v1h-1zM968 561h1v1h-1zM1103 561h1v1h-1zM1105 561h1v1h-1zM623 596h1v1h-1zM629 596h1v2h-1zM128 565h1v1h-1zM849 565h1v1h-1zM1238 565h1v1h-1zM1269 565h1v1h-1zM477 590h1v1h-1zM488 590h1v1h-1zM521 590h1v1h-1zM615 589h1v2h-1zM641 590h1v1h-1zM673 590h1v1h-1zM476 589h1v1h-1zM634 589h1v1h-1zM640 589h1v1h-1zM660 589h1v1h-1zM674 589h1v1h-1zM532 582h1v1h-1zM541 582h1v1h-1zM553 582h1v1h-1zM597 582h1v1h-1zM697 582h1v1h-1zM708 582h1v1h-1zM793 582h1v1h-1zM807 582h1v1h-1zM1051 582h1v1h-1zM622 595h1v1h-1zM630 595h1v1h-1zM656 595h1v1h-1zM1249 554h1v2h-1zM1244 555h1v1h-1zM336 556h1v1h-1zM1250 556h1v1h-1z" fill="#1e90ff"/>
<rect x="4" y="632" width="1" height="15" fill="#c0c0c0"/>
<rect x="8" y="637" width="1" height="10" fill="#c0c0c0"/>
<rect x="12" y="640" width="1" height="7" fill="#c0c0c0"/>
<rect x="16" y="643" width="1" height="4" fill="#c0c0c0"/>
<rect x="20" y="644" width="1" height="3" fill="#c0c0c0"/>
<rect x="24" y="645" width="1" height="2" fill="#c0c0c0"/>
<rect x="28" y="646" width="1" height="1" fill="#c0c0c0"/>
<rect x="32" y="646" width="1" height="1" fill="#c0c0c0"/>
<rect x="36" y="646" width="1" height="3" fill="#c0c0c0"/>
<rect x="40" y="646" width="1" height="7" fill="#c0c0c0"/>
<rect x="44" y="646" width="1" height="9" fill="#c0c0c0"/>
<rect x="48" y="646" width="1" height="9" fill="#c0c0c0"/>
<rect x="52" y="646" width="1" height="9" fill="#c0c0c0"/>
<rect x="56" y="646" width="1" height="7" fill="#c0c0c0"/>
<rect x="60" y="646" width="1" height="8" fill="#c0c0c0"/>
<rect x="64" y="646" width="1" height="13" fill="#c0c0c0"/>
<rect x="68" y="646" width="1" height="17" fill="#c0c0c0"/>
<rect x="72" y="646" width="1" height="18" fill="#c0c0c0"/>
<rect x="76" y="646" width="1" height="19" fill="#c0c0c0"/>
<rect x="80" y="646" width="1" height="19" fill="#c0c0c0"/>
<rect x="84" y="646" width="1" height="16" fill="#c0c0c0"/>
<rect x="88" y="646" width="1" height="15" fill="#c0c0c0"/>
<rect x="92" y="646" width="1" height="14" fill="#c0c0c0"/>
<rect x="96" y="646" width="1" height="11" fill="#c0c0c0"/>
<rect x="100" y="646" width="1" height="6" fill="#c0c0c0"/>
<rect x="104" y="646" width="1" height="4" fill="#c0c0c0"/>
<rect x="108" y="646" width="1" height="1" fill="#c0c0c0"/>
<rect x="112" y="641" width="1" height="6" fill="#c0c0c0"/>
<rect x="116" y="638" width="1" height="9" fill="#c0c0c0"/>
<rect x="120" y="635" width="1" height="12" fill="#c0c0c0"/>
<rect x="124" y="633" width="1" height="14" fill="#c0c0c0"/>
<rect x="128" y="633" width="1" height="14" fill="#c0c0c0"/>
<rect x="132" y="633" width="1" height="14" fill="#c0c0c0"/>
<rect x="136" y="634" width="1" height="13" fill="#c0c0c0"/>
<rect x="140" y="637" width="1" height="10" fill="#c0c0c0"/>
<rect x="144" y="640" width="1" height="7" fill="#c0c0c0"/>
<rect x="148" y="642" width="1" height="5" fill="#c0c0c0"/>
<rect x="152" y="642" width="1" height="5" fill="#c0c0c0"/>
<rect x="156" y="641" width="1" height="6" fill="#c0c0c0"/>
<rect x="160" y="645" width="1" height="2" fill="#c0c0c0"/>
<rect x="164" y="646" width="1" height="3" fill="#c0c0c0"/>
<rect x="168" y="646" width="1" height="7" fill="#c0c0c0"/>
<rect x="172" y="646" width="1" height="8" fill="#c0c0c0"/>
<rect x="176" y="646" width="1" height="8" fill="#c0c0c0"/>
<rect x="180" y="646" width="1" height="10" fill="#c0c0c0"/>
<rect x="184" y="646" width="1" height="9" fill="#c0c0c0"/>
<rect x="188" y="646" width="1" height="8" fill="#c0c0c0"/>
<rect x="192" y="646" width="1" height="7" fill="#c0c0c0"/>
<rect x="196" y="646" width="1" height="6" fill="#c0c0c0"/>
<rect x="200" y="646" width="1" height="4" fill="#c0c0c0"/>
<rect x="204" y="646" width="1" height="3" fill="#c0c0c0"/>
<rect x="208" y="646" width="1" height="3" fill="#c0c0c0"/>
<rect x="212" y="646" width="1" height="5" fill="#c0c0c0"/>
<rect x="216" y="646" width="1" height="7" fill="#c0c0c0"/>
<rect x="220" y="646" width="1" height="8" fill="#c0c0c0"/>
<rect x="224" y="646" width="1" height="10" fill="#c0c0c0"/>
<rect x="228" y="646" width="1" height="9" fill="#c0c0c0"/>
<rect x="232" y="646" width="1" height="8" fill="#c0c0c0"/>
<rect x="236" y="646" width="1" height="11" fill="#c0c0c0"/>
<rect x="240" y="646" width="1" height="13" fill="#c0c0c0"/>
<rect x="244" y="646" width="1" height="14" fill="#c0c0c0"/>
<rect x="248" y="646" width="1" height="14" fill="#c0c0c0"/>
<rect x="252" y="646" width="1" height="18" fill="#c0c0c0"/>
<rect x="256" y="646" width="1" height="17" fill="#c0c0c0"/>
<rect x="260" y="646" width="1" height="15" fill="#c0c0c0"/>
<rect x="264" y="646" width="1" height="14" fill="#c0c0c0"/>
<rect x="268" y="646" width="1" height="12" fill="#c0c0c0"/>
<rect x="272" y="646" width="1" height="12" fill="#c0c0c0"/>
<rect x="276" y="646" width="1" height="13" fill="#c0c0c0"/>
<rect x="280" y="646" width="1" height="14" fill="#c0c0c0"/>
<rect x="284" y="646" width="1" height="15" fill="#c0c0c0"/>
<rect x="288" y="646" width="1" height="15" fill="#c0c0c0"/>
<rect x="292" y="646" width="1" height="14" fill="#c0c0c0"/>
<rect x="296" y="646" width="1" height="15" fill="#c0c0c0"/>
<rect x="300" y="646" width="1" height="17" fill="#c0c0c0"/>
<rect x="304" y="646" width="1" height="16" fill="#c0c0c0"/>
<rect x="308" y="646" width="1" height="12" fill="#c0c0c0"/>
<rect x="312" y="646" width="1" height="10" fill="#c0c0c0"/>
<rect x="316" y="646" width="1" height="11" fill="#c0c0c0"/>
<rect x="320" y="646" width="1" height="12" fill="#c0c0c0"/>
<rect x="324" y="646" width="1" height="12" fill="#c0c0c0"/>
<rect x="328" y="646" width="1" height="9" fill="#c0c0c0"/>
<rect x="332" y="646" width="1" height="1" fill="#c0c0c0"/>
<rect x="336" y="641" width="1" height="6" fill="#c0c0c0"/>
<rect x="340" y="635" width="1" height="12" fill="#c0c0c0"/>
<rect x="344" y="631" width="1" height="16" fill="#c0c0c0"/>
<rect x="348" y="629" width="1" height="18" fill="#c0c0c0"/>
<rect x="352" y="623" width="1" height="24" fill="#c0c0c0"/>
<rect x="356" y="633" width="1" height="14" fill="#c0c0c0"/>
<rect x="360" y="640" width="1" height="7" fill="#c0c0c0"/>
<rect x="364" y="645" width="1" height="2" fill="#c0c0c0"/>
<rect x="368" y="646" width="1" height="1" fill="#c0c0c0"/>
<rect x="372" y="646" width="1" height="6" fill="#c0c0c0"/>
<rect x="376" y="646" width="1" height="7" fill="#c0c0c0"/>
<rect x="380" y="646" width="1" height="10" fill="#c0c0c0"/>
<rect x="384" y="646" width="1" height="11" fill="#c0c0c0"/>
<rect x="388" y="646" width="1" height="13" fill="#c0c0c0"/>
<rect x="392" y="646" width="1" height="15" fill="#c0c0c0"/>
<rect x="396" y="646" width="1" height="16" fill="#c0c0c0"/>
<rect x="400" y="646" width="1" height="15" fill="#c0c0c0"/>
<rect x="404" y="646" width="1" height="14" fill="#c0c0c0"/>
<rect x="408" y="646" width="1" height="16" fill="#c0c0c0"/>
<rect x="412" y="646" width="1" height="20" fill="#c0c0c0"/>
<rect x="416" y="646" width="1" height="20" fill="#c0c0c0"/>
<rect x="420" y="646" width="1" height="23" fill="#c0c0c0"/>
<rect x="424" y="646" width="1" height="29" fill="#c0c0c0"/>
<rect x="428" y="646" width="1" height="33" fill="#c0c0c0"/>
<rect x="432" y="646" width="1" height="36" fill="#c0c0c0"/>
<rect x="436" y="646" width="1" height="38" fill="#c0c0c0"/>
<rect x="440" y="646" width="1" height="39" fill="#c0c0c0"/>
<rect x="444" y="646" width="1" height="38" fill="#c0c0c0"/>
<rect x="448" y="646" width="1" height="38" fill="#c0c0c0"/>
<rect x="452" y="646" width="1" height="38" fill="#c0c0c0"/>
<rect x="456" y="646" width="1" height="36" fill="#c0c0c0"/>
<rect x="460" y="646" width="1" height="35" fill="#c0c0c0"/>
<rect x="464" y="646" width="1" height="33" fill="#c0c0c0"/>
<rect x="468" y="646" width="1" height="32" fill="#c0c0c0"/>
<rect x="472" y="646" width="1" height="33" fill="#c0c0c0"/>
<rect x="476" y="646" width="1" height="36" fill="#c0c0c0"/>
<rect x="480" y="646" width="1" height="40" fill="#c0c0c0"/>
<rect x="484" y="646" width="1" height="46" fill="#c0c0c0"/>
<rect x="488" y="646" width="1" height="48" fill="#c0c0c0"/>
<rect x="492" y="646" width="1" height="49" fill="#c0c0c0"/>
<rect x="496" y="646" width="1" height="50" fill="#c0c0c0"/>
<rect x="500" y="646" width="1" height="51" fill="#c0c0c0"/>
<rect x="504" y="646" width="1" height="53" fill="#c0c0c0"/>
<rect x="508" y="646" width="1" height="54" fill="#c0c0c0"/>
<rect x="512" y="646" width="1" height="54" fill="#c0c0c0"/>
<rect x="516" y="646" width="1" height="53" fill="#c0c0c0"/>
<rect x="520" y="646" width="1" height="53" fill="#c0c0c0"/>
<rect x="524" y="646" width="1" height="49" fill="#c0c0c0"/>
<rect x="528" y="646" width="1" height="48" fill="#c0c0c0"/>
<rect x="532" y="646" width="1" height="44" fill="#c0c0c0"/>
<rect x="536" y="646" width="1" height="40" fill="#c0c0c0"/>
<rect x="540" y="646" width="1" height="38" fill="#c0c0c0"/>
<rect x="544" y="646" width="1" height="38" fill="#c0c0c0"/>
<rect x="548" y="646" width="1" height="37" fill="#c0c0c0"/>
<rect x="552" y="646" width="1" height="35" fill="#c0c0c0"/>
<rect x="556" y="646" width="1" height="33" fill="#c0c0c0"/>
<rect x="560" y="646" width="1" height="30" fill="#c0c0c0"/>
<rect x="564" y="646" width="1" height="25" fill="#c0c0c0"/>
<rect x="568" y="646" width="1" height="21" fill="#c0c0c0"/>
<rect x="572" y="646" width="1" height="18" fill="#c0c0c0"/>
<rect x="576" y="646" width="1" height="16" fill="#c0c0c0"/>
<rect x="580" y="646" width="1" height="17" fill="#c0c0c0"/>
<rect x="584" y="646" width="1" height="16" fill="#c0c0c0"/>
<rect x="588" y="646" width="1" height="16" fill="#c0c0c0"/>
<rect x="592" y="646" width="1" height="18" fill="#c0c0c0"/>
<rect x="596" y="646" width="1" height="19" fill="#c0c0c0"/>
<rect x="600" y="646" width="1" height="19" fill="#c0c0c0"/>
<rect x="604" y="646" width="1" height="19" fill="#c0c0c0"/>
<rect x="608" y="646" width="1" height="20" fill="#c0c0c0"/>
<rect x="612" y="646" width="1" height="22" fill="#c0c0c0"/>
<rect x="616" y="646" width="1" height="26" fill="#c0c0c0"/>
<rect x="620" y="646" width="1" height="30" fill="#c0c0c0"/>
<rect x="624" y="646" width="1" height="36" fill="#c0c0c0"/>
<rect x="628" y="646" width="1" height="42" fill="#c0c0c0"/>
<rect x="632" y="646" width="1" height="44" fill="#c0c0c0"/>
<rect x="636" y="646" width="1" height="44" fill="#c0c0c0"/>
<rect x="640" y="646" width="1" height="45" fill="#c0c0c0"/>
<rect x="644" y="646" width="1" height="48" fill="#c0c0c0"/>
<rect x="648" y="646" width="1" height="49" fill="#c0c0c0"/>
<rect x="652" y="646" width="1" height="50" fill="#c0c0c0"/>
<rect x="656" y="646" width="1" height="54" fill="#c0c0c0"/>
<rect x="660" y="646" width="1" height="54" fill="#c0c0c0"/>
<rect x="664" y="646" width="1" height="55" fill="#c0c0c0"/>
<rect x="668" y="646" width="1" height="57" fill="#c0c0c0"/>
<rect x="672" y="646" width="1" height="56" fill="#c0c0c0"/>
<rect x="676" y="646" width="1" height="55" fill="#c0c0c0"/>
<rect x="680" y="646" width="1" height="53" fill="#c0c0c0"/>
<rect x="684" y="646" width="1" height="52" fill="#c0c0c0"/>
<rect x="688" y="646" width="1" height="52" fill="#c0c0c0"/>
<rect x="692" y="646" width="1" height="50" fill="#c0c0c0"/>
<rect x="696" y="646" width="1" height="47" fill="#c0c0c0"/>
<rect x="700" y="646" width="1" height="44" fill="#c0c0c0"/>
<rect x="704" y="646" width="1" height="38" fill="#c0c0c0"/>
<rect x="708" y="646" width="1" height="38" fill="#c0c0c0"/>
<rect x="712" y="646" width="1" height="38" fill="#c0c0c0"/>
<rect x="716" y="646" width="1" height="35" fill="#c0c0c0"/>
<rect x="720" y="646" width="1" height="31" fill="#c0c0c0"/>
<rect x="724" y="646" width="1" height="29" fill="#c0c0c0"/>
<rect x="728" y="646" width="1" height="24" fill="#c0c0c0"/>
<rect x="732" y="646" width="1" height="20" fill="#c0c0c0"/>
<rect x="736" y="646" width="1" height="17" fill="#c0c0c0"/>
<rect x="740" y="646" width="1" height="14" fill="#c0c0c0"/>
<rect x="744" y="646" width="1" height="9" fill="#c0c0c0"/>
<rect x="748" y="646" width="1" height="5" fill="#c0c0c0"/>
<rect x="752" y="646" width="1" height="1" fill="#c0c0c0"/>
<rect x="756" y="646" width="1" height="1" fill="#c0c0c0"/>
<rect x="760" y="646" width="1" height="5" fill="#c0c0c0"/>
<rect x="764" y="646" width="1" height="6" fill="#c0c0c0"/>
<rect x="768" y="646" width="1" height="6" fill="#c0c0c0"/>
<rect x="772" y="646" width="1" height="6" fill="#c0c0c0"/>
<rect x="776" y="646" width="1" height="7" fill="#c0c0c0"/>
<rect x="780" y="646" width="1" height="8" fill="#c0c0c0"/>
<rect x="784" y="646" width="1" height="12" fill="#c0c0c0"/>
<rect x="788" y="646" width="1" height="15" fill="#c0c0c0"/>
<rect x="792" y="646" width="1" height="18" fill="#c0c0c0"/>
<rect x="796" y="646" width="1" height="21" fill="#c0c0c0"/>
<rect x="800" y="646" width="1" height="24" fill="#c0c0c0"/>
<rect x="804" y="646" width="1" height="27" fill="#c0c0c0"/>
<rect x="808" y="646" width="1" height="27" fill="#c0c0c0"/>
<rect x="812" y="646" width="1" height="27" fill="#c0c0c0"/>
<rect x="816" y="646" width="1" height="25" fill="#c0c0c0"/>
<rect x="820" y="646" width="1" height="23" fill="#c0c0c0"/>
<rect x="824" y="646" width="1" height="22" fill="#c0c0c0"/>
<rect x="828" y="646" width="1" height="19" fill="#c0c0c0"/>
<rect x="832" y="646" width="1" height="17" fill="#c0c0c0"/>
<rect x="836" y="646" width="1" height="14" fill="#c0c0c0"/>
<rect x="840" y="646" width="1" height="9" fill="#c0c0c0"/>
<rect x="844" y="646" width="1" height="6" fill="#c0c0c0"/>
<rect x="848" y="646" width="1" height="3" fill="#c0c0c0"/>
<rect x="852" y="646" width="1" height="1" fill="#c0c0c0"/>
<rect x="856" y="646" width="1" height="2" fill="#c0c0c0"/>
<rect x="860" y="646" width="1" height="6" fill="#c0c0c0"/>
<rect x="864" y="646" width="1" height="7" fill="#c0c0c0"/>
<rect x="868" y="646" width="1" height="7" fill="#c0c0c0"/>
<rect x="872" y="646" width="1" height="7" fill="#c0c0c0"/>
<rect x="876" y="646" width="1" height="10" fill="#c0c0c0"/>
<rect x="880" y="646" width="1" height="11" fill="#c0c0c0"/>
<rect x="884" y="646" width="1" height="10" fill="#c0c0c0"/>
<rect x="888" y="646" width="1" height="10" fill="#c0c0c0"/>
<rect x="892" y="646" width="1" height="10" fill="#c0c0c0"/>
<rect x="896" y="646" width="1" height="10" fill="#c0c0c0"/>
<rect x="900" y="646" width="1" height="10" fill="#c0c0c0"/>
<rect x="904" y="646" width="1" height="8" fill="#c0c0c0"/>
<rect x="908" y="646" width="1" height="7" fill="#c0c0c0"/>
<rect x="912" y="646" width="1" height="8" fill="#c0c0c0"/>
<rect x="916" y="646" width="1" height="10" fill="#c0c0c0"/>
<rect x="920" y="646" width="1" height="12" fill="#c0c0c0"/>
<rect x="924" y="646" width="1" height="13" fill="#c0c0c0"/>
<rect x="928" y="646" width="1" height="12" fill="#c0c0c0"/>
<rect x="932" y="646" width="1" height="10" fill="#c0c0c0"/>
<rect x="936" y="646" width="1" height="9" fill="#c0c0c0"/>
<rect x="940" y="646" width="1" height="8" fill="#c0c0c0"/>
<rect x="944" y="646" width="1" height="8" fill="#c0c0c0"/>
<rect x="948" y="646" width="1" height="7" fill="#c0c0c0"/>
<rect x="952" y="646" width="1" height="2" fill="#c0c0c0"/>
<rect x="956" y="644" width="1" height="3" fill="#c0c0c0"/>
<rect x="960" y="640" width="1" height="7" fill="#c0c0c0"/>
<rect x="964" y="637" width="1" height="10" fill="#c0c0c0"/>
<rect x="968" y="635" width="1" height="12" fill="#c0c0c0"/>
<rect x="972" y="634" width="1" height="13" fill="#c0c0c0"/>
<rect x="976" y="636" width="1" height="11" fill="#c0c0c0"/>
<rect x="980" y="639" width="1" height="8" fill="#c0c0c0"/>
<rect x="984" y="642" width="1" height="5" fill="#c0c0c0"/>
<rect x="988" y="643" width="1" height="4" fill="#c0c0c0"/>
<rect x="992" y="643" width="1" height="4" fill="#c0c0c0"/>
<rect x="996" y="642" width="1" height="5" fill="#c0c0c0"/>
<rect x="1000" y="643" width="1" height="4" fill="#c0c0c0"/>
<rect x="1004" y="643" width="1" height="4" fill="#c0c0c0"/>
<rect x="1008" y="644" width="1" height="3" fill="#c0c0c0"/>
<rect x="1012" y="646" width="1" height="1" fill="#c0c0c0"/>
<rect x="1016" y="646" width="1" height="1" fill="#c0c0c0"/>
<rect x="1020" y="646" width="1" height="1" fill="#c0c0c0"/>
<rect x="1024" y="646" width="1" height="1" fill="#c0c0c0"/>
<rect x="1028" y="646" width="1" height="3" fill="#c0c0c0"/>
<rect x="1032" y="646" width="1" height="4" fill="#c0c0c0"/>
<rect x="1036" y="646" width="1" height="6" fill="#c0c0c0"/>
<rect x="1040" y="646" width="1" height="7" fill="#c0c0c0"/>
<rect x="1044" y="646" width="1" height="9" fill="#c0c0c0"/>
<rect x="1048" y="646" width="1" height="12" fill="#c0c0c0"/>
<rect x="1052" y="646" width="1" height="14" fill="#c0c0c0"/>
<rect x="1056" y="646" width="1" height="10" fill="#c0c0c0"/>
<rect x="1060" y="646" width="1" height="8" fill="#c0c0c0"/>
<rect x="1064" y="646" width="1" height="8" fill="#c0c0c0"/>
<rect x="1068" y="646" width="1" height="6" fill="#c0c0c0"/>
<rect x="1072" y="646" width="1" height="6" fill="#c0c0c0"/>
<rect x="1076" y="646" width="1" height="7" fill="#c0c0c0"/>
<rect x="1080" y="646" width="1" height="9" fill="#c0c0c0"/>
<rect x="1084" y="646" width="1" height="10" fill="#c0c0c0"/>
<rect x="1088" y="646" width="1" height="9" fill="#c0c0c0"/>
<rect x="1092" y="646" width="1" height="8" fill="#c0c0c0"/>
<rect x="1096" y="646" width="1" height="3" fill="#c0c0c0"/>
<rect x="1100" y="644" width="1" height="3" fill="#c0c0c0"/>
<rect x="1104" y="641" width="1" height="6" fill="#c0c0c0"/>
<rect x="1108" y="638" width="1" height="9" fill="#c0c0c0"/>
<rect x="1112" y="635" width="1" height="12" fill="#c0c0c0"/>
<rect x="1116" y="632" width="1" height="15" fill="#c0c0c0"/>
<rect x="1120" y="635" width="1" height="12" fill="#c0c0c0"/>
<rect x="1124" y="636" width="1" height="11" fill="#c0c0c0"/>
<rect x="1128" y="637" width="1" height="10" fill="#c0c0c0"/>
<rect x="1132" y="638" width="1" height="9" fill="#c0c0c0"/>
<rect x="1136" y="639" width="1" height="8" fill="#c0c0c0"/>
<rect x="1140" y="641" width="1" height="6" fill="#c0c0c0"/>
<rect x="1144" y="642" width="1" height="5" fill="#c0c0c0"/>
<rect x="1148" y="644" width="1" height="3" fill="#c0c0c0"/>
<rect x="1152" y="645" width="1" height="2" fill="#c0c0c0"/>
<rect x="1156" y="645" width="1" height="2" fill="#c0c0c0"/>
<rect x="1160" y="644" width="1" height="3" fill="#c0c0c0"/>
<rect x="1164" y="644" width="1" height="3" fill="#c0c0c0"/>
<rect x="1168" y="643" width="1" height="4" fill="#c0c0c0"/>
<rect x="1172" y="642" width="1" height="5" fill="#c0c0c0"/>
<rect x="1176" y="640" width="1" height="7" fill="#c0c0c0"/>
<rect x="1180" y="640" width="1" height="7" fill="#c0c0c0"/>
<rect x="1184" y="639" width="1" height="8" fill="#c0c0c0"/>
<rect x="1188" y="640" width="1" height="7" fill="#c0c0c0"/>
<rect x="1192" y="643" width="1" height="4" fill="#c0c0c0"/>
<rect x="1196" y="643" width="1" height="4" fill="#c0c0c0"/>
<rect x="1200" y="641" width="1" height="6" fill="#c0c0c0"/>
<rect x="1204" y="639" width="1" height="8" fill="#c0c0c0"/>
<rect x="1208" y="638" width="1" height="9" fill="#c0c0c0"/>
<rect x="1212" y="638" width="1" height="9" fill="#c0c0c0"/>
<rect x="1216" y="639" width="1" height="8" fill="#c0c0c0"/>
<rect x="1220" y="641" width="1" height="6" fill="#c0c0c0"/>
<rect x="1224" y="642" width="1" height="5" fill="#c0c0c0"/>
<rect x="1228" y="643" width="1" height="4" fill="#c0c0c0"/>
<rect x="1232" y="644" width="1" height="3" fill="#c0c0c0"/>
<rect x="1236" y="643" width="1" height="4" fill="#c0c0c0"/>
<rect x="1240" y="641" width="1" height="6" fill="#c0c0c0"/>
<rect x="1244" y="637" width="1" height="10" fill="#c0c0c0"/>
<rect x="1248" y="632" width="1" height="15" fill="#c0c0c0"/>
<rect x="1252" y="631" width="1" height="16" fill="#c0c0c0"/>
<rect x="1256" y="629" width="1" height="18" fill="#c0c0c0"/>
<rect x="1260" y="628" width="1" height="19" fill="#c0c0c0"/>
<rect x="1264" y="629" width="1" height="18" fill="#c0c0c0"/>
<rect x="1268" y="631" width="1" height="16" fill="#c0c0c0"/>
<rect x="1272" y="631" width="1" height="16" fill="#c0c0c0"/>
<rect x="1276" y="631" width="1" height="16" fill="#c0c0c0"/>
<rect x="1280" y="632" width="1" height="15" fill="#c0c0c0"/>
<path d="M597 663h3v1h-3zM603 663h3v1h-3zM844 663h2v1h-2zM616 666h2v1h-2zM813 666h2v1h-2zM621 668h2v1h-2zM819 668h3v1h-3zM130 640h2v1h-2zM1006 640h2v1h-2zM1155 640h3v1h-3zM1203 640h3v1h-3zM1216 640h2v1h-2zM1221 640h3v1h-3zM1227 640h3v1h-3zM1233 640h3v1h-3zM1239 640h3v1h-3zM459 682h3v1h-3zM561 682h2v1h-2zM46 648h3v1h-3zM179 648h2v1h-2zM963 648h2v1h-2zM1041 648h2v1h-2zM64 653h3v1h-3zM196 653h3v1h-3zM238 653h2v1h-2zM394 653h2v1h-2zM765 653h2v1h-2zM861 653h2v1h-2zM885 653h2v1h-2zM1059 653h3v1h-3zM1089 653h3v1h-3zM334 654h2v1h-2zM789 654h2v1h-2zM951 654h2v1h-2zM1065 654h3v1h-3zM1071 654h3v1h-3zM1077 654h3v1h-3zM1083 654h3v1h-3zM429 667h2v1h-2zM586 667h2v1h-2zM837 667h2v1h-2zM4 631h2v1h-2zM1270 631h2v1h-2zM251 658h2v1h-2zM322 658h3v1h-3zM406 658h2v1h-2zM83 660h2v1h-2zM100 660h2v1h-2zM298 660h3v1h-3zM411 660h3v1h-3zM754 660h2v1h-2zM801 660h2v1h-2zM849 660h2v1h-2zM345 647h2v1h-2zM70 655h2v1h-2zM244 655h2v1h-2zM892 655h2v1h-2zM897 655h3v1h-3zM903 655h3v1h-3zM909 655h3v1h-3zM915 655h3v1h-3zM921 655h3v1h-3zM927 655h3v1h-3zM933 655h3v1h-3zM939 655h3v1h-3zM945 655h3v1h-3zM40 645h2v1h-2zM173 645h2v1h-2zM969 645h2v1h-2zM1029 645h3v1h-3zM1114 645h2v1h-2zM58 651h3v1h-3zM190 651h2v1h-2zM208 651h3v1h-3zM214 651h3v1h-3zM220 651h3v1h-3zM226 651h3v1h-3zM772 651h2v1h-2zM777 651h3v1h-3zM783 651h2v1h-2zM868 651h2v1h-2zM873 651h3v1h-3zM879 651h3v1h-3zM957 651h2v1h-2zM1048 651h2v1h-2zM76 657h2v1h-2zM107 657h2v1h-2zM328 657h3v1h-3zM795 657h2v1h-2zM501 688h2v1h-2zM549 688h2v1h-2zM717 688h2v1h-2zM256 659h3v1h-3zM262 659h3v1h-3zM268 659h3v1h-3zM274 659h3v1h-3zM280 659h3v1h-3zM286 659h3v1h-3zM292 659h3v1h-3zM304 659h3v1h-3zM310 659h3v1h-3zM316 659h3v1h-3zM22 636h2v1h-2zM142 636h2v1h-2zM154 636h3v1h-3zM1137 636h3v1h-3zM1258 636h2v1h-2zM472 680h2v1h-2zM477 680h3v1h-3zM748 665h2v1h-2zM88 661h3v1h-3zM94 661h2v1h-2zM160 638h3v1h-3zM987 638h3v1h-3zM993 638h3v1h-3zM1150 638h2v1h-2zM1251 638h3v1h-3zM418 662h2v1h-2zM1185 641h3v1h-3zM1191 641h3v1h-3zM1197 641h3v1h-3zM676 699h2v1h-2zM681 699h3v1h-3zM693 699h3v1h-3zM35 642h2v1h-2zM975 642h2v1h-2zM1011 642h3v1h-3zM1119 642h2v1h-2zM1162 642h2v1h-2zM1179 642h3v1h-3zM52 649h2v1h-2zM184 649h2v1h-2zM1107 649h2v1h-2zM640 679h2v1h-2zM730 679h2v1h-2zM825 669h3v1h-3zM831 669h3v1h-3zM663 694h2v1h-2zM705 694h2v1h-2zM742 670h2v1h-2zM148 635h3v1h-3zM363 635h3v1h-3zM10 633h3v1h-3zM531 696h2v1h-2zM573 674h2v1h-2zM125 643h2v1h-2zM1017 643h3v1h-3zM1168 643h2v1h-2zM1173 643h3v1h-3zM658 692h2v1h-2zM202 652h3v1h-3zM232 652h3v1h-3zM1053 652h3v1h-3zM1095 652h3v1h-3zM544 690h2v1h-2zM537 693h2v1h-2zM1023 644h3v1h-3zM442 675h2v1h-2zM633 675h2v1h-2zM136 637h3v1h-3zM358 637h2v1h-2zM370 637h2v1h-2zM1131 637h3v1h-3zM1144 637h2v1h-2zM423 664h2v1h-2zM592 664h2v1h-2zM609 664h3v1h-3zM808 664h2v1h-2zM1102 650h2v1h-2zM1035 646h3v1h-3zM454 681h2v1h-2zM465 681h3v1h-3zM483 681h2v1h-2zM520 697h2v1h-2zM525 697h3v1h-3zM669 697h2v1h-2zM699 697h2v1h-2zM29 639h2v1h-2zM375 639h2v1h-2zM981 639h2v1h-2zM1000 639h2v1h-2zM1126 639h2v1h-2zM1209 639h3v1h-3zM1246 639h2v1h-2zM489 684h2v1h-2zM447 678h2v1h-2zM513 695h2v1h-2zM495 686h3v1h-3zM400 656h2v1h-2zM687 700h3v1h-3zM16 634h2v1h-2zM1263 634h2v1h-2zM579 671h2v1h-2zM711 691h2v1h-2zM555 685h2v1h-2zM1275 630h2v1h-2zM807 663h1v1h-1zM747 666h1v1h-1zM839 666h1v1h-1zM431 668h1v1h-1zM585 668h1v1h-1zM166 640h1v1h-1zM377 640h1v1h-1zM1125 640h1v1h-1zM1245 640h1v1h-1zM485 682h1v1h-1zM645 682h1v1h-1zM119 648h1v1h-1zM388 648h1v1h-1zM1109 648h1v1h-1zM113 653h1v1h-1zM953 653h1v1h-1zM112 654h1v1h-1zM240 654h1v1h-1zM887 654h1v1h-1zM891 654h1v1h-1zM815 667h1v1h-1zM78 658h1v1h-1zM106 658h1v1h-1zM797 658h1v1h-1zM96 660h1v1h-1zM120 647h1v1h-1zM178 647h1v1h-1zM387 647h1v1h-1zM965 647h1v1h-1zM333 655h1v1h-1zM399 655h1v1h-1zM761 655h1v1h-1zM791 655h1v1h-1zM857 655h1v1h-1zM646 683h1v1h-1zM725 683h1v1h-1zM339 651h1v1h-1zM1101 651h1v1h-1zM250 657h1v1h-1zM405 657h1v1h-1zM759 657h1v1h-1zM855 657h1v1h-1zM652 688h1v1h-1zM82 659h1v1h-1zM102 659h1v1h-1zM851 659h1v1h-1zM369 636h1v1h-1zM1143 636h1v1h-1zM453 680h1v1h-1zM729 680h1v1h-1zM425 665h1v1h-1zM591 665h1v1h-1zM615 665h1v1h-1zM417 661h1v1h-1zM753 661h1v1h-1zM803 661h1v1h-1zM28 638h1v1h-1zM357 638h1v1h-1zM983 638h1v1h-1zM999 638h1v1h-1zM34 641h1v1h-1zM167 641h1v1h-1zM353 641h1v1h-1zM977 641h1v1h-1zM1121 641h1v1h-1zM1161 641h1v1h-1zM168 642h1v1h-1zM352 642h1v1h-1zM381 642h1v1h-1zM1167 642h1v1h-1zM118 649h1v1h-1zM341 649h1v1h-1zM389 649h1v1h-1zM1043 649h1v1h-1zM449 679h1v1h-1zM567 679h1v1h-1zM623 669h1v1h-1zM671 698h1v1h-1zM675 698h1v1h-1zM435 670h1v1h-1zM581 670h1v1h-1zM18 635h1v1h-1zM144 635h1v1h-1zM569 677h1v1h-1zM1265 633h1v1h-1zM515 696h1v1h-1zM519 696h1v1h-1zM701 696h1v1h-1zM441 674h1v1h-1zM737 674h1v1h-1zM575 673h1v1h-1zM629 673h1v1h-1zM351 643h1v1h-1zM382 643h1v1h-1zM508 692h1v1h-1zM539 692h1v1h-1zM114 652h1v1h-1zM192 652h1v1h-1zM393 652h1v1h-1zM767 652h1v1h-1zM771 652h1v1h-1zM785 652h1v1h-1zM863 652h1v1h-1zM867 652h1v1h-1zM713 690h1v1h-1zM509 693h1v1h-1zM707 693h1v1h-1zM124 644h1v1h-1zM172 644h1v1h-1zM383 644h1v1h-1zM971 644h1v1h-1zM736 675h1v1h-1zM551 687h1v1h-1zM651 687h1v1h-1zM719 687h1v1h-1zM24 637h1v1h-1zM1149 637h1v1h-1zM1257 637h1v1h-1zM843 664h1v1h-1zM54 650h1v1h-1zM186 650h1v1h-1zM340 650h1v1h-1zM959 650h1v1h-1zM1047 650h1v1h-1zM42 646h1v1h-1zM347 646h1v1h-1zM1113 646h1v1h-1zM471 681h1v1h-1zM563 681h1v1h-1zM132 639h1v1h-1zM1005 639h1v1h-1zM1215 639h1v1h-1zM557 684h1v1h-1zM647 684h1v1h-1zM724 684h1v1h-1zM568 678h1v1h-1zM639 678h1v1h-1zM533 695h1v1h-1zM665 695h1v1h-1zM72 656h1v1h-1zM246 656h1v1h-1zM760 656h1v1h-1zM856 656h1v1h-1zM436 671h1v1h-1zM627 671h1v1h-1zM741 671h1v1h-1zM507 691h1v1h-1zM543 691h1v1h-1zM657 691h1v1h-1zM635 676h1v1h-1zM735 676h1v1h-1zM503 689h1v1h-1zM653 689h1v1h-1zM6 632h1v1h-1zM1269 632h1v1h-1zM491 685h1v1h-1zM723 685h1v1h-1zM437 672h1v1h-1zM628 672h1v1h-1z" fill="#ff0000"/>
<rect x="3" y="26" width="1610" height="1" fill="#000"/>
<rect x="3" y="26" width="1" height="497" fill="#000"/>
<rect x="3" y="522" width="1610" height="1" fill="#000"/>
<rect x="3" y="524" width="1610" height="1" fill="#000"/>
<rect x="3" y="524" width="1" height="92" fill="#000"/>
<rect x="3" y="615" width="1610" height="1" fill="#000"/>
<rect x="3" y="617" width="1610" height="1" fill="#000"/>
<rect x="3" y="617" width="1" height="91" fill="#000"/>
<rect x="3" y="707" width="1610" height="1" fill="#000"/>
<rect x="1612" y="26" width="1" height="497" fill="#000"/>
<rect x="1612" y="524" width="1" height="92" fill="#000"/>
<rect x="1612" y="617" width="1" height="91" fill="#000"/>
<rect x="4" y="708" width="1" height="3" fill="#000"/>
<rect x="68" y="708" width="1" height="3" fill="#000"/>
<rect x="132" y="708" width="1" height="3" fill="#000"/>
<rect x="196" y="708" width="1" height="3" fill="#000"/>
<rect x="260" y="708" width="1" height="3" fill="#000"/>
<rect x="324" y="708" width="1" height="3" fill="#000"/>
<rect x="388" y="708" width="1" height="3" fill="#000"/>
<rect x="452" y="708" width="1" height="3" fill="#000"/>
<rect x="516" y="708" width="1" height="3" fill="#000"/>
<rect x="580" y="708" width="1" height="3" fill="#000"/>
<rect x="644" y="708" width="1" height="3" fill="#000"/>
<rect x="708" y="708" width="1" height="3" fill="#000"/>
<rect x="772" y="708" width="1" height="3" fill="#000"/>
<rect x="836" y="708" width="1" height="3" fill="#000"/>
<rect x="900" y="708" width="1" height="3" fill="#000"/>
<rect x="964" y="708" width="1" height="3" fill="#000"/>
<rect x="1028" y="708" width="1" height="3" fill="#000"/>
<rect x="1092" y="708" width="1" height="3" fill="#000"/>
<rect x="1156" y="708" width="1" height="3" fill="#000"/>
<rect x="1220" y="708" width="1" height="3" fill="#000"/>
<rect x="1613" y="57" width="2" height="1" fill="#000"/>
<rect x="1613" y="90" width="2" height="1" fill="#000"/>
<rect x="1613" y="123" width="2" height="1" fill="#000"/>
<rect x="1613" y="156" width="2" height="1" fill="#000"/>
<rect x="1613" y="189" width="2" height="1" fill="#000"/>
<rect x="1613" y="222" width="2" height="1" fill="#000"/>
<rect x="1613" y="255" width="2" height="1" fill="#000"/>
<rect x="1613" y="288" width="2" height="1" fill="#000"/>
<rect x="1613" y="321" width="2" height="1" fill="#000"/>
<rect x="1613" y="354" width="2" height="1" fill="#000"/>
<rect x="1613" y="387" width="2" height="1" fill="#000"/>
<rect x="1613" y="420" width="2" height="1" fill="#000"/>
<rect x="1613" y="453" width="2" height="1" fill="#000"/>
<rect x="1613" y="486" width="2" height="1" fill="#000"/>
<rect x="1613" y="519" width="2" height="1" fill="#000"/>
<rect x="3" y="226" width="6" height="6" fill="#ff0000"/>
<rect x="5" y="228" width="2" height="2" fill="#fff"/>
<rect x="3" y="319" width="6" height="6" fill="#ff0000"/>
<rect x="5" y="321" width="2" height="2" fill="#fff"/>
<rect x="3" y="390" width="6" height="6" fill="#7fff00"/>
<rect x="5" y="392" width="2" height="2" fill="#fff"/>
<rect x="3" y="478" width="6" height="6" fill="#0000ff"/>
<rect x="5" y="480" width="2" height="2" fill="#fff"/>
<rect x="1613" y="526" width="2" height="1" fill="#000"/>
<rect x="1613" y="614" width="2" height="1" fill="#000"/>
<rect x="1613" y="619" width="2" height="1" fill="#000"/>
<rect x="1613" y="646" width="2" height="1" fill="#000"/>
<rect x="1613" y="706" width="1" height="1" fill="#000"/>
</g>
<text x="1618.2" y="61" font-size="9.5" fill="#000" stroke="#000" stroke-width="0.3" textLength="33" lengthAdjust="spacingAndGlyphs">1.26430</text>
<text x="1618.2" y="94" font-size="9.5" fill="#000" stroke="#000" stroke-width="0.3" textLength="33" lengthAdjust="spacingAndGlyphs">1.25970</text>
<text x="1618.2" y="127" font-size="9.5" fill="#000" stroke="#000" stroke-width="0.3" textLength="33" lengthAdjust="spacingAndGlyphs">1.25500</text>
<text x="1618.2" y="160" font-size="9.5" fill="#000" stroke="#000" stroke-width="0.3" textLength="33" lengthAdjust="spacingAndGlyphs">1.25040</text>
<text x="1618.2" y="193" font-size="9.5" fill="#000" stroke="#000" stroke-width="0.3" textLength="33" lengthAdjust="spacingAndGlyphs">1.24570</text>
<text x="1618.2" y="226" font-size="9.5" fill="#000" stroke="#000" stroke-width="0.3" textLength="33" lengthAdjust="spacingAndGlyphs">1.24110</text>
<text x="1618.2" y="259" font-size="9.5" fill="#000" stroke="#000" stroke-width="0.3" textLength="33" lengthAdjust="spacingAndGlyphs">1.23640</text>
<text x="1618.2" y="292" font-size="9.5" fill="#000" stroke="#000" stroke-width="0.3" textLength="33" lengthAdjust="spacingAndGlyphs">1.23180</text>
<text x="1618.2" y="358" font-size="9.5" fill="#000" stroke="#000" stroke-width="0.3" textLength="33" lengthAdjust="spacingAndGlyphs">1.22250</text>
<text x="1618.2" y="391" font-size="9.5" fill="#000" stroke="#000" stroke-width="0.3" textLength="33" lengthAdjust="spacingAndGlyphs">1.21780</text>
<text x="1618.2" y="424" font-size="9.5" fill="#000" stroke="#000" stroke-width="0.3" textLength="33" lengthAdjust="spacingAndGlyphs">1.21320</text>
<text x="1618.2" y="457" font-size="9.5" fill="#000" stroke="#000" stroke-width="0.3" textLength="33" lengthAdjust="spacingAndGlyphs">1.20850</text>
<text x="1618.2" y="490" font-size="9.5" fill="#000" stroke="#000" stroke-width="0.3" textLength="33" lengthAdjust="spacingAndGlyphs">1.20390</text>
<text x="1618.2" y="523" font-size="9.5" fill="#000" stroke="#000" stroke-width="0.3" textLength="33" lengthAdjust="spacingAndGlyphs">1.19920</text>
<g shape-rendering="crispEdges">
<rect x="1614" y="223" width="41" height="11" fill="#ff0000"/>
<rect x="1614" y="316" width="41" height="11" fill="#ff0000"/>
<rect x="1614" y="387" width="41" height="11" fill="#7fff00"/>
<rect x="1614" y="410" width="41" height="11" fill="#000000"/>
<rect x="1614" y="475" width="41" height="11" fill="#0000ff"/>
</g>
<text x="1618.3" y="232" font-size="9.5" fill="#fff" stroke="#fff" stroke-width="0.12" textLength="33" lengthAdjust="spacingAndGlyphs">1.24013</text>
<text x="1618.3" y="325" font-size="9.5" fill="#fff" stroke="#fff" stroke-width="0.12" textLength="33" lengthAdjust="spacingAndGlyphs">1.22704</text>
<text x="1618.3" y="396" font-size="9.5" fill="#fff" stroke="#fff" stroke-width="0.12" textLength="33" lengthAdjust="spacingAndGlyphs">1.21704</text>
<text x="1618.3" y="419" font-size="9.5" fill="#fff" stroke="#fff" stroke-width="0.12" textLength="33" lengthAdjust="spacingAndGlyphs">1.21384</text>
<text x="1618.3" y="484" font-size="9.5" fill="#fff" stroke="#fff" stroke-width="0.12" textLength="33" lengthAdjust="spacingAndGlyphs">1.20456</text>
<text x="1616.5" y="535" font-size="9.5" fill="#000" stroke="#000" stroke-width="0.3" textLength="14" lengthAdjust="spacingAndGlyphs">100</text>
<text x="1616" y="556" font-size="9.5" fill="#000" stroke="#000" stroke-width="0.3" textLength="9.5" lengthAdjust="spacingAndGlyphs">70</text>
<text x="1616" y="592" font-size="9.5" fill="#000" stroke="#000" stroke-width="0.3" textLength="9.5" lengthAdjust="spacingAndGlyphs">30</text>
<text x="1616.5" y="612" font-size="9.5" fill="#000" stroke="#000" stroke-width="0.3">0</text>
<text x="1616.5" y="628" font-size="9.5" fill="#000" stroke="#000" stroke-width="0.3" textLength="37.5" lengthAdjust="spacingAndGlyphs">0.002429</text>
<text x="1616.5" y="650" font-size="9.5" fill="#000" stroke="#000" stroke-width="0.3" textLength="17.5" lengthAdjust="spacingAndGlyphs">0.00</text>
<text x="1616" y="704" font-size="9.5" fill="#000" stroke="#000" stroke-width="0.3" textLength="31" lengthAdjust="spacingAndGlyphs">-0.0054</text>
<path d="M7 33 L14 33 L10.5 36.5 Z" fill="#000"/>
<text y="38" font-size="9.5" fill="#000" stroke="#000" stroke-width="0.3"><tspan x="19.3" textLength="55.5" lengthAdjust="spacingAndGlyphs">USDCAD,H4</tspan> <tspan x="81.5" textLength="33" lengthAdjust="spacingAndGlyphs">1.21398</tspan> <tspan x="117.3" textLength="33" lengthAdjust="spacingAndGlyphs">1.21448</tspan> <tspan x="153.2" textLength="33" lengthAdjust="spacingAndGlyphs">1.21378</tspan> <tspan x="189" textLength="33" lengthAdjust="spacingAndGlyphs">1.21384</tspan></text>
<text y="537" font-size="9.5" fill="#000" stroke="#000" stroke-width="0.3"><tspan x="8.2" textLength="32" lengthAdjust="spacingAndGlyphs">RSI(14)</tspan> <tspan x="43" textLength="33" lengthAdjust="spacingAndGlyphs">56.5171</tspan></text>
<text y="630" font-size="9.5" fill="#000" stroke="#000" stroke-width="0.3"><tspan x="8.3" textLength="65.5" lengthAdjust="spacingAndGlyphs">MACD(12,26,9)</tspan> <tspan x="77.2" textLength="38" lengthAdjust="spacingAndGlyphs">0.001292</tspan> <tspan x="118" textLength="38" lengthAdjust="spacingAndGlyphs">0.001439</tspan></text>
<text x="3.3" y="720" font-size="9.5" fill="#000" stroke="#000" stroke-width="0.3" textLength="51.5" lengthAdjust="spacingAndGlyphs">31 Mar 2021</text>
<text x="67" y="720" font-size="9.5" fill="#000" stroke="#000" stroke-width="0.3">5 Apr 23:00</text>
<text x="131" y="720" font-size="9.5" fill="#000" stroke="#000" stroke-width="0.3">8 Apr 14:00</text>
<text x="195" y="720" font-size="9.5" fill="#000" stroke="#000" stroke-width="0.3">13 Apr 04:00</text>
<text x="259" y="720" font-size="9.5" fill="#000" stroke="#000" stroke-width="0.3">15 Apr 22:00</text>
<text x="323" y="720" font-size="9.5" fill="#000" stroke="#000" stroke-width="0.3">20 Apr 14:00</text>
<text x="387" y="720" font-size="9.5" fill="#000" stroke="#000" stroke-width="0.3">23 Apr 04:00</text>
<text x="451" y="720" font-size="9.5" fill="#000" stroke="#000" stroke-width="0.3">27 Apr 22:00</text>
<text x="515" y="720" font-size="9.5" fill="#000" stroke="#000" stroke-width="0.3">30 Apr 14:00</text>
<text x="579" y="720" font-size="9.5" fill="#000" stroke="#000" stroke-width="0.3">5 May 04:00</text>
<text x="643" y="720" font-size="9.5" fill="#000" stroke="#000" stroke-width="0.3">7 May 22:00</text>
<text x="707" y="720" font-size="9.5" fill="#000" stroke="#000" stroke-width="0.3">12 May 14:00</text>
<text x="771" y="720" font-size="9.5" fill="#000" stroke="#000" stroke-width="0.3">17 May 07:00</text>
<text x="835" y="720" font-size="9.5" fill="#000" stroke="#000" stroke-width="0.3">19 May 22:00</text>
<text x="899" y="720" font-size="9.5" fill="#000" stroke="#000" stroke-width="0.3">24 May 15:00</text>
<text x="963" y="720" font-size="9.5" fill="#000" stroke="#000" stroke-width="0.3">27 May 04:00</text>
<text x="1027" y="720" font-size="9.5" fill="#000" stroke="#000" stroke-width="0.3">31 May 23:00</text>
<text x="1091" y="720" font-size="9.5" fill="#000" stroke="#000" stroke-width="0.3">3 Jun 14:00</text>
<text x="1155" y="720" font-size="9.5" fill="#000" stroke="#000" stroke-width="0.3">8 Jun 04:00</text>
<text x="1219" y="720" font-size="9.5" fill="#000" stroke="#000" stroke-width="0.3">10 Jun 22:00</text>
<g shape-rendering="crispEdges">
<rect x="0" y="728" width="1657" height="1" fill="#e3e3e3"/>
<rect x="0" y="731" width="1657" height="19" fill="#f0f0f0"/>
<rect x="0" y="750" width="1657" height="1" fill="#fafafa"/>
<rect x="0" y="730" width="381" height="1" fill="#000"/>
<rect x="472" y="730" width="1185" height="1" fill="#000"/>
<rect x="381" y="730" width="1" height="19" fill="#000"/>
<rect x="472" y="730" width="1" height="19" fill="#000"/>
<rect x="381" y="748" width="92" height="1" fill="#000"/>
<rect x="382" y="729" width="90" height="19" fill="#fff"/>
<rect x="0" y="731" width="1" height="19" fill="#404040"/>
<rect x="93" y="733" width="1" height="14" fill="#505050"/>
<rect x="197" y="733" width="1" height="14" fill="#505050"/>
<rect x="289" y="733" width="1" height="14" fill="#505050"/>
<rect x="573" y="733" width="1" height="14" fill="#505050"/>
<rect x="657" y="733" width="1" height="14" fill="#505050"/>
</g>
<text x="14.9" y="745" font-size="12.5" fill="#6e6e6e" stroke="#6e6e6e" stroke-width="0.1" textLength="67.7" lengthAdjust="spacingAndGlyphs">USDCHF,H4</text>
<text x="103.3" y="745" font-size="12.5" fill="#6e6e6e" stroke="#6e6e6e" stroke-width="0.1" textLength="83.1" lengthAdjust="spacingAndGlyphs">USDCNH,Daily</text>
<text x="209.2" y="745" font-size="12.5" fill="#6e6e6e" stroke="#6e6e6e" stroke-width="0.1" textLength="67.9" lengthAdjust="spacingAndGlyphs">EURUSD,H4</text>
<text x="300.3" y="745" font-size="12.5" fill="#6e6e6e" stroke="#6e6e6e" stroke-width="0.1" textLength="69.8" lengthAdjust="spacingAndGlyphs">AUDUSD,H4</text>
<text x="392" y="745" font-size="12.5" fill="#000" stroke="#000" stroke-width="0.1" textLength="68.8" lengthAdjust="spacingAndGlyphs">USDCAD,H4</text>
<text x="482.8" y="745" font-size="12.5" fill="#6e6e6e" stroke="#6e6e6e" stroke-width="0.1" textLength="79.4" lengthAdjust="spacingAndGlyphs">XAUUSD,M30</text>
<text x="583" y="745" font-size="12.5" fill="#6e6e6e" stroke="#6e6e6e" stroke-width="0.1" textLength="63.4" lengthAdjust="spacingAndGlyphs">USOil,Daily</text>
<path d="M1631.5 735.5 L1631.5 742.5 L1628 739 Z" fill="#909090"/>
<path d="M1647 735.5 L1647 742.5 L1650.5 739 Z" fill="#909090"/>
</svg>
</body></html>
